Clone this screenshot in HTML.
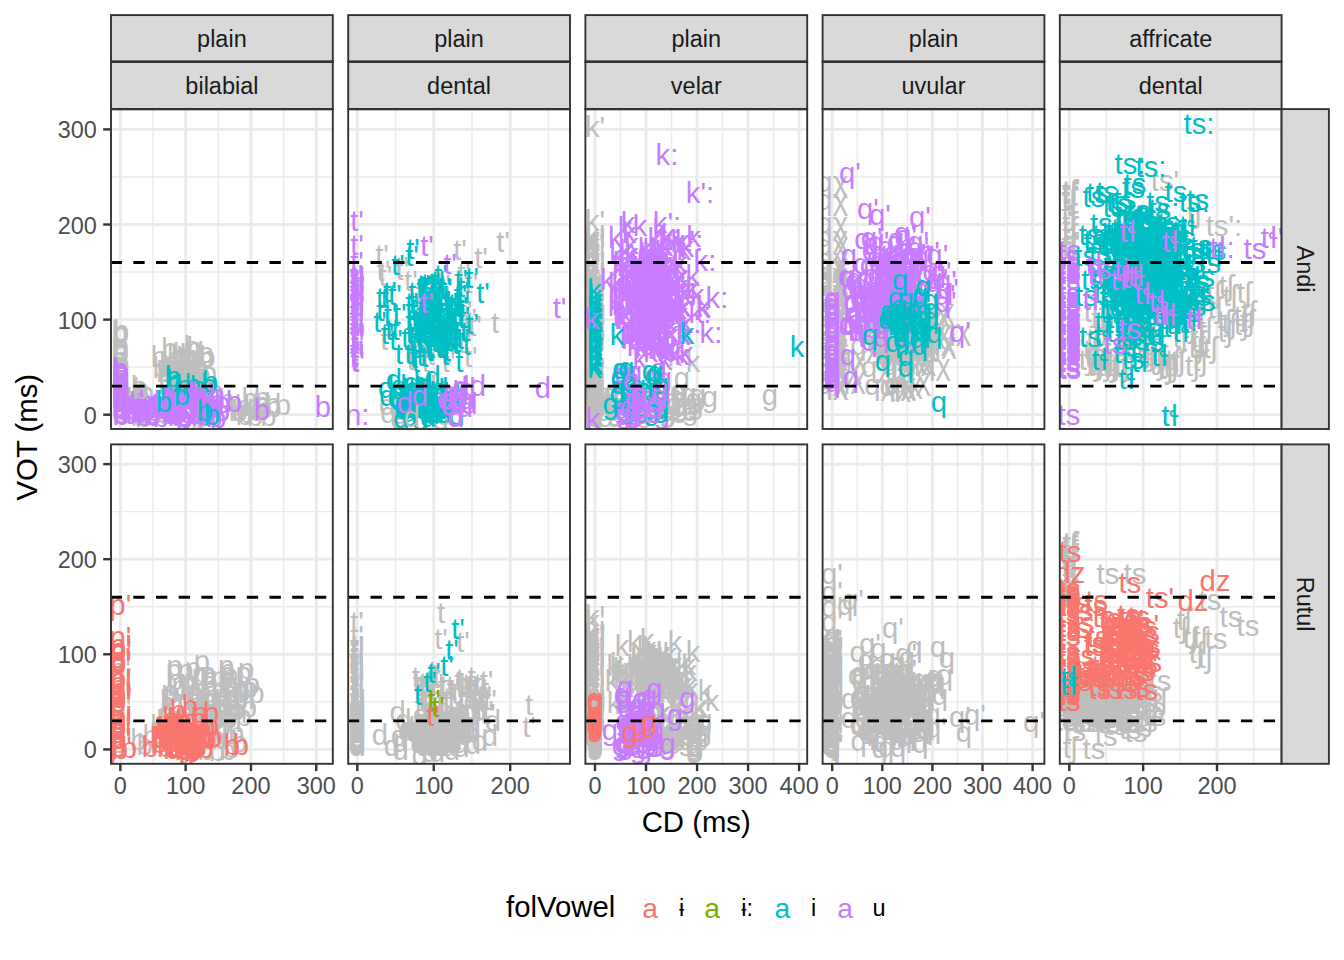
<!DOCTYPE html>
<html><head><meta charset="utf-8"><title>plot</title>
<style>html,body{margin:0;padding:0;background:#fff;}svg{display:block;}
text{font-family:"Liberation Sans","DejaVu Sans",sans-serif;}</style></head>
<body><svg width="1344" height="960" viewBox="0 0 1344 960">
<rect width="1344" height="960" fill="#fff"/>
<defs>
<clipPath id="cp00"><rect x="111.0" y="109.1" width="221.8" height="319.9"/></clipPath>
<clipPath id="cp01"><rect x="348.2" y="109.1" width="221.8" height="319.9"/></clipPath>
<clipPath id="cp02"><rect x="585.4" y="109.1" width="221.8" height="319.9"/></clipPath>
<clipPath id="cp03"><rect x="822.6" y="109.1" width="221.8" height="319.9"/></clipPath>
<clipPath id="cp04"><rect x="1059.8" y="109.1" width="221.8" height="319.9"/></clipPath>
<clipPath id="cp10"><rect x="111.0" y="444.4" width="221.8" height="319.4"/></clipPath>
<clipPath id="cp11"><rect x="348.2" y="444.4" width="221.8" height="319.4"/></clipPath>
<clipPath id="cp12"><rect x="585.4" y="444.4" width="221.8" height="319.4"/></clipPath>
<clipPath id="cp13"><rect x="822.6" y="444.4" width="221.8" height="319.4"/></clipPath>
<clipPath id="cp14"><rect x="1059.8" y="444.4" width="221.8" height="319.4"/></clipPath>
</defs>
<g clip-path="url(#cp00)">
<rect x="111.0" y="109.1" width="221.8" height="319.9" fill="#fff"/>
<line x1="111.0" x2="332.8" y1="367.15" y2="367.15" stroke="#EBEBEB" stroke-width="1.4"/>
<line x1="111.0" x2="332.8" y1="272.05" y2="272.05" stroke="#EBEBEB" stroke-width="1.4"/>
<line x1="111.0" x2="332.8" y1="176.95" y2="176.95" stroke="#EBEBEB" stroke-width="1.4"/>
<line y1="109.1" y2="429.0" x1="153.00" x2="153.00" stroke="#EBEBEB" stroke-width="1.4"/>
<line y1="109.1" y2="429.0" x1="218.30" x2="218.30" stroke="#EBEBEB" stroke-width="1.4"/>
<line y1="109.1" y2="429.0" x1="283.60" x2="283.60" stroke="#EBEBEB" stroke-width="1.4"/>
<line x1="111.0" x2="332.8" y1="414.70" y2="414.70" stroke="#EBEBEB" stroke-width="2.8"/>
<line x1="111.0" x2="332.8" y1="319.60" y2="319.60" stroke="#EBEBEB" stroke-width="2.8"/>
<line x1="111.0" x2="332.8" y1="224.50" y2="224.50" stroke="#EBEBEB" stroke-width="2.8"/>
<line x1="111.0" x2="332.8" y1="129.40" y2="129.40" stroke="#EBEBEB" stroke-width="2.8"/>
<line y1="109.1" y2="429.0" x1="120.35" x2="120.35" stroke="#EBEBEB" stroke-width="2.8"/>
<line y1="109.1" y2="429.0" x1="185.65" x2="185.65" stroke="#EBEBEB" stroke-width="2.8"/>
<line y1="109.1" y2="429.0" x1="250.95" x2="250.95" stroke="#EBEBEB" stroke-width="2.8"/>
<line y1="109.1" y2="429.0" x1="316.25" x2="316.25" stroke="#EBEBEB" stroke-width="2.8"/>
<g text-anchor="middle" font-size="29.3"><g fill="#BEBEBE"><text x="119.7" y="411.7">b</text><text x="120.8" y="361.9">b</text><text x="120.3" y="378.2">b</text><text x="120.6" y="406.7">b</text><text x="119.7" y="342.9">b</text><text x="120.9" y="376.8">b</text><text x="120.8" y="340.6">b</text><text x="120.3" y="401.1">b</text><text x="119.9" y="419.9">b</text><text x="121.0" y="343.0">b</text><text x="119.5" y="386.0">b</text><text x="121.1" y="372.5">b</text><text x="119.9" y="375.9">b</text><text x="119.5" y="359.1">b</text><text x="120.2" y="382.1">b</text><text x="119.9" y="359.9">b</text><text x="119.9" y="379.1">b</text><text x="120.0" y="342.3">b</text><text x="120.9" y="387.2">b</text><text x="120.6" y="356.1">b</text><text x="121.2" y="412.7">b</text><text x="119.7" y="368.4">b</text><text x="120.7" y="400.2">b</text><text x="121.1" y="375.9">b</text><text x="120.9" y="396.8">b</text><text x="120.0" y="389.8">b</text><text x="121.0" y="411.6">b</text><text x="120.4" y="389.9">b</text><text x="119.6" y="360.9">b</text><text x="120.9" y="375.3">b</text><text x="119.8" y="386.6">b</text><text x="120.7" y="397.1">b</text><text x="120.1" y="377.3">b</text><text x="120.4" y="405.9">b</text><text x="120.4" y="373.5">b</text><text x="120.3" y="343.0">b</text><text x="119.6" y="399.6">b</text><text x="121.2" y="390.3">b</text><text x="120.2" y="354.8">b</text><text x="120.4" y="423.0">b</text></g><g fill="#BEBEBE"><text x="187.9" y="365.2">b</text><text x="193.4" y="374.6">b</text><text x="167.4" y="375.2">b</text><text x="182.3" y="400.0">b</text><text x="186.9" y="382.1">b</text><text x="192.0" y="357.1">b</text><text x="207.3" y="367.4">b</text><text x="192.9" y="366.7">b</text><text x="167.4" y="376.9">b</text><text x="174.1" y="378.5">b</text><text x="164.3" y="382.0">b</text><text x="174.7" y="392.6">b</text><text x="160.6" y="377.8">b</text><text x="169.8" y="372.4">b</text><text x="197.8" y="384.2">b</text><text x="195.5" y="399.1">b</text><text x="205.7" y="363.3">b</text><text x="194.7" y="357.8">b</text><text x="183.9" y="409.3">b</text><text x="181.5" y="377.3">b</text><text x="188.1" y="382.7">b</text><text x="185.5" y="371.9">b</text><text x="204.5" y="394.9">b</text><text x="181.2" y="386.9">b</text><text x="196.9" y="396.9">b</text><text x="192.1" y="392.2">b</text><text x="180.3" y="367.5">b</text><text x="176.1" y="396.7">b</text><text x="202.6" y="384.5">b</text><text x="174.8" y="386.8">b</text><text x="214.9" y="401.4">b</text><text x="172.7" y="381.9">b</text><text x="158.9" y="366.6">b</text><text x="188.4" y="382.8">b</text><text x="202.4" y="400.2">b</text><text x="200.0" y="400.9">b</text><text x="175.2" y="366.7">b</text><text x="191.4" y="366.3">b</text><text x="189.4" y="402.4">b</text><text x="166.4" y="393.7">b</text><text x="174.0" y="400.3">b</text><text x="199.1" y="386.7">b</text><text x="172.7" y="408.4">b</text><text x="184.3" y="368.0">b</text><text x="185.0" y="384.3">b</text><text x="188.6" y="379.8">b</text><text x="175.0" y="378.8">b</text><text x="178.9" y="366.5">b</text><text x="173.0" y="391.4">b</text><text x="192.4" y="402.6">b</text><text x="174.2" y="386.2">b</text><text x="206.1" y="395.1">b</text><text x="179.0" y="398.3">b</text><text x="168.4" y="407.7">b</text><text x="187.8" y="380.9">b</text><text x="189.9" y="394.4">b</text><text x="178.4" y="390.7">b</text><text x="169.3" y="358.7">b</text><text x="200.0" y="377.2">b</text><text x="205.3" y="368.1">b</text></g><g fill="#BEBEBE"><text x="199.2" y="428.2">b</text><text x="162.5" y="423.0">b</text><text x="140.4" y="411.9">b</text><text x="261.9" y="412.7">b</text><text x="239.6" y="420.5">b</text><text x="251.6" y="415.8">b</text><text x="178.0" y="414.3">b</text><text x="255.5" y="420.6">b</text><text x="268.3" y="426.2">b</text><text x="147.9" y="419.5">b</text><text x="143.3" y="409.3">b</text><text x="138.8" y="425.8">b</text><text x="243.9" y="425.0">b</text><text x="178.1" y="420.8">b</text><text x="242.9" y="416.0">b</text><text x="211.9" y="412.9">b</text><text x="140.0" y="413.8">b</text><text x="258.9" y="419.8">b</text><text x="264.0" y="417.6">b</text><text x="168.7" y="424.2">b</text><text x="249.7" y="408.7">b</text><text x="226.6" y="410.3">b</text><text x="144.9" y="426.2">b</text><text x="133.9" y="413.3">b</text><text x="273.3" y="416.9">b</text><text x="145.0" y="411.8">b</text><text x="163.5" y="423.4">b</text><text x="143.1" y="426.7">b</text><text x="183.6" y="427.9">b</text><text x="261.7" y="414.4">b</text><text x="165.3" y="418.0">b</text><text x="142.7" y="421.5">b</text><text x="133.8" y="408.7">b</text><text x="272.4" y="414.4">b</text><text x="215.7" y="417.5">b</text></g><g fill="#BEBEBE"><text x="181.0" y="363.5">b</text><text x="139.0" y="396.5">b</text><text x="146.0" y="402.5">b</text><text x="209.0" y="382.5">b</text><text x="262.0" y="407.5">b</text><text x="283.0" y="415.0">b</text><text x="237.0" y="420.5">b</text><text x="255.0" y="425.5">b</text><text x="246.0" y="422.5">b</text><text x="134.0" y="410.5">b</text><text x="150.0" y="415.5">b</text></g><g fill="#C77CFF"><text x="120.0" y="380.5">b</text><text x="121.1" y="424.0">b</text><text x="121.1" y="382.8">b</text><text x="119.9" y="407.1">b</text><text x="121.2" y="403.5">b</text><text x="120.7" y="409.2">b</text><text x="119.9" y="403.5">b</text><text x="120.0" y="389.3">b</text><text x="119.6" y="391.0">b</text><text x="121.2" y="399.0">b</text><text x="120.6" y="408.4">b</text><text x="121.1" y="396.2">b</text><text x="120.0" y="393.2">b</text><text x="120.0" y="418.1">b</text><text x="121.0" y="392.0">b</text><text x="120.1" y="403.6">b</text><text x="120.5" y="406.1">b</text><text x="119.9" y="378.5">b</text><text x="119.9" y="380.9">b</text><text x="120.4" y="380.9">b</text><text x="119.6" y="408.0">b</text><text x="120.0" y="415.5">b</text><text x="120.3" y="418.9">b</text><text x="119.8" y="401.5">b</text><text x="120.9" y="381.2">b</text><text x="121.1" y="385.8">b</text><text x="120.8" y="424.7">b</text><text x="120.9" y="392.8">b</text><text x="119.7" y="402.2">b</text><text x="121.1" y="391.6">b</text></g><g fill="#00BFC4"><text x="209.2" y="395.3">b</text><text x="210.1" y="391.6">b</text><text x="177.4" y="421.2">b</text><text x="204.2" y="421.3">b</text><text x="206.2" y="415.8">b</text><text x="197.9" y="396.5">b</text><text x="183.8" y="395.8">b</text><text x="199.3" y="413.2">b</text><text x="173.9" y="392.7">b</text><text x="213.0" y="418.0">b</text><text x="190.2" y="408.9">b</text><text x="206.8" y="405.9">b</text><text x="181.8" y="402.0">b</text><text x="174.2" y="391.3">b</text></g><g fill="#00BFC4"><text x="173.0" y="386.5">b</text><text x="193.0" y="394.5">b</text><text x="168.0" y="408.5">b</text><text x="181.0" y="406.5">b</text><text x="206.0" y="412.5">b</text></g><g fill="#C77CFF"><text x="149.8" y="418.0">b</text><text x="146.5" y="411.6">b</text><text x="137.3" y="413.0">b</text><text x="127.4" y="415.1">b</text><text x="157.6" y="417.6">b</text><text x="139.2" y="421.5">b</text><text x="132.0" y="410.6">b</text><text x="144.7" y="419.5">b</text><text x="149.9" y="418.4">b</text><text x="151.5" y="423.6">b</text><text x="132.3" y="419.4">b</text><text x="142.6" y="414.5">b</text><text x="139.7" y="420.6">b</text><text x="161.0" y="427.0">b</text><text x="133.8" y="422.1">b</text><text x="124.1" y="411.8">b</text><text x="144.0" y="426.3">b</text><text x="128.9" y="424.3">b</text><text x="160.0" y="416.1">b</text><text x="151.8" y="425.8">b</text><text x="138.0" y="423.1">b</text><text x="153.7" y="421.2">b</text></g><g fill="#C77CFF"><text x="216.4" y="405.1">b</text><text x="215.2" y="415.9">b</text><text x="196.8" y="423.9">b</text><text x="190.3" y="415.9">b</text><text x="176.8" y="406.9">b</text><text x="176.1" y="426.3">b</text><text x="200.0" y="408.0">b</text><text x="200.6" y="417.4">b</text><text x="196.2" y="403.3">b</text><text x="173.3" y="408.0">b</text><text x="209.3" y="417.1">b</text><text x="196.9" y="410.4">b</text><text x="199.1" y="424.6">b</text><text x="199.8" y="417.5">b</text><text x="173.5" y="413.6">b</text><text x="202.3" y="423.0">b</text><text x="203.0" y="418.6">b</text><text x="186.2" y="419.1">b</text><text x="171.0" y="410.6">b</text><text x="197.0" y="413.8">b</text><text x="184.6" y="428.2">b</text><text x="199.3" y="404.4">b</text><text x="214.8" y="416.8">b</text><text x="193.1" y="408.1">b</text><text x="177.9" y="422.9">b</text><text x="218.2" y="427.6">b</text><text x="214.5" y="427.4">b</text><text x="205.4" y="425.6">b</text><text x="174.5" y="415.4">b</text><text x="171.2" y="418.3">b</text><text x="189.2" y="418.4">b</text><text x="169.6" y="421.6">b</text><text x="183.2" y="426.1">b</text><text x="196.3" y="406.6">b</text><text x="161.1" y="419.0">b</text><text x="180.3" y="422.2">b</text><text x="206.1" y="418.6">b</text><text x="201.4" y="410.1">b</text><text x="212.2" y="417.7">b</text><text x="200.4" y="411.4">b</text><text x="185.8" y="423.1">b</text><text x="172.1" y="411.7">b</text><text x="188.9" y="419.0">b</text><text x="173.8" y="423.9">b</text><text x="161.9" y="411.9">b</text><text x="216.6" y="410.5">b</text><text x="171.6" y="409.5">b</text><text x="176.0" y="412.5">b</text><text x="170.5" y="410.2">b</text><text x="222.2" y="413.1">b</text></g><g fill="#C77CFF"><text x="234.0" y="412.0">b</text><text x="262.0" y="420.0">b</text><text x="323.0" y="416.5">b</text><text x="222.0" y="420.5">b</text><text x="215.0" y="414.5">b</text></g><g fill="#BEBEBE"><text x="141.0" y="398.5">b</text></g><g fill="#00BFC4"><text x="164.0" y="411.5">b</text><text x="182.0" y="404.5">b</text><text x="205.0" y="420.5">b</text><text x="173.0" y="386.5">b</text><text x="212.0" y="424.5">b</text></g></g>
<line x1="110.6" x2="332.8" y1="262.54" y2="262.54" stroke="#000" stroke-width="2.9" stroke-dasharray="11.35 11.35"/>
<line x1="110.6" x2="332.8" y1="386.17" y2="386.17" stroke="#000" stroke-width="2.9" stroke-dasharray="11.35 11.35"/>
</g>
<rect x="111.0" y="109.1" width="221.8" height="319.9" fill="none" stroke="#333" stroke-width="1.9"/>
<g clip-path="url(#cp01)">
<rect x="348.2" y="109.1" width="221.8" height="319.9" fill="#fff"/>
<line x1="348.2" x2="570.0" y1="367.15" y2="367.15" stroke="#EBEBEB" stroke-width="1.4"/>
<line x1="348.2" x2="570.0" y1="272.05" y2="272.05" stroke="#EBEBEB" stroke-width="1.4"/>
<line x1="348.2" x2="570.0" y1="176.95" y2="176.95" stroke="#EBEBEB" stroke-width="1.4"/>
<line y1="109.1" y2="429.0" x1="395.52" x2="395.52" stroke="#EBEBEB" stroke-width="1.4"/>
<line y1="109.1" y2="429.0" x1="471.98" x2="471.98" stroke="#EBEBEB" stroke-width="1.4"/>
<line y1="109.1" y2="429.0" x1="548.42" x2="548.42" stroke="#EBEBEB" stroke-width="1.4"/>
<line x1="348.2" x2="570.0" y1="414.70" y2="414.70" stroke="#EBEBEB" stroke-width="2.8"/>
<line x1="348.2" x2="570.0" y1="319.60" y2="319.60" stroke="#EBEBEB" stroke-width="2.8"/>
<line x1="348.2" x2="570.0" y1="224.50" y2="224.50" stroke="#EBEBEB" stroke-width="2.8"/>
<line x1="348.2" x2="570.0" y1="129.40" y2="129.40" stroke="#EBEBEB" stroke-width="2.8"/>
<line y1="109.1" y2="429.0" x1="357.30" x2="357.30" stroke="#EBEBEB" stroke-width="2.8"/>
<line y1="109.1" y2="429.0" x1="433.75" x2="433.75" stroke="#EBEBEB" stroke-width="2.8"/>
<line y1="109.1" y2="429.0" x1="510.20" x2="510.20" stroke="#EBEBEB" stroke-width="2.8"/>
<g text-anchor="middle" font-size="29.3"><g fill="#BEBEBE"><text x="470.8" y="367.1">t'</text><text x="385.4" y="285.9">t'</text><text x="459.4" y="347.1">t'</text><text x="443.6" y="306.9">t'</text><text x="437.6" y="335.0">t'</text><text x="435.2" y="292.9">t'</text><text x="420.9" y="315.0">t'</text><text x="448.7" y="371.5">t'</text><text x="470.2" y="329.1">t'</text><text x="422.3" y="303.2">t'</text><text x="383.4" y="280.5">t'</text><text x="424.2" y="307.9">t'</text><text x="416.1" y="361.8">t'</text><text x="429.9" y="330.7">t'</text><text x="402.4" y="280.2">t'</text><text x="410.9" y="290.8">t'</text><text x="428.5" y="371.8">t'</text><text x="444.1" y="295.1">t'</text><text x="464.9" y="352.9">t'</text><text x="449.8" y="363.2">t'</text><text x="452.5" y="352.2">t'</text><text x="413.6" y="370.2">t'</text><text x="471.4" y="293.1">t'</text><text x="451.6" y="345.2">t'</text><text x="423.8" y="327.8">t'</text><text x="426.6" y="364.9">t'</text><text x="427.6" y="356.1">t'</text><text x="413.6" y="361.0">t'</text><text x="465.5" y="321.3">t'</text><text x="433.9" y="364.5">t'</text></g><g fill="#BEBEBE"><text x="382.0" y="265.0">t'</text><text x="460.0" y="260.0">t'</text><text x="503.0" y="252.0">t'</text><text x="481.0" y="268.0">t'</text><text x="464.0" y="283.0">t'</text><text x="402.0" y="277.0">t'</text><text x="387.0" y="350.0">t'</text><text x="475.0" y="336.0">t'</text></g><g fill="#BEBEBE"><text x="495.0" y="333.4">t</text><text x="430.0" y="359.4">t</text><text x="445.0" y="354.4">t</text></g><g fill="#C77CFF"><text x="357.7" y="325.8">t'</text><text x="356.9" y="311.2">t'</text><text x="357.7" y="296.9">t'</text><text x="358.0" y="306.1">t'</text><text x="358.0" y="309.8">t'</text><text x="358.1" y="345.5">t'</text><text x="357.4" y="328.6">t'</text><text x="357.6" y="334.9">t'</text><text x="357.0" y="300.7">t'</text><text x="357.4" y="366.0">t'</text><text x="357.6" y="288.7">t'</text><text x="357.9" y="347.3">t'</text><text x="358.0" y="299.2">t'</text><text x="357.8" y="287.3">t'</text><text x="357.6" y="306.5">t'</text><text x="356.9" y="360.8">t'</text><text x="356.7" y="329.0">t'</text><text x="358.0" y="304.0">t'</text><text x="356.9" y="361.2">t'</text><text x="357.2" y="346.5">t'</text><text x="356.6" y="314.6">t'</text><text x="356.8" y="342.5">t'</text><text x="356.6" y="367.9">t'</text><text x="356.5" y="347.6">t'</text><text x="356.5" y="305.0">t'</text><text x="357.9" y="296.1">t'</text><text x="356.8" y="344.2">t'</text><text x="357.2" y="285.8">t'</text><text x="358.2" y="295.6">t'</text><text x="356.6" y="312.9">t'</text><text x="357.5" y="348.8">t'</text><text x="356.7" y="312.3">t'</text><text x="356.6" y="322.3">t'</text><text x="357.8" y="348.6">t'</text><text x="358.0" y="350.0">t'</text><text x="358.0" y="345.4">t'</text><text x="357.3" y="302.3">t'</text><text x="357.6" y="310.4">t'</text><text x="356.7" y="322.3">t'</text><text x="358.0" y="293.4">t'</text><text x="357.5" y="317.3">t'</text><text x="357.4" y="294.9">t'</text><text x="358.1" y="305.3">t'</text><text x="357.5" y="319.7">t'</text><text x="356.5" y="332.2">t'</text><text x="356.7" y="287.1">t'</text><text x="356.6" y="296.5">t'</text><text x="356.7" y="339.1">t'</text><text x="357.4" y="370.5">t'</text><text x="358.1" y="371.5">t'</text><text x="356.9" y="322.0">t'</text><text x="356.9" y="335.2">t'</text><text x="357.6" y="354.0">t'</text><text x="357.7" y="305.1">t'</text><text x="357.2" y="329.3">t'</text><text x="356.5" y="285.2">t'</text><text x="357.2" y="292.0">t'</text><text x="357.7" y="303.6">t'</text><text x="356.7" y="298.3">t'</text><text x="356.9" y="301.5">t'</text><text x="357.4" y="323.8">t'</text><text x="357.0" y="339.7">t'</text><text x="356.9" y="363.6">t'</text><text x="358.1" y="347.6">t'</text><text x="357.2" y="328.0">t'</text><text x="357.5" y="286.6">t'</text><text x="357.2" y="329.2">t'</text><text x="356.8" y="290.4">t'</text><text x="357.9" y="314.9">t'</text><text x="357.4" y="364.9">t'</text><text x="357.5" y="308.0">t'</text><text x="358.2" y="315.5">t'</text><text x="356.5" y="343.6">t'</text><text x="356.7" y="309.5">t'</text><text x="357.9" y="342.5">t'</text></g><g fill="#C77CFF"><text x="357.0" y="231.0">t'</text><text x="357.0" y="255.0">t'</text><text x="357.0" y="272.0">t'</text></g><g fill="#00BFC4"><text x="454.3" y="330.3">t'</text><text x="425.3" y="341.5">t'</text><text x="443.8" y="356.3">t'</text><text x="449.2" y="336.0">t'</text><text x="416.1" y="364.8">t'</text><text x="459.8" y="345.0">t'</text><text x="445.5" y="354.8">t'</text><text x="426.9" y="343.4">t'</text><text x="439.3" y="305.9">t'</text><text x="444.1" y="335.7">t'</text><text x="462.9" y="348.7">t'</text><text x="437.9" y="323.4">t'</text><text x="425.9" y="295.9">t'</text><text x="436.3" y="302.5">t'</text><text x="429.3" y="346.9">t'</text><text x="442.3" y="311.4">t'</text><text x="423.3" y="323.8">t'</text><text x="463.3" y="316.8">t'</text><text x="463.2" y="310.6">t'</text><text x="436.1" y="343.3">t'</text><text x="428.2" y="329.2">t'</text><text x="420.0" y="342.5">t'</text><text x="455.2" y="313.7">t'</text><text x="441.6" y="319.0">t'</text><text x="447.8" y="346.1">t'</text><text x="444.4" y="331.8">t'</text><text x="472.2" y="287.8">t'</text><text x="434.6" y="318.7">t'</text><text x="436.1" y="343.3">t'</text><text x="428.9" y="298.7">t'</text><text x="423.2" y="338.0">t'</text><text x="452.3" y="345.7">t'</text><text x="461.4" y="316.5">t'</text><text x="452.9" y="343.0">t'</text><text x="436.7" y="311.4">t'</text><text x="451.3" y="313.0">t'</text><text x="434.9" y="306.5">t'</text><text x="463.5" y="326.8">t'</text><text x="432.0" y="322.5">t'</text><text x="435.8" y="329.9">t'</text><text x="415.1" y="302.4">t'</text><text x="446.1" y="351.8">t'</text><text x="424.8" y="330.4">t'</text><text x="434.6" y="304.1">t'</text><text x="451.2" y="323.3">t'</text><text x="438.4" y="295.7">t'</text><text x="441.0" y="285.1">t'</text><text x="442.1" y="358.2">t'</text><text x="422.0" y="346.7">t'</text><text x="458.7" y="323.5">t'</text><text x="454.6" y="329.8">t'</text><text x="423.9" y="295.2">t'</text><text x="472.3" y="333.6">t'</text><text x="436.5" y="298.2">t'</text><text x="463.1" y="302.3">t'</text><text x="459.8" y="351.8">t'</text><text x="440.0" y="313.4">t'</text><text x="438.3" y="298.8">t'</text><text x="448.1" y="365.0">t'</text><text x="451.5" y="351.0">t'</text><text x="429.2" y="334.7">t'</text><text x="424.6" y="318.0">t'</text><text x="440.0" y="328.7">t'</text><text x="412.4" y="331.8">t'</text><text x="426.2" y="297.0">t'</text><text x="418.1" y="331.1">t'</text><text x="433.4" y="342.9">t'</text><text x="435.7" y="327.9">t'</text><text x="459.6" y="345.7">t'</text><text x="449.8" y="360.5">t'</text><text x="442.1" y="306.1">t'</text><text x="427.8" y="293.5">t'</text><text x="443.9" y="319.0">t'</text><text x="446.2" y="346.4">t'</text><text x="427.6" y="332.0">t'</text><text x="456.8" y="329.8">t'</text><text x="452.1" y="323.6">t'</text><text x="425.6" y="322.9">t'</text><text x="412.5" y="343.6">t'</text><text x="431.7" y="357.7">t'</text><text x="421.7" y="330.7">t'</text><text x="443.8" y="323.5">t'</text><text x="444.4" y="311.2">t'</text><text x="423.9" y="296.8">t'</text><text x="431.0" y="309.9">t'</text><text x="442.3" y="319.8">t'</text><text x="429.7" y="311.7">t'</text><text x="412.2" y="319.8">t'</text><text x="444.8" y="298.4">t'</text><text x="435.4" y="342.9">t'</text><text x="429.2" y="332.2">t'</text><text x="458.7" y="354.3">t'</text><text x="429.3" y="342.4">t'</text><text x="436.7" y="336.0">t'</text><text x="430.9" y="331.5">t'</text><text x="428.1" y="334.5">t'</text><text x="463.9" y="297.4">t'</text><text x="420.3" y="339.2">t'</text><text x="450.2" y="319.6">t'</text><text x="447.4" y="337.5">t'</text><text x="446.8" y="358.7">t'</text><text x="429.8" y="342.7">t'</text><text x="441.9" y="312.6">t'</text><text x="446.1" y="298.9">t'</text><text x="417.9" y="352.0">t'</text><text x="423.3" y="365.8">t'</text><text x="453.8" y="316.3">t'</text><text x="437.9" y="291.3">t'</text><text x="461.3" y="290.3">t'</text><text x="433.9" y="357.6">t'</text></g><g fill="#00BFC4"><text x="421.8" y="330.9">t</text><text x="421.2" y="350.4">t</text><text x="446.2" y="340.4">t</text><text x="433.0" y="347.1">t</text><text x="420.0" y="356.5">t</text><text x="462.4" y="328.0">t</text><text x="431.4" y="327.3">t</text><text x="417.2" y="341.2">t</text><text x="439.0" y="330.6">t</text><text x="424.5" y="366.6">t</text><text x="439.2" y="355.7">t</text><text x="437.2" y="341.2">t</text><text x="437.6" y="352.8">t</text><text x="429.9" y="361.1">t</text><text x="430.0" y="359.0">t</text><text x="430.3" y="356.2">t</text><text x="417.5" y="335.1">t</text><text x="408.6" y="364.0">t</text><text x="439.3" y="347.7">t</text><text x="441.3" y="330.7">t</text><text x="431.7" y="336.0">t</text><text x="395.6" y="339.9">t</text><text x="413.8" y="367.6">t</text><text x="416.1" y="334.1">t</text><text x="448.0" y="344.1">t</text><text x="405.3" y="348.0">t</text><text x="416.0" y="372.2">t</text><text x="410.4" y="332.1">t</text><text x="464.4" y="342.2">t</text><text x="412.2" y="349.0">t</text><text x="424.5" y="343.6">t</text><text x="459.4" y="371.5">t</text><text x="412.9" y="312.2">t</text><text x="443.6" y="350.7">t</text><text x="430.7" y="342.3">t</text><text x="443.2" y="353.5">t</text><text x="434.7" y="352.3">t</text><text x="426.2" y="338.2">t</text><text x="455.6" y="340.2">t</text><text x="466.7" y="354.9">t</text></g><g fill="#00BFC4"><text x="399.7" y="323.9">t'</text><text x="428.3" y="303.3">t'</text><text x="423.2" y="298.6">t'</text><text x="396.0" y="350.1">t'</text><text x="452.0" y="326.3">t'</text><text x="439.4" y="347.5">t'</text><text x="390.6" y="324.5">t'</text><text x="389.9" y="302.0">t'</text><text x="387.7" y="307.7">t'</text><text x="382.8" y="307.9">t'</text><text x="412.1" y="332.3">t'</text><text x="455.3" y="349.2">t'</text><text x="442.6" y="325.4">t'</text><text x="460.5" y="304.7">t'</text><text x="387.5" y="344.0">t'</text><text x="434.4" y="307.6">t'</text><text x="412.0" y="312.8">t'</text><text x="416.8" y="320.6">t'</text><text x="413.8" y="342.8">t'</text><text x="451.0" y="328.7">t'</text></g><g fill="#00BFC4"><text x="413.0" y="259.0">t'</text><text x="412.0" y="266.0">t'</text><text x="398.0" y="275.0">t'</text><text x="483.0" y="303.0">t'</text><text x="383.0" y="321.0">t'</text><text x="395.0" y="305.0">t'</text><text x="380.0" y="332.0">t'</text><text x="392.0" y="340.0">t'</text></g><g fill="#00BFC4"><text x="399.0" y="364.4">t</text></g><g fill="#C77CFF"><text x="427.0" y="256.0">t'</text><text x="450.0" y="274.0">t'</text><text x="559.5" y="318.0">t'</text><text x="427.0" y="313.0">t'</text></g><g fill="#BEBEBE"><text x="419.5" y="405.4">d</text><text x="440.9" y="430.0">d</text><text x="401.7" y="420.1">d</text><text x="436.0" y="418.5">d</text><text x="387.2" y="414.8">d</text><text x="399.7" y="402.3">d</text><text x="427.3" y="418.1">d</text><text x="430.7" y="421.4">d</text><text x="436.3" y="412.1">d</text><text x="388.5" y="422.5">d</text><text x="445.1" y="424.7">d</text><text x="428.7" y="396.8">d</text><text x="399.3" y="399.3">d</text><text x="431.4" y="414.5">d</text><text x="398.6" y="428.9">d</text><text x="456.4" y="426.9">d</text><text x="418.9" y="405.7">d</text><text x="400.2" y="424.3">d</text><text x="436.2" y="405.2">d</text><text x="450.9" y="415.4">d</text></g><g fill="#00BFC4"><text x="404.1" y="416.4">d</text><text x="416.3" y="398.6">d</text><text x="415.0" y="405.7">d</text><text x="415.8" y="402.1">d</text><text x="430.6" y="406.4">d</text><text x="408.8" y="422.3">d</text><text x="402.9" y="418.9">d</text><text x="430.7" y="407.1">d</text><text x="423.8" y="393.7">d</text><text x="424.4" y="398.8">d</text><text x="404.1" y="413.3">d</text><text x="406.4" y="411.9">d</text><text x="427.4" y="422.1">d</text><text x="427.2" y="422.0">d</text><text x="406.1" y="406.3">d</text><text x="431.8" y="423.6">d</text><text x="428.1" y="404.5">d</text><text x="400.3" y="399.8">d</text><text x="440.4" y="399.4">d</text><text x="415.6" y="417.5">d</text><text x="427.9" y="402.5">d</text><text x="456.3" y="412.2">d</text><text x="425.0" y="419.5">d</text><text x="414.2" y="418.1">d</text><text x="417.3" y="400.5">d</text><text x="402.5" y="414.7">d</text><text x="421.7" y="408.6">d</text><text x="411.6" y="407.7">d</text><text x="434.4" y="422.7">d</text><text x="415.3" y="413.3">d</text><text x="386.1" y="397.6">d</text><text x="407.1" y="400.3">d</text><text x="432.6" y="387.2">d</text><text x="428.8" y="418.0">d</text><text x="460.1" y="405.0">d</text><text x="428.2" y="426.9">d</text><text x="437.0" y="400.0">d</text><text x="413.5" y="397.7">d</text><text x="421.2" y="418.1">d</text><text x="444.7" y="416.6">d</text><text x="436.2" y="422.2">d</text><text x="405.1" y="417.9">d</text><text x="437.6" y="408.4">d</text><text x="402.6" y="412.2">d</text><text x="422.8" y="418.1">d</text><text x="387.5" y="406.3">d</text><text x="456.6" y="424.8">d</text><text x="417.3" y="407.2">d</text><text x="415.1" y="399.7">d</text><text x="411.7" y="410.0">d</text><text x="398.2" y="409.6">d</text><text x="424.8" y="396.3">d</text><text x="411.8" y="393.3">d</text><text x="420.7" y="412.9">d</text><text x="410.6" y="411.3">d</text><text x="430.0" y="418.0">d</text><text x="395.8" y="406.9">d</text><text x="393.9" y="389.6">d</text><text x="438.4" y="418.9">d</text><text x="442.9" y="419.0">d</text><text x="410.9" y="412.8">d</text><text x="410.2" y="425.5">d</text><text x="409.9" y="418.4">d</text><text x="441.7" y="403.5">d</text><text x="444.7" y="422.5">d</text><text x="398.6" y="395.5">d</text><text x="437.1" y="402.5">d</text><text x="424.0" y="410.0">d</text><text x="401.5" y="428.2">d</text><text x="446.9" y="411.3">d</text><text x="448.5" y="410.4">d</text><text x="424.7" y="407.1">d</text><text x="396.1" y="406.7">d</text><text x="402.7" y="415.0">d</text><text x="422.7" y="404.1">d</text><text x="443.2" y="414.6">d</text><text x="453.0" y="406.2">d</text><text x="413.0" y="402.3">d</text><text x="424.3" y="408.7">d</text><text x="420.7" y="429.8">d</text></g><g fill="#C77CFF"><text x="467.4" y="408.8">d</text><text x="467.7" y="399.1">d</text><text x="459.9" y="397.7">d</text><text x="450.8" y="401.7">d</text><text x="445.2" y="408.8">d</text><text x="457.5" y="404.7">d</text><text x="461.3" y="397.2">d</text><text x="457.9" y="412.9">d</text><text x="455.1" y="425.7">d</text><text x="448.2" y="409.6">d</text><text x="456.5" y="407.8">d</text><text x="469.3" y="414.3">d</text><text x="457.9" y="410.0">d</text><text x="455.9" y="426.9">d</text><text x="465.0" y="416.8">d</text><text x="449.1" y="415.1">d</text></g><g fill="#C77CFF"><text x="478.0" y="395.5">d</text><text x="543.0" y="397.5">d</text><text x="420.0" y="405.5">d</text><text x="405.0" y="412.5">d</text></g><g fill="#BEBEBE"><text x="412.0" y="426.5">d</text></g><g fill="#C77CFF"><text x="357.3" y="424.9">n:</text></g></g>
<line x1="347.8" x2="570.0" y1="262.54" y2="262.54" stroke="#000" stroke-width="2.9" stroke-dasharray="11.35 11.35"/>
<line x1="347.8" x2="570.0" y1="386.17" y2="386.17" stroke="#000" stroke-width="2.9" stroke-dasharray="11.35 11.35"/>
</g>
<rect x="348.2" y="109.1" width="221.8" height="319.9" fill="none" stroke="#333" stroke-width="1.9"/>
<g clip-path="url(#cp02)">
<rect x="585.4" y="109.1" width="221.8" height="319.9" fill="#fff"/>
<line x1="585.4" x2="807.2" y1="367.15" y2="367.15" stroke="#EBEBEB" stroke-width="1.4"/>
<line x1="585.4" x2="807.2" y1="272.05" y2="272.05" stroke="#EBEBEB" stroke-width="1.4"/>
<line x1="585.4" x2="807.2" y1="176.95" y2="176.95" stroke="#EBEBEB" stroke-width="1.4"/>
<line y1="109.1" y2="429.0" x1="620.51" x2="620.51" stroke="#EBEBEB" stroke-width="1.4"/>
<line y1="109.1" y2="429.0" x1="671.54" x2="671.54" stroke="#EBEBEB" stroke-width="1.4"/>
<line y1="109.1" y2="429.0" x1="722.58" x2="722.58" stroke="#EBEBEB" stroke-width="1.4"/>
<line y1="109.1" y2="429.0" x1="773.61" x2="773.61" stroke="#EBEBEB" stroke-width="1.4"/>
<line x1="585.4" x2="807.2" y1="414.70" y2="414.70" stroke="#EBEBEB" stroke-width="2.8"/>
<line x1="585.4" x2="807.2" y1="319.60" y2="319.60" stroke="#EBEBEB" stroke-width="2.8"/>
<line x1="585.4" x2="807.2" y1="224.50" y2="224.50" stroke="#EBEBEB" stroke-width="2.8"/>
<line x1="585.4" x2="807.2" y1="129.40" y2="129.40" stroke="#EBEBEB" stroke-width="2.8"/>
<line y1="109.1" y2="429.0" x1="595.00" x2="595.00" stroke="#EBEBEB" stroke-width="2.8"/>
<line y1="109.1" y2="429.0" x1="646.03" x2="646.03" stroke="#EBEBEB" stroke-width="2.8"/>
<line y1="109.1" y2="429.0" x1="697.06" x2="697.06" stroke="#EBEBEB" stroke-width="2.8"/>
<line y1="109.1" y2="429.0" x1="748.09" x2="748.09" stroke="#EBEBEB" stroke-width="2.8"/>
<line y1="109.1" y2="429.0" x1="799.12" x2="799.12" stroke="#EBEBEB" stroke-width="2.8"/>
<g text-anchor="middle" font-size="29.3"><g fill="#BEBEBE"><text x="594.8" y="344.9">k'</text><text x="594.9" y="356.2">k'</text><text x="595.1" y="254.9">k'</text><text x="594.6" y="400.1">k'</text><text x="594.8" y="286.7">k'</text><text x="595.4" y="331.0">k'</text><text x="595.3" y="332.2">k'</text><text x="595.1" y="270.9">k'</text><text x="595.1" y="405.8">k'</text><text x="595.0" y="382.0">k'</text><text x="595.1" y="254.7">k'</text><text x="595.2" y="353.7">k'</text><text x="594.8" y="248.4">k'</text><text x="595.3" y="331.5">k'</text><text x="595.2" y="407.8">k'</text><text x="595.2" y="415.8">k'</text><text x="594.9" y="393.2">k'</text><text x="595.0" y="418.5">k'</text><text x="595.3" y="260.9">k'</text><text x="594.7" y="283.4">k'</text><text x="595.4" y="324.6">k'</text><text x="595.1" y="299.2">k'</text><text x="595.0" y="315.2">k'</text><text x="594.9" y="352.6">k'</text><text x="595.1" y="412.6">k'</text><text x="595.1" y="417.3">k'</text><text x="595.3" y="428.9">k'</text><text x="595.1" y="273.3">k'</text><text x="595.3" y="424.0">k'</text><text x="595.3" y="349.6">k'</text><text x="595.2" y="282.3">k'</text><text x="595.3" y="350.4">k'</text><text x="594.8" y="254.5">k'</text><text x="595.3" y="428.7">k'</text><text x="594.7" y="393.1">k'</text><text x="594.9" y="271.0">k'</text><text x="594.8" y="387.1">k'</text><text x="595.3" y="250.9">k'</text><text x="595.1" y="251.1">k'</text><text x="595.2" y="304.8">k'</text><text x="595.3" y="427.0">k'</text><text x="595.0" y="430.3">k'</text><text x="594.8" y="257.1">k'</text><text x="595.1" y="248.5">k'</text><text x="594.8" y="319.3">k'</text><text x="595.1" y="272.0">k'</text><text x="594.6" y="405.8">k'</text><text x="594.9" y="422.8">k'</text><text x="595.3" y="313.6">k'</text><text x="595.0" y="340.4">k'</text><text x="595.1" y="354.6">k'</text><text x="595.0" y="359.2">k'</text><text x="595.4" y="337.9">k'</text><text x="594.9" y="378.0">k'</text><text x="594.8" y="299.2">k'</text><text x="595.4" y="340.6">k'</text><text x="595.0" y="244.8">k'</text><text x="594.9" y="351.6">k'</text><text x="594.6" y="358.4">k'</text><text x="595.1" y="253.9">k'</text><text x="595.1" y="330.3">k'</text><text x="595.1" y="308.9">k'</text><text x="595.2" y="381.4">k'</text><text x="594.6" y="254.0">k'</text><text x="595.1" y="423.7">k'</text><text x="594.8" y="328.4">k'</text><text x="595.1" y="302.8">k'</text><text x="594.9" y="301.4">k'</text><text x="594.9" y="354.6">k'</text><text x="594.8" y="313.5">k'</text><text x="595.2" y="247.7">k'</text><text x="595.1" y="380.8">k'</text><text x="594.8" y="284.5">k'</text><text x="595.2" y="287.5">k'</text><text x="594.7" y="324.4">k'</text><text x="595.2" y="261.8">k'</text><text x="594.9" y="305.4">k'</text><text x="595.3" y="325.0">k'</text><text x="595.3" y="274.4">k'</text><text x="594.9" y="364.9">k'</text><text x="595.3" y="327.4">k'</text><text x="594.8" y="265.3">k'</text><text x="595.0" y="278.5">k'</text><text x="595.2" y="400.2">k'</text><text x="594.7" y="295.0">k'</text></g><g fill="#BEBEBE"><text x="595.2" y="378.4">g</text><text x="595.2" y="337.5">g</text><text x="594.7" y="330.1">g</text><text x="595.2" y="327.2">g</text><text x="594.9" y="347.4">g</text><text x="594.9" y="346.3">g</text><text x="595.3" y="311.3">g</text><text x="594.6" y="420.0">g</text><text x="595.3" y="426.0">g</text><text x="594.9" y="420.9">g</text><text x="595.3" y="320.5">g</text><text x="595.2" y="405.3">g</text><text x="595.1" y="361.4">g</text><text x="594.8" y="336.9">g</text><text x="594.8" y="299.2">g</text><text x="595.1" y="329.4">g</text><text x="595.2" y="296.0">g</text><text x="595.3" y="385.6">g</text><text x="595.3" y="413.5">g</text><text x="595.3" y="369.4">g</text><text x="594.6" y="392.7">g</text><text x="594.7" y="331.2">g</text><text x="595.1" y="362.3">g</text><text x="594.9" y="419.4">g</text><text x="595.1" y="336.9">g</text><text x="594.8" y="408.7">g</text><text x="595.0" y="397.8">g</text><text x="594.9" y="317.1">g</text><text x="595.0" y="402.5">g</text><text x="594.7" y="399.1">g</text><text x="595.3" y="401.1">g</text><text x="595.3" y="290.9">g</text><text x="595.1" y="408.9">g</text><text x="594.6" y="327.3">g</text><text x="594.8" y="362.6">g</text><text x="594.9" y="355.1">g</text><text x="595.2" y="290.1">g</text><text x="594.6" y="307.3">g</text><text x="594.7" y="299.3">g</text><text x="595.4" y="407.7">g</text></g><g fill="#BEBEBE"><text x="595.0" y="136.6">k'</text><text x="595.0" y="230.6">k'</text></g><g fill="#BEBEBE"><text x="611.4" y="412.4">g</text><text x="633.6" y="407.7">g</text><text x="637.1" y="416.0">g</text><text x="659.9" y="408.8">g</text><text x="621.5" y="408.0">g</text><text x="615.0" y="413.7">g</text><text x="672.5" y="409.3">g</text><text x="610.8" y="404.3">g</text><text x="639.2" y="414.9">g</text><text x="678.9" y="409.3">g</text><text x="680.7" y="415.4">g</text><text x="644.9" y="409.1">g</text><text x="651.1" y="417.4">g</text><text x="643.8" y="417.2">g</text><text x="647.7" y="405.9">g</text><text x="655.0" y="417.2">g</text><text x="609.9" y="410.4">g</text><text x="644.3" y="421.8">g</text><text x="693.8" y="409.2">g</text><text x="690.1" y="419.6">g</text><text x="628.4" y="411.4">g</text><text x="614.9" y="420.2">g</text><text x="667.2" y="422.0">g</text><text x="679.9" y="416.5">g</text><text x="674.2" y="413.9">g</text><text x="613.0" y="414.5">g</text><text x="603.5" y="403.4">g</text><text x="678.1" y="400.9">g</text><text x="611.9" y="402.3">g</text><text x="688.4" y="404.3">g</text><text x="605.3" y="420.9">g</text><text x="614.8" y="420.9">g</text><text x="668.3" y="420.7">g</text><text x="695.4" y="414.3">g</text><text x="680.5" y="400.7">g</text></g><g fill="#BEBEBE"><text x="682.0" y="387.8">g</text><text x="698.0" y="404.8">g</text><text x="710.0" y="406.8">g</text><text x="770.0" y="404.8">g</text><text x="690.0" y="414.8">g</text></g><g fill="#BEBEBE"><text x="693.0" y="371.6">k</text><text x="675.0" y="365.6">k</text></g><g fill="#00BFC4"><text x="595.3" y="339.0">k</text><text x="595.2" y="306.3">k</text><text x="595.2" y="373.3">k</text><text x="594.6" y="323.9">k</text><text x="595.1" y="364.7">k</text><text x="594.7" y="312.2">k</text><text x="594.7" y="347.5">k</text><text x="595.3" y="329.5">k</text><text x="594.9" y="329.7">k</text><text x="594.9" y="331.5">k</text><text x="594.6" y="338.1">k</text><text x="595.5" y="331.1">k</text><text x="595.2" y="310.6">k</text><text x="595.2" y="358.9">k</text><text x="595.2" y="339.5">k</text><text x="595.0" y="349.7">k</text><text x="595.4" y="309.7">k</text><text x="594.6" y="358.2">k</text><text x="595.4" y="339.5">k</text><text x="594.9" y="355.8">k</text><text x="594.7" y="319.3">k</text><text x="594.7" y="345.1">k</text><text x="594.8" y="316.4">k</text><text x="595.2" y="374.8">k</text><text x="594.8" y="354.7">k</text><text x="594.9" y="366.8">k</text><text x="595.1" y="319.3">k</text><text x="594.7" y="299.5">k</text><text x="595.0" y="328.6">k</text><text x="594.7" y="326.8">k</text><text x="594.8" y="360.3">k</text><text x="594.6" y="377.9">k</text><text x="595.0" y="346.1">k</text><text x="595.0" y="365.2">k</text><text x="595.3" y="342.7">k</text></g><g fill="#C77CFF"><text x="620.3" y="310.9">k</text><text x="664.6" y="283.4">k</text><text x="637.9" y="309.7">k</text><text x="655.0" y="349.9">k</text><text x="629.2" y="242.6">k</text><text x="661.0" y="289.1">k</text><text x="657.7" y="325.7">k</text><text x="664.0" y="346.0">k</text><text x="679.1" y="259.0">k</text><text x="650.7" y="361.6">k</text><text x="643.9" y="332.7">k</text><text x="650.9" y="293.8">k</text><text x="683.7" y="334.8">k</text><text x="647.1" y="331.0">k</text><text x="625.7" y="285.3">k</text><text x="670.0" y="306.7">k</text><text x="630.8" y="318.2">k</text><text x="658.6" y="341.6">k</text><text x="671.1" y="297.9">k</text><text x="642.3" y="301.7">k</text><text x="647.4" y="346.5">k</text><text x="683.8" y="343.6">k</text><text x="659.6" y="298.8">k</text><text x="670.1" y="295.8">k</text><text x="656.7" y="259.0">k</text><text x="643.5" y="345.9">k</text><text x="631.5" y="263.8">k</text><text x="648.7" y="352.3">k</text><text x="681.0" y="295.5">k</text><text x="642.4" y="302.5">k</text><text x="633.4" y="306.6">k</text><text x="646.0" y="264.3">k</text><text x="640.4" y="298.4">k</text><text x="634.8" y="274.3">k</text><text x="670.1" y="358.7">k</text><text x="646.3" y="293.7">k</text><text x="662.0" y="299.2">k</text><text x="636.3" y="344.6">k</text><text x="631.2" y="285.1">k</text><text x="638.7" y="280.8">k</text><text x="647.2" y="321.7">k</text><text x="680.8" y="324.2">k</text><text x="652.7" y="270.6">k</text><text x="650.8" y="279.3">k</text><text x="650.0" y="333.0">k</text><text x="656.1" y="299.7">k</text><text x="636.9" y="305.0">k</text><text x="654.2" y="279.6">k</text><text x="641.9" y="330.3">k</text><text x="618.8" y="293.2">k</text><text x="628.7" y="348.9">k</text><text x="664.1" y="320.0">k</text><text x="659.9" y="313.6">k</text><text x="657.8" y="261.2">k</text><text x="657.2" y="322.3">k</text><text x="623.4" y="328.7">k</text><text x="665.3" y="263.0">k</text><text x="642.6" y="297.0">k</text><text x="641.5" y="316.6">k</text><text x="626.5" y="299.4">k</text><text x="656.5" y="325.9">k</text><text x="653.0" y="298.8">k</text><text x="665.8" y="249.9">k</text><text x="670.7" y="297.0">k</text><text x="627.0" y="293.6">k</text><text x="615.3" y="248.4">k</text><text x="645.5" y="283.8">k</text><text x="666.7" y="280.8">k</text><text x="626.1" y="278.8">k</text><text x="686.3" y="306.3">k</text><text x="639.8" y="277.9">k</text><text x="630.0" y="301.0">k</text><text x="660.5" y="337.9">k</text><text x="674.9" y="313.2">k</text><text x="638.8" y="281.5">k</text><text x="660.4" y="296.1">k</text><text x="659.4" y="267.9">k</text><text x="669.9" y="313.9">k</text><text x="652.8" y="316.8">k</text><text x="607.3" y="290.0">k</text><text x="634.1" y="356.4">k</text><text x="648.3" y="291.5">k</text><text x="669.1" y="276.1">k</text><text x="680.4" y="285.9">k</text><text x="650.8" y="280.0">k</text><text x="668.2" y="244.8">k</text><text x="665.8" y="282.7">k</text><text x="653.0" y="273.4">k</text><text x="656.6" y="310.9">k</text><text x="663.8" y="314.4">k</text><text x="664.5" y="333.4">k</text><text x="644.2" y="272.6">k</text><text x="626.4" y="324.7">k</text><text x="644.5" y="335.1">k</text><text x="652.9" y="277.3">k</text><text x="670.1" y="360.0">k</text><text x="648.4" y="279.3">k</text><text x="635.1" y="330.5">k</text><text x="640.3" y="294.3">k</text><text x="665.7" y="305.9">k</text><text x="654.3" y="290.4">k</text><text x="639.2" y="310.2">k</text><text x="655.1" y="322.2">k</text><text x="642.0" y="315.3">k</text><text x="661.5" y="307.9">k</text><text x="663.4" y="333.9">k</text><text x="656.0" y="307.8">k</text><text x="632.6" y="314.8">k</text><text x="650.1" y="296.9">k</text><text x="635.5" y="321.7">k</text><text x="703.2" y="317.7">k</text><text x="653.7" y="317.8">k</text><text x="640.2" y="308.3">k</text><text x="638.8" y="287.7">k</text><text x="656.6" y="312.0">k</text><text x="649.8" y="283.4">k</text><text x="657.3" y="275.2">k</text><text x="667.4" y="295.9">k</text><text x="652.0" y="327.6">k</text><text x="663.1" y="269.4">k</text><text x="647.0" y="315.9">k</text><text x="650.6" y="304.3">k</text><text x="660.6" y="307.9">k</text><text x="654.6" y="312.3">k</text><text x="679.5" y="319.2">k</text><text x="662.8" y="294.6">k</text><text x="674.5" y="300.4">k</text><text x="666.8" y="246.6">k</text><text x="656.9" y="302.9">k</text><text x="642.8" y="341.6">k</text><text x="660.1" y="301.7">k</text><text x="641.5" y="358.1">k</text><text x="666.9" y="324.0">k</text><text x="636.8" y="342.1">k</text><text x="663.2" y="298.1">k</text><text x="649.9" y="260.1">k</text><text x="665.0" y="275.1">k</text><text x="668.8" y="293.3">k</text><text x="639.6" y="315.9">k</text><text x="656.2" y="274.1">k</text><text x="650.5" y="322.6">k</text><text x="647.0" y="268.1">k</text><text x="647.2" y="278.8">k</text><text x="640.5" y="306.9">k</text><text x="650.9" y="299.8">k</text><text x="619.0" y="315.4">k</text><text x="648.0" y="294.3">k</text><text x="655.1" y="359.4">k</text><text x="626.3" y="260.8">k</text><text x="667.2" y="283.6">k</text><text x="677.9" y="278.2">k</text><text x="642.3" y="328.9">k</text><text x="670.2" y="318.0">k</text><text x="661.1" y="302.0">k</text><text x="643.2" y="299.9">k</text><text x="677.3" y="325.3">k</text><text x="652.4" y="314.5">k</text><text x="668.5" y="338.6">k</text><text x="649.4" y="303.4">k</text><text x="656.8" y="341.0">k</text><text x="621.5" y="329.2">k</text><text x="624.1" y="275.5">k</text><text x="639.4" y="301.6">k</text><text x="655.6" y="315.8">k</text><text x="656.5" y="293.4">k</text><text x="703.5" y="316.6">k</text><text x="665.3" y="361.9">k</text><text x="671.2" y="321.7">k</text><text x="658.4" y="357.5">k</text><text x="630.6" y="279.0">k</text><text x="654.9" y="249.0">k</text><text x="636.6" y="337.0">k</text><text x="642.9" y="310.2">k</text><text x="665.7" y="273.3">k</text><text x="657.4" y="288.2">k</text><text x="630.3" y="298.0">k</text><text x="650.9" y="294.5">k</text><text x="638.9" y="332.1">k</text><text x="674.9" y="321.0">k</text><text x="650.1" y="276.4">k</text><text x="635.7" y="274.9">k</text><text x="656.1" y="331.0">k</text><text x="670.1" y="304.9">k</text><text x="644.4" y="310.6">k</text><text x="654.4" y="322.1">k</text><text x="681.2" y="286.7">k</text><text x="693.5" y="247.4">k</text><text x="616.7" y="263.6">k</text><text x="631.7" y="299.1">k</text><text x="692.9" y="286.2">k</text><text x="673.9" y="295.6">k</text><text x="655.0" y="277.3">k</text><text x="697.0" y="304.5">k</text><text x="639.8" y="368.7">k</text><text x="655.6" y="317.1">k</text><text x="649.1" y="282.6">k</text><text x="623.7" y="300.7">k</text><text x="684.0" y="317.3">k</text><text x="648.5" y="335.0">k</text><text x="633.5" y="343.8">k</text><text x="651.7" y="282.6">k</text><text x="665.4" y="319.9">k</text><text x="645.2" y="311.6">k</text><text x="671.4" y="344.6">k</text><text x="692.5" y="298.3">k</text><text x="643.7" y="317.5">k</text><text x="643.5" y="334.5">k</text><text x="627.3" y="299.9">k</text><text x="627.1" y="347.9">k</text><text x="647.1" y="336.1">k</text><text x="679.5" y="272.5">k</text><text x="647.6" y="325.6">k</text><text x="653.0" y="301.9">k</text><text x="668.7" y="330.9">k</text><text x="640.3" y="301.9">k</text><text x="664.8" y="311.5">k</text><text x="654.8" y="274.5">k</text><text x="686.8" y="299.2">k</text><text x="657.3" y="304.6">k</text><text x="653.3" y="309.8">k</text></g><g fill="#C77CFF"><text x="645.7" y="281.3">k</text><text x="616.0" y="309.3">k</text><text x="619.3" y="277.7">k</text><text x="631.3" y="343.9">k</text><text x="644.6" y="270.8">k</text><text x="615.4" y="293.6">k</text><text x="660.9" y="326.8">k</text><text x="683.2" y="344.8">k</text><text x="631.3" y="253.9">k</text><text x="671.1" y="342.2">k</text><text x="651.7" y="347.8">k</text><text x="655.0" y="273.4">k</text><text x="625.2" y="237.9">k</text><text x="662.2" y="356.7">k</text><text x="682.7" y="298.7">k</text><text x="663.9" y="361.0">k</text><text x="675.5" y="317.0">k</text><text x="644.3" y="305.6">k</text><text x="625.3" y="260.3">k</text><text x="665.3" y="369.6">k</text><text x="654.7" y="290.7">k</text><text x="639.4" y="297.0">k</text><text x="674.6" y="296.7">k</text><text x="686.8" y="256.6">k</text><text x="636.6" y="306.1">k</text><text x="644.1" y="350.5">k</text><text x="676.6" y="361.3">k</text><text x="659.8" y="239.7">k</text><text x="656.8" y="309.8">k</text><text x="650.0" y="273.4">k</text><text x="667.3" y="358.7">k</text><text x="620.0" y="325.9">k</text><text x="641.0" y="305.1">k</text><text x="681.9" y="365.3">k</text><text x="662.2" y="262.0">k</text><text x="683.8" y="260.1">k</text><text x="641.9" y="347.4">k</text><text x="636.7" y="272.2">k</text><text x="686.1" y="363.0">k</text><text x="636.8" y="288.6">k</text></g><g fill="#C77CFF"><text x="656.9" y="264.4">k':</text><text x="655.0" y="353.5">k':</text><text x="644.8" y="274.7">k':</text><text x="652.0" y="259.0">k':</text><text x="671.6" y="328.6">k':</text><text x="690.3" y="316.9">k':</text><text x="689.1" y="251.2">k':</text><text x="656.9" y="351.5">k':</text><text x="644.2" y="278.7">k':</text><text x="669.0" y="278.7">k':</text><text x="672.8" y="255.6">k':</text><text x="654.2" y="351.2">k':</text></g><g fill="#C77CFF"><text x="667.0" y="164.6">k:</text><text x="682.0" y="251.6">k:</text><text x="705.0" y="270.6">k:</text><text x="717.0" y="307.6">k:</text><text x="711.0" y="342.6">k:</text><text x="700.0" y="322.6">k:</text><text x="690.0" y="332.6">k:</text></g><g fill="#C77CFF"><text x="700.0" y="202.6">k':</text><text x="667.0" y="232.6">k':</text></g><g fill="#C77CFF"><text x="592.0" y="328.6">k</text><text x="593.0" y="428.6">k</text><text x="628.0" y="232.6">k</text><text x="640.0" y="235.6">k</text><text x="620.0" y="272.6">k</text><text x="615.0" y="315.6">k</text></g><g fill="#00BFC4"><text x="687.0" y="343.6">k</text><text x="797.0" y="356.6">k</text><text x="617.0" y="344.6">k</text></g><g fill="#C77CFF"><text x="622.2" y="418.5">g</text><text x="623.9" y="422.5">g</text><text x="648.7" y="406.6">g</text><text x="622.1" y="379.3">g</text><text x="653.0" y="384.9">g</text><text x="624.5" y="414.7">g</text><text x="658.7" y="379.1">g</text><text x="663.0" y="401.4">g</text><text x="634.1" y="381.7">g</text><text x="634.5" y="422.2">g</text><text x="629.0" y="382.9">g</text><text x="622.3" y="382.7">g</text><text x="632.6" y="418.9">g</text><text x="618.8" y="385.7">g</text><text x="662.0" y="422.7">g</text><text x="664.0" y="388.1">g</text></g><g fill="#00BFC4"><text x="628.4" y="417.7">g</text><text x="635.2" y="407.1">g</text><text x="626.3" y="377.7">g</text><text x="628.0" y="409.0">g</text><text x="650.7" y="401.3">g</text><text x="634.1" y="400.0">g</text><text x="633.0" y="399.8">g</text><text x="653.3" y="385.4">g</text><text x="640.9" y="416.9">g</text><text x="654.1" y="384.5">g</text><text x="660.1" y="412.9">g</text><text x="618.7" y="388.3">g</text><text x="620.5" y="379.1">g</text><text x="660.9" y="394.4">g</text><text x="655.4" y="381.7">g</text><text x="610.7" y="414.2">g</text><text x="651.3" y="419.5">g</text><text x="645.6" y="399.4">g</text><text x="649.8" y="380.8">g</text><text x="638.1" y="395.8">g</text><text x="617.6" y="402.6">g</text><text x="626.8" y="398.6">g</text><text x="629.4" y="390.5">g</text><text x="628.6" y="402.7">g</text><text x="661.0" y="417.1">g</text></g><g fill="#C77CFF"><text x="654.5" y="416.6">g</text><text x="631.5" y="421.9">g</text><text x="630.8" y="389.5">g</text><text x="640.0" y="412.6">g</text><text x="633.6" y="409.3">g</text><text x="631.3" y="421.6">g</text><text x="638.1" y="403.0">g</text><text x="641.3" y="418.1">g</text><text x="659.5" y="404.9">g</text><text x="637.7" y="408.3">g</text></g><g fill="#C77CFF"><text x="640.0" y="404.8">g</text><text x="655.0" y="412.8">g</text><text x="628.0" y="416.8">g</text><text x="660.0" y="399.8">g</text></g></g>
<line x1="585.0" x2="807.2" y1="262.54" y2="262.54" stroke="#000" stroke-width="2.9" stroke-dasharray="11.35 11.35"/>
<line x1="585.0" x2="807.2" y1="386.17" y2="386.17" stroke="#000" stroke-width="2.9" stroke-dasharray="11.35 11.35"/>
</g>
<rect x="585.4" y="109.1" width="221.8" height="319.9" fill="none" stroke="#333" stroke-width="1.9"/>
<g clip-path="url(#cp03)">
<rect x="822.6" y="109.1" width="221.8" height="319.9" fill="#fff"/>
<line x1="822.6" x2="1044.4" y1="367.15" y2="367.15" stroke="#EBEBEB" stroke-width="1.4"/>
<line x1="822.6" x2="1044.4" y1="272.05" y2="272.05" stroke="#EBEBEB" stroke-width="1.4"/>
<line x1="822.6" x2="1044.4" y1="176.95" y2="176.95" stroke="#EBEBEB" stroke-width="1.4"/>
<line y1="109.1" y2="429.0" x1="857.25" x2="857.25" stroke="#EBEBEB" stroke-width="1.4"/>
<line y1="109.1" y2="429.0" x1="907.35" x2="907.35" stroke="#EBEBEB" stroke-width="1.4"/>
<line y1="109.1" y2="429.0" x1="957.45" x2="957.45" stroke="#EBEBEB" stroke-width="1.4"/>
<line y1="109.1" y2="429.0" x1="1007.55" x2="1007.55" stroke="#EBEBEB" stroke-width="1.4"/>
<line x1="822.6" x2="1044.4" y1="414.70" y2="414.70" stroke="#EBEBEB" stroke-width="2.8"/>
<line x1="822.6" x2="1044.4" y1="319.60" y2="319.60" stroke="#EBEBEB" stroke-width="2.8"/>
<line x1="822.6" x2="1044.4" y1="224.50" y2="224.50" stroke="#EBEBEB" stroke-width="2.8"/>
<line x1="822.6" x2="1044.4" y1="129.40" y2="129.40" stroke="#EBEBEB" stroke-width="2.8"/>
<line y1="109.1" y2="429.0" x1="832.20" x2="832.20" stroke="#EBEBEB" stroke-width="2.8"/>
<line y1="109.1" y2="429.0" x1="882.30" x2="882.30" stroke="#EBEBEB" stroke-width="2.8"/>
<line y1="109.1" y2="429.0" x1="932.40" x2="932.40" stroke="#EBEBEB" stroke-width="2.8"/>
<line y1="109.1" y2="429.0" x1="982.50" x2="982.50" stroke="#EBEBEB" stroke-width="2.8"/>
<line y1="109.1" y2="429.0" x1="1032.60" x2="1032.60" stroke="#EBEBEB" stroke-width="2.8"/>
<g text-anchor="middle" font-size="29.3"><g fill="#BEBEBE"><text x="832.2" y="191.9">qχ</text><text x="832.2" y="209.9">qχ</text><text x="832.2" y="232.9">qχ</text><text x="832.2" y="246.9">qχ</text><text x="832.2" y="254.9">qχ</text></g><g fill="#BEBEBE"><text x="831.9" y="277.0">qχ</text><text x="832.1" y="284.1">qχ</text><text x="831.8" y="317.9">qχ</text><text x="832.6" y="372.5">qχ</text><text x="832.5" y="293.3">qχ</text><text x="832.2" y="300.8">qχ</text><text x="831.9" y="277.4">qχ</text><text x="831.9" y="389.9">qχ</text><text x="832.5" y="373.4">qχ</text><text x="832.5" y="289.4">qχ</text><text x="832.0" y="348.8">qχ</text><text x="832.4" y="379.9">qχ</text><text x="832.6" y="274.7">qχ</text><text x="832.3" y="354.9">qχ</text><text x="832.2" y="287.2">qχ</text><text x="832.2" y="275.1">qχ</text><text x="832.6" y="381.4">qχ</text><text x="832.2" y="304.0">qχ</text><text x="832.6" y="341.3">qχ</text><text x="832.6" y="379.0">qχ</text><text x="832.2" y="319.6">qχ</text><text x="832.3" y="321.9">qχ</text><text x="831.9" y="304.7">qχ</text><text x="832.5" y="268.8">qχ</text><text x="831.7" y="348.7">qχ</text><text x="832.0" y="336.1">qχ</text><text x="832.2" y="309.8">qχ</text><text x="832.7" y="289.7">qχ</text><text x="832.1" y="290.6">qχ</text><text x="832.3" y="300.7">qχ</text><text x="832.1" y="365.2">qχ</text><text x="832.0" y="339.4">qχ</text><text x="832.6" y="276.7">qχ</text><text x="831.8" y="294.2">qχ</text><text x="832.5" y="347.2">qχ</text><text x="831.9" y="308.2">qχ</text><text x="831.9" y="325.7">qχ</text><text x="831.7" y="358.4">qχ</text><text x="832.6" y="393.7">qχ</text><text x="832.4" y="394.4">qχ</text></g><g fill="#BEBEBE"><text x="914.7" y="351.9">qχ</text><text x="935.5" y="341.8">qχ</text><text x="846.4" y="378.0">qχ</text><text x="862.8" y="322.0">qχ</text><text x="890.8" y="363.7">qχ</text><text x="882.8" y="354.0">qχ</text><text x="849.9" y="387.9">qχ</text><text x="893.4" y="352.5">qχ</text><text x="909.1" y="353.6">qχ</text><text x="899.8" y="329.4">qχ</text><text x="892.3" y="359.5">qχ</text><text x="920.0" y="347.2">qχ</text><text x="897.2" y="357.3">qχ</text><text x="908.7" y="354.4">qχ</text><text x="888.9" y="338.6">qχ</text><text x="922.0" y="356.4">qχ</text><text x="916.2" y="368.6">qχ</text><text x="898.7" y="327.5">qχ</text><text x="922.3" y="347.9">qχ</text><text x="896.3" y="372.4">qχ</text><text x="919.4" y="355.1">qχ</text><text x="895.4" y="396.0">qχ</text><text x="908.7" y="327.3">qχ</text><text x="913.0" y="353.2">qχ</text><text x="895.8" y="364.9">qχ</text><text x="900.6" y="394.0">qχ</text><text x="899.9" y="355.4">qχ</text><text x="922.9" y="337.4">qχ</text><text x="919.3" y="348.5">qχ</text><text x="923.4" y="331.2">qχ</text><text x="905.1" y="314.7">qχ</text><text x="884.4" y="350.2">qχ</text><text x="906.9" y="393.3">qχ</text><text x="939.1" y="320.4">qχ</text><text x="876.8" y="377.4">qχ</text><text x="905.5" y="319.8">qχ</text><text x="906.7" y="325.1">qχ</text><text x="874.4" y="322.2">qχ</text><text x="904.1" y="347.5">qχ</text><text x="955.3" y="339.7">qχ</text><text x="891.4" y="344.1">qχ</text><text x="905.1" y="343.0">qχ</text><text x="929.9" y="343.4">qχ</text><text x="908.5" y="354.8">qχ</text><text x="874.4" y="328.4">qχ</text><text x="895.4" y="351.6">qχ</text><text x="898.4" y="348.2">qχ</text><text x="903.5" y="342.2">qχ</text><text x="910.4" y="314.1">qχ</text><text x="916.8" y="330.5">qχ</text><text x="906.7" y="339.7">qχ</text><text x="884.8" y="332.5">qχ</text><text x="927.2" y="326.0">qχ</text><text x="866.1" y="354.6">qχ</text><text x="901.2" y="350.8">qχ</text><text x="872.0" y="335.6">qχ</text><text x="916.7" y="327.2">qχ</text><text x="909.7" y="365.8">qχ</text><text x="898.2" y="323.3">qχ</text><text x="940.7" y="352.6">qχ</text><text x="899.7" y="341.7">qχ</text><text x="872.4" y="344.1">qχ</text><text x="899.8" y="331.4">qχ</text><text x="897.8" y="375.1">qχ</text><text x="905.5" y="347.8">qχ</text><text x="920.2" y="370.0">qχ</text><text x="916.6" y="332.5">qχ</text><text x="851.6" y="367.4">qχ</text><text x="896.5" y="341.8">qχ</text><text x="906.6" y="340.0">qχ</text></g><g fill="#BEBEBE"><text x="935.0" y="322.9">qχ</text><text x="940.0" y="349.9">qχ</text><text x="935.0" y="374.9">qχ</text><text x="915.0" y="389.9">qχ</text><text x="880.0" y="394.9">qχ</text><text x="900.0" y="394.9">qχ</text></g><g fill="#C77CFF"><text x="832.0" y="380.6">q</text><text x="832.1" y="377.3">q</text><text x="831.9" y="383.9">q</text><text x="831.9" y="320.8">q</text><text x="832.2" y="337.3">q</text><text x="832.2" y="386.5">q</text><text x="832.4" y="308.3">q</text><text x="832.0" y="355.3">q</text><text x="832.2" y="370.1">q</text><text x="832.2" y="314.4">q</text><text x="831.9" y="381.6">q</text><text x="832.1" y="374.5">q</text><text x="832.7" y="362.4">q</text><text x="832.4" y="360.9">q</text><text x="832.0" y="387.3">q</text><text x="832.2" y="387.1">q</text><text x="832.0" y="383.3">q</text><text x="832.5" y="361.2">q</text><text x="832.1" y="320.1">q</text><text x="832.5" y="339.4">q</text><text x="832.4" y="319.4">q</text><text x="831.8" y="320.4">q</text><text x="832.5" y="323.3">q</text><text x="832.6" y="340.2">q</text><text x="832.3" y="338.3">q</text><text x="832.3" y="316.0">q</text><text x="832.1" y="389.3">q</text><text x="831.9" y="364.8">q</text><text x="832.0" y="334.0">q</text><text x="831.7" y="309.6">q</text><text x="832.6" y="380.0">q</text><text x="832.5" y="378.1">q</text><text x="832.7" y="321.6">q</text><text x="832.3" y="350.9">q</text><text x="832.3" y="389.4">q</text><text x="832.5" y="392.1">q</text><text x="831.8" y="364.5">q</text><text x="832.4" y="372.7">q</text><text x="832.3" y="380.2">q</text><text x="832.0" y="388.6">q</text><text x="832.1" y="360.0">q</text><text x="832.6" y="369.1">q</text><text x="832.0" y="327.9">q</text><text x="832.0" y="362.4">q</text><text x="832.7" y="386.1">q</text><text x="832.1" y="342.7">q</text><text x="832.5" y="332.5">q</text><text x="832.1" y="309.0">q</text><text x="831.9" y="354.8">q</text><text x="832.4" y="361.3">q</text></g><g fill="#C77CFF"><text x="851.0" y="386.8">q</text><text x="848.0" y="364.8">q</text></g><g fill="#C77CFF"><text x="850.0" y="183.0">q'</text><text x="920.0" y="227.0">q'</text><text x="960.0" y="342.0">q'</text><text x="948.0" y="299.0">q'</text><text x="868.0" y="219.0">q'</text><text x="880.0" y="225.0">q'</text><text x="905.0" y="243.0">q'</text></g><g fill="#C77CFF"><text x="867.3" y="318.3">q'</text><text x="890.1" y="277.7">q'</text><text x="944.7" y="305.1">q'</text><text x="940.6" y="281.9">q'</text><text x="884.9" y="275.6">q'</text><text x="910.3" y="292.6">q'</text><text x="905.6" y="325.7">q'</text><text x="923.7" y="265.5">q'</text><text x="906.3" y="295.7">q'</text><text x="883.9" y="326.7">q'</text><text x="915.4" y="312.3">q'</text><text x="887.9" y="264.5">q'</text><text x="912.3" y="281.5">q'</text><text x="887.0" y="283.4">q'</text><text x="902.0" y="287.7">q'</text><text x="894.1" y="293.4">q'</text><text x="888.3" y="321.7">q'</text><text x="888.8" y="257.2">q'</text><text x="871.7" y="248.2">q'</text><text x="919.9" y="265.2">q'</text><text x="870.8" y="274.9">q'</text><text x="894.0" y="262.5">q'</text><text x="887.0" y="284.9">q'</text><text x="910.2" y="267.9">q'</text><text x="908.5" y="289.6">q'</text><text x="908.3" y="275.2">q'</text><text x="875.7" y="302.2">q'</text><text x="908.9" y="272.8">q'</text><text x="882.9" y="297.4">q'</text><text x="936.3" y="291.5">q'</text><text x="945.9" y="290.5">q'</text><text x="904.4" y="293.6">q'</text><text x="918.5" y="257.7">q'</text><text x="900.7" y="307.8">q'</text><text x="868.1" y="289.2">q'</text><text x="912.1" y="315.9">q'</text><text x="927.7" y="284.4">q'</text><text x="937.3" y="264.9">q'</text><text x="871.2" y="309.0">q'</text><text x="910.7" y="264.3">q'</text><text x="918.6" y="300.6">q'</text><text x="911.8" y="277.0">q'</text><text x="873.5" y="254.4">q'</text><text x="893.8" y="282.1">q'</text><text x="888.1" y="274.8">q'</text><text x="915.6" y="264.4">q'</text><text x="883.7" y="320.8">q'</text><text x="885.8" y="273.5">q'</text><text x="918.2" y="252.3">q'</text><text x="928.8" y="261.8">q'</text><text x="882.0" y="261.7">q'</text><text x="879.6" y="271.6">q'</text><text x="915.7" y="283.7">q'</text><text x="924.2" y="299.0">q'</text><text x="874.1" y="285.3">q'</text><text x="886.2" y="277.2">q'</text><text x="900.2" y="291.6">q'</text><text x="906.2" y="246.4">q'</text><text x="894.9" y="276.6">q'</text><text x="933.2" y="280.5">q'</text><text x="897.2" y="285.0">q'</text><text x="912.8" y="264.1">q'</text><text x="895.4" y="282.6">q'</text><text x="897.5" y="280.3">q'</text><text x="887.5" y="286.4">q'</text><text x="872.6" y="314.2">q'</text><text x="897.6" y="251.9">q'</text><text x="892.4" y="302.1">q'</text><text x="894.0" y="282.1">q'</text><text x="854.1" y="310.6">q'</text><text x="899.0" y="249.2">q'</text><text x="889.2" y="311.3">q'</text><text x="905.2" y="257.8">q'</text><text x="887.1" y="289.3">q'</text><text x="937.4" y="289.3">q'</text><text x="911.9" y="279.0">q'</text><text x="898.7" y="266.6">q'</text><text x="872.6" y="260.2">q'</text><text x="886.6" y="307.6">q'</text><text x="897.1" y="306.6">q'</text><text x="912.6" y="287.7">q'</text><text x="888.3" y="323.9">q'</text><text x="919.6" y="307.5">q'</text><text x="945.6" y="312.4">q'</text><text x="902.2" y="291.9">q'</text><text x="908.6" y="325.7">q'</text><text x="878.5" y="252.0">q'</text><text x="888.7" y="285.1">q'</text><text x="886.7" y="301.8">q'</text><text x="909.4" y="284.4">q'</text></g><g fill="#C77CFF"><text x="869.4" y="351.0">q</text><text x="908.2" y="346.9">q</text><text x="860.5" y="334.6">q</text><text x="902.4" y="326.1">q</text><text x="881.7" y="339.3">q</text><text x="901.6" y="311.8">q</text><text x="873.7" y="319.6">q</text><text x="885.3" y="309.5">q</text><text x="853.1" y="290.6">q</text><text x="880.3" y="303.9">q</text><text x="897.0" y="293.9">q</text><text x="874.8" y="303.7">q</text><text x="893.7" y="283.5">q</text><text x="849.0" y="264.6">q</text><text x="878.6" y="314.6">q</text><text x="882.8" y="325.7">q</text><text x="846.6" y="335.0">q</text><text x="885.8" y="270.5">q</text><text x="879.2" y="308.1">q</text><text x="870.8" y="322.2">q</text><text x="856.2" y="297.8">q</text><text x="855.0" y="289.3">q</text><text x="847.4" y="333.3">q</text><text x="880.2" y="299.5">q</text><text x="869.1" y="310.3">q</text><text x="881.5" y="346.7">q</text><text x="862.5" y="248.6">q</text><text x="862.2" y="305.0">q</text><text x="857.0" y="340.7">q</text><text x="859.4" y="313.1">q</text><text x="852.1" y="323.7">q</text><text x="854.6" y="325.4">q</text><text x="871.2" y="309.3">q</text><text x="874.8" y="266.8">q</text><text x="859.4" y="310.7">q</text><text x="860.8" y="334.3">q</text><text x="886.1" y="287.9">q</text><text x="892.1" y="300.0">q</text><text x="879.6" y="334.9">q</text><text x="846.1" y="285.8">q</text><text x="867.3" y="299.7">q</text><text x="871.8" y="310.3">q</text><text x="874.7" y="322.8">q</text><text x="852.0" y="313.1">q</text><text x="859.9" y="293.9">q</text><text x="851.0" y="334.6">q</text><text x="882.2" y="297.6">q</text><text x="855.3" y="330.5">q</text><text x="849.6" y="298.6">q</text><text x="876.6" y="292.8">q</text><text x="858.1" y="307.0">q</text><text x="888.0" y="283.2">q</text><text x="879.1" y="303.8">q</text><text x="861.5" y="273.5">q</text><text x="903.1" y="319.0">q</text><text x="873.8" y="297.9">q</text><text x="900.7" y="289.8">q</text><text x="848.2" y="286.5">q</text><text x="867.4" y="313.1">q</text><text x="873.7" y="331.1">q</text></g><g fill="#00BFC4"><text x="901.0" y="349.4">q</text><text x="931.3" y="319.0">q</text><text x="901.8" y="342.0">q</text><text x="921.0" y="327.1">q</text><text x="920.2" y="303.8">q</text><text x="917.5" y="333.8">q</text><text x="917.0" y="334.4">q</text><text x="914.1" y="320.5">q</text><text x="923.3" y="296.0">q</text><text x="908.6" y="317.7">q</text><text x="930.6" y="310.2">q</text><text x="906.9" y="326.8">q</text><text x="915.8" y="327.1">q</text><text x="891.4" y="325.1">q</text><text x="920.5" y="338.6">q</text><text x="895.9" y="308.4">q</text><text x="888.6" y="325.6">q</text><text x="903.2" y="321.8">q</text><text x="898.5" y="330.0">q</text><text x="922.5" y="342.3">q</text><text x="899.7" y="339.0">q</text><text x="902.1" y="346.5">q</text><text x="918.7" y="341.4">q</text><text x="934.3" y="342.8">q</text><text x="917.2" y="348.2">q</text><text x="891.9" y="322.4">q</text><text x="900.9" y="340.2">q</text><text x="905.9" y="308.6">q</text><text x="895.4" y="324.3">q</text><text x="899.4" y="320.4">q</text><text x="886.2" y="329.2">q</text><text x="888.5" y="321.4">q</text><text x="897.3" y="322.6">q</text><text x="924.0" y="320.9">q</text><text x="900.1" y="289.9">q</text><text x="893.8" y="330.9">q</text><text x="901.2" y="339.2">q</text><text x="901.5" y="339.3">q</text><text x="908.8" y="343.5">q</text><text x="901.7" y="340.7">q</text><text x="899.2" y="315.7">q</text><text x="920.2" y="306.6">q</text><text x="893.3" y="351.9">q</text><text x="907.6" y="332.9">q</text><text x="908.4" y="326.7">q</text><text x="931.1" y="327.9">q</text><text x="924.0" y="327.2">q</text><text x="896.3" y="323.2">q</text><text x="906.0" y="366.0">q</text><text x="897.4" y="333.8">q</text></g><g fill="#00BFC4"><text x="883.0" y="370.8">q</text><text x="906.0" y="376.8">q</text><text x="939.0" y="411.8">q</text><text x="870.0" y="344.8">q</text><text x="920.0" y="354.8">q</text></g></g>
<line x1="822.2" x2="1044.4" y1="262.54" y2="262.54" stroke="#000" stroke-width="2.9" stroke-dasharray="11.35 11.35"/>
<line x1="822.2" x2="1044.4" y1="386.17" y2="386.17" stroke="#000" stroke-width="2.9" stroke-dasharray="11.35 11.35"/>
</g>
<rect x="822.6" y="109.1" width="221.8" height="319.9" fill="none" stroke="#333" stroke-width="1.9"/>
<g clip-path="url(#cp04)">
<rect x="1059.8" y="109.1" width="221.8" height="319.9" fill="#fff"/>
<line x1="1059.8" x2="1281.6" y1="367.15" y2="367.15" stroke="#EBEBEB" stroke-width="1.4"/>
<line x1="1059.8" x2="1281.6" y1="272.05" y2="272.05" stroke="#EBEBEB" stroke-width="1.4"/>
<line x1="1059.8" x2="1281.6" y1="176.95" y2="176.95" stroke="#EBEBEB" stroke-width="1.4"/>
<line y1="109.1" y2="429.0" x1="1106.22" x2="1106.22" stroke="#EBEBEB" stroke-width="1.4"/>
<line y1="109.1" y2="429.0" x1="1180.08" x2="1180.08" stroke="#EBEBEB" stroke-width="1.4"/>
<line y1="109.1" y2="429.0" x1="1253.92" x2="1253.92" stroke="#EBEBEB" stroke-width="1.4"/>
<line x1="1059.8" x2="1281.6" y1="414.70" y2="414.70" stroke="#EBEBEB" stroke-width="2.8"/>
<line x1="1059.8" x2="1281.6" y1="319.60" y2="319.60" stroke="#EBEBEB" stroke-width="2.8"/>
<line x1="1059.8" x2="1281.6" y1="224.50" y2="224.50" stroke="#EBEBEB" stroke-width="2.8"/>
<line x1="1059.8" x2="1281.6" y1="129.40" y2="129.40" stroke="#EBEBEB" stroke-width="2.8"/>
<line y1="109.1" y2="429.0" x1="1069.30" x2="1069.30" stroke="#EBEBEB" stroke-width="2.8"/>
<line y1="109.1" y2="429.0" x1="1143.15" x2="1143.15" stroke="#EBEBEB" stroke-width="2.8"/>
<line y1="109.1" y2="429.0" x1="1217.00" x2="1217.00" stroke="#EBEBEB" stroke-width="2.8"/>
<g text-anchor="middle" font-size="29.3"><g fill="#BEBEBE"><text x="1069.4" y="244.5">tʃ</text><text x="1069.6" y="258.5">tʃ</text><text x="1069.5" y="257.1">tʃ</text><text x="1068.8" y="225.2">tʃ</text><text x="1069.7" y="238.0">tʃ</text><text x="1069.7" y="200.5">tʃ</text><text x="1069.3" y="209.8">tʃ</text><text x="1069.3" y="232.8">tʃ</text><text x="1068.8" y="207.7">tʃ</text><text x="1069.1" y="256.7">tʃ</text><text x="1069.6" y="203.7">tʃ</text><text x="1069.6" y="202.3">tʃ</text><text x="1069.4" y="201.4">tʃ</text><text x="1068.8" y="253.6">tʃ</text><text x="1069.0" y="207.7">tʃ</text><text x="1069.8" y="253.6">tʃ</text></g><g fill="#BEBEBE"><text x="1121.8" y="377.3">tʃ</text><text x="1149.3" y="360.2">tʃ</text><text x="1112.5" y="376.0">tʃ</text><text x="1166.0" y="377.6">tʃ</text><text x="1188.3" y="337.5">tʃ</text><text x="1129.7" y="329.5">tʃ</text><text x="1106.0" y="323.5">tʃ</text><text x="1123.1" y="355.8">tʃ</text><text x="1090.4" y="360.3">tʃ</text><text x="1127.2" y="338.2">tʃ</text><text x="1180.0" y="348.4">tʃ</text><text x="1124.7" y="348.4">tʃ</text><text x="1167.5" y="323.0">tʃ</text><text x="1197.3" y="320.9">tʃ</text><text x="1172.5" y="370.3">tʃ</text><text x="1092.0" y="366.8">tʃ</text><text x="1130.3" y="354.3">tʃ</text><text x="1091.0" y="322.4">tʃ</text><text x="1109.9" y="376.9">tʃ</text><text x="1111.6" y="364.9">tʃ</text><text x="1192.3" y="376.1">tʃ</text><text x="1127.9" y="340.9">tʃ</text><text x="1147.7" y="366.1">tʃ</text><text x="1101.9" y="364.5">tʃ</text><text x="1177.7" y="371.2">tʃ</text><text x="1094.0" y="376.3">tʃ</text><text x="1100.0" y="340.0">tʃ</text><text x="1157.2" y="374.7">tʃ</text><text x="1127.4" y="375.0">tʃ</text><text x="1150.0" y="338.3">tʃ</text><text x="1124.8" y="330.2">tʃ</text><text x="1098.6" y="328.5">tʃ</text><text x="1165.8" y="379.4">tʃ</text><text x="1107.8" y="322.5">tʃ</text><text x="1198.5" y="351.6">tʃ</text><text x="1134.6" y="333.8">tʃ</text><text x="1155.3" y="369.2">tʃ</text><text x="1140.1" y="344.9">tʃ</text><text x="1096.1" y="374.5">tʃ</text><text x="1093.6" y="349.2">tʃ</text><text x="1182.2" y="327.4">tʃ</text><text x="1170.5" y="376.6">tʃ</text><text x="1159.3" y="366.9">tʃ</text><text x="1101.7" y="345.6">tʃ</text><text x="1106.4" y="370.3">tʃ</text><text x="1122.4" y="346.8">tʃ</text><text x="1199.9" y="370.7">tʃ</text><text x="1197.4" y="346.8">tʃ</text><text x="1143.7" y="363.3">tʃ</text><text x="1142.7" y="337.0">tʃ</text></g><g fill="#BEBEBE"><text x="1226.2" y="295.6">tʃ</text><text x="1225.1" y="341.9">tʃ</text><text x="1248.4" y="322.1">tʃ</text><text x="1230.0" y="306.2">tʃ</text><text x="1213.6" y="302.6">tʃ</text><text x="1241.3" y="335.3">tʃ</text><text x="1224.5" y="330.8">tʃ</text><text x="1241.0" y="325.8">tʃ</text></g><g fill="#BEBEBE"><text x="1194.0" y="222.6">tʃ</text><text x="1244.0" y="302.6">tʃ</text><text x="1229.0" y="333.6">tʃ</text><text x="1247.0" y="330.6">tʃ</text><text x="1215.0" y="317.6">tʃ</text><text x="1205.0" y="337.6">tʃ</text><text x="1196.0" y="357.6">tʃ</text><text x="1210.0" y="357.6">tʃ</text><text x="1104.0" y="375.6">tʃ</text><text x="1086.0" y="369.6">tʃ</text></g><g fill="#BEBEBE"><text x="1165.0" y="190.9">ts'</text></g><g fill="#BEBEBE"><text x="1224.0" y="235.9">ts':</text></g><g fill="#C77CFF"><text x="1069.5" y="354.0">ts</text><text x="1069.2" y="347.3">ts</text><text x="1069.1" y="320.6">ts</text><text x="1069.6" y="345.6">ts</text><text x="1069.1" y="376.7">ts</text><text x="1069.4" y="332.2">ts</text><text x="1068.8" y="328.1">ts</text><text x="1069.1" y="343.3">ts</text><text x="1069.3" y="361.0">ts</text><text x="1069.4" y="358.6">ts</text><text x="1069.1" y="339.9">ts</text><text x="1069.5" y="362.4">ts</text><text x="1069.2" y="364.2">ts</text><text x="1069.7" y="345.3">ts</text><text x="1069.8" y="378.0">ts</text><text x="1069.3" y="325.9">ts</text><text x="1069.0" y="363.4">ts</text><text x="1069.7" y="319.6">ts</text><text x="1069.5" y="349.1">ts</text><text x="1069.5" y="282.3">ts</text><text x="1069.6" y="332.2">ts</text><text x="1069.5" y="312.7">ts</text><text x="1069.4" y="355.8">ts</text><text x="1069.4" y="349.2">ts</text><text x="1068.8" y="280.9">ts</text><text x="1069.2" y="340.6">ts</text><text x="1069.0" y="345.0">ts</text><text x="1069.4" y="266.4">ts</text><text x="1069.3" y="288.9">ts</text><text x="1068.9" y="277.6">ts</text><text x="1069.1" y="283.5">ts</text><text x="1069.0" y="265.7">ts</text><text x="1069.3" y="307.7">ts</text><text x="1069.4" y="333.3">ts</text><text x="1069.0" y="371.5">ts</text><text x="1068.8" y="310.8">ts</text><text x="1069.1" y="311.4">ts</text><text x="1068.9" y="362.8">ts</text><text x="1069.2" y="265.7">ts</text><text x="1069.4" y="272.9">ts</text><text x="1069.3" y="302.7">ts</text><text x="1069.4" y="378.2">ts</text><text x="1069.6" y="312.5">ts</text><text x="1069.6" y="339.7">ts</text><text x="1069.2" y="278.7">ts</text><text x="1069.4" y="330.1">ts</text><text x="1069.8" y="379.4">ts</text><text x="1069.4" y="304.2">ts</text><text x="1069.7" y="261.4">ts</text><text x="1068.9" y="330.4">ts</text><text x="1069.4" y="278.5">ts</text><text x="1069.4" y="370.1">ts</text><text x="1069.2" y="314.0">ts</text><text x="1069.0" y="296.9">ts</text><text x="1069.8" y="307.7">ts</text></g><g fill="#00BFC4"><text x="1123.3" y="264.6">ts</text><text x="1184.5" y="276.0">ts</text><text x="1119.3" y="298.2">ts</text><text x="1184.4" y="277.0">ts</text><text x="1136.2" y="323.5">ts</text><text x="1179.2" y="318.1">ts</text><text x="1118.4" y="292.3">ts</text><text x="1157.6" y="211.6">ts</text><text x="1186.8" y="285.2">ts</text><text x="1133.2" y="369.2">ts</text><text x="1150.1" y="253.4">ts</text><text x="1142.8" y="303.2">ts</text><text x="1173.3" y="279.1">ts</text><text x="1115.0" y="254.3">ts</text><text x="1116.6" y="240.5">ts</text><text x="1144.3" y="262.3">ts</text><text x="1146.9" y="249.3">ts</text><text x="1114.9" y="274.1">ts</text><text x="1132.9" y="326.0">ts</text><text x="1113.6" y="289.3">ts</text><text x="1143.6" y="230.6">ts</text><text x="1170.3" y="287.9">ts</text><text x="1177.5" y="250.4">ts</text><text x="1203.8" y="287.4">ts</text><text x="1105.0" y="303.2">ts</text><text x="1132.5" y="229.4">ts</text><text x="1119.5" y="306.3">ts</text><text x="1158.4" y="261.2">ts</text><text x="1126.6" y="349.8">ts</text><text x="1204.2" y="310.5">ts</text><text x="1132.7" y="243.3">ts</text><text x="1131.6" y="345.8">ts</text><text x="1161.0" y="270.1">ts</text><text x="1102.5" y="287.8">ts</text><text x="1114.5" y="281.8">ts</text><text x="1170.7" y="322.8">ts</text><text x="1149.8" y="268.1">ts</text><text x="1152.9" y="351.1">ts</text><text x="1158.0" y="227.2">ts</text><text x="1198.7" y="291.1">ts</text><text x="1141.8" y="269.9">ts</text><text x="1158.1" y="258.9">ts</text><text x="1093.9" y="207.0">ts</text><text x="1140.7" y="261.5">ts</text><text x="1124.9" y="363.3">ts</text><text x="1172.5" y="323.5">ts</text><text x="1127.7" y="292.9">ts</text><text x="1137.7" y="273.4">ts</text><text x="1170.8" y="304.7">ts</text><text x="1155.5" y="287.0">ts</text><text x="1095.1" y="252.8">ts</text><text x="1158.2" y="267.2">ts</text><text x="1118.1" y="295.1">ts</text><text x="1113.1" y="255.4">ts</text><text x="1175.5" y="267.5">ts</text><text x="1194.4" y="301.5">ts</text><text x="1173.0" y="325.0">ts</text><text x="1100.4" y="263.4">ts</text><text x="1141.4" y="329.3">ts</text><text x="1143.5" y="344.6">ts</text><text x="1126.9" y="279.2">ts</text><text x="1148.2" y="317.8">ts</text><text x="1143.2" y="257.5">ts</text><text x="1133.7" y="227.4">ts</text><text x="1188.4" y="310.1">ts</text><text x="1159.8" y="292.0">ts</text><text x="1124.1" y="265.7">ts</text><text x="1172.8" y="251.0">ts</text><text x="1118.0" y="342.1">ts</text><text x="1198.7" y="292.6">ts</text><text x="1163.3" y="288.5">ts</text><text x="1194.1" y="264.3">ts</text><text x="1147.8" y="299.9">ts</text><text x="1194.5" y="271.7">ts</text><text x="1153.0" y="262.5">ts</text><text x="1122.5" y="256.2">ts</text><text x="1147.9" y="315.4">ts</text><text x="1121.2" y="258.3">ts</text><text x="1131.1" y="294.9">ts</text><text x="1169.0" y="233.4">ts</text><text x="1157.2" y="243.2">ts</text><text x="1169.5" y="244.5">ts</text><text x="1107.9" y="254.1">ts</text><text x="1142.9" y="243.3">ts</text><text x="1152.2" y="287.0">ts</text><text x="1147.8" y="291.6">ts</text><text x="1174.9" y="253.4">ts</text><text x="1145.1" y="280.2">ts</text><text x="1118.7" y="253.9">ts</text><text x="1129.8" y="285.1">ts</text><text x="1156.3" y="299.8">ts</text><text x="1121.3" y="307.9">ts</text><text x="1159.3" y="266.4">ts</text><text x="1144.3" y="312.0">ts</text><text x="1159.8" y="307.9">ts</text><text x="1148.6" y="324.7">ts</text><text x="1090.5" y="347.0">ts</text><text x="1125.6" y="228.7">ts</text><text x="1182.3" y="319.4">ts</text><text x="1132.0" y="336.4">ts</text><text x="1142.4" y="258.8">ts</text><text x="1147.3" y="289.5">ts</text><text x="1146.7" y="296.5">ts</text><text x="1125.7" y="306.1">ts</text><text x="1117.8" y="287.5">ts</text><text x="1139.0" y="221.2">ts</text><text x="1158.1" y="305.4">ts</text><text x="1107.1" y="201.6">ts</text><text x="1123.0" y="249.3">ts</text><text x="1148.8" y="280.7">ts</text><text x="1199.8" y="306.0">ts</text><text x="1136.3" y="287.5">ts</text><text x="1113.7" y="277.1">ts</text><text x="1155.9" y="289.4">ts</text><text x="1176.8" y="255.1">ts</text><text x="1155.4" y="276.4">ts</text><text x="1145.4" y="293.5">ts</text><text x="1135.4" y="289.4">ts</text><text x="1143.8" y="320.2">ts</text><text x="1141.2" y="292.9">ts</text><text x="1162.4" y="322.2">ts</text><text x="1110.8" y="308.3">ts</text><text x="1170.5" y="298.0">ts</text><text x="1178.1" y="311.1">ts</text><text x="1185.4" y="257.0">ts</text><text x="1159.7" y="260.6">ts</text><text x="1187.1" y="286.5">ts</text><text x="1100.9" y="285.5">ts</text><text x="1111.0" y="318.6">ts</text><text x="1133.5" y="198.3">ts</text><text x="1131.9" y="320.1">ts</text><text x="1156.2" y="257.3">ts</text><text x="1167.0" y="303.2">ts</text><text x="1194.9" y="315.5">ts</text><text x="1157.4" y="251.5">ts</text><text x="1154.6" y="292.8">ts</text><text x="1145.5" y="297.3">ts</text><text x="1104.8" y="302.9">ts</text><text x="1145.4" y="294.9">ts</text><text x="1141.7" y="270.0">ts</text><text x="1153.6" y="311.0">ts</text><text x="1134.1" y="293.7">ts</text><text x="1119.1" y="297.1">ts</text><text x="1145.6" y="232.9">ts</text><text x="1184.4" y="247.7">ts</text><text x="1147.7" y="231.7">ts</text><text x="1086.4" y="306.2">ts</text><text x="1097.6" y="203.0">ts</text><text x="1137.7" y="222.8">ts</text><text x="1138.1" y="350.4">ts</text><text x="1131.7" y="294.8">ts</text><text x="1164.0" y="290.6">ts</text><text x="1141.0" y="338.2">ts</text><text x="1142.3" y="294.8">ts</text><text x="1148.8" y="233.0">ts</text><text x="1155.8" y="283.4">ts</text><text x="1166.9" y="307.4">ts</text><text x="1197.8" y="209.8">ts</text><text x="1126.2" y="263.5">ts</text><text x="1115.9" y="296.9">ts</text><text x="1142.4" y="286.6">ts</text><text x="1090.1" y="245.3">ts</text><text x="1142.8" y="264.5">ts</text><text x="1124.5" y="276.9">ts</text><text x="1135.7" y="241.3">ts</text><text x="1201.1" y="255.9">ts</text><text x="1166.9" y="303.8">ts</text><text x="1177.5" y="259.8">ts</text><text x="1111.4" y="297.8">ts</text><text x="1131.9" y="271.2">ts</text><text x="1158.9" y="244.9">ts</text><text x="1188.7" y="291.5">ts</text><text x="1126.5" y="297.9">ts</text><text x="1141.1" y="306.4">ts</text><text x="1115.5" y="267.7">ts</text><text x="1145.2" y="253.1">ts</text><text x="1129.7" y="304.4">ts</text><text x="1209.7" y="273.3">ts</text><text x="1172.7" y="238.6">ts</text><text x="1129.7" y="293.6">ts</text><text x="1164.4" y="242.9">ts</text><text x="1165.1" y="286.8">ts</text><text x="1189.0" y="316.5">ts</text><text x="1163.4" y="266.5">ts</text><text x="1153.8" y="249.2">ts</text><text x="1117.3" y="212.2">ts</text><text x="1101.3" y="233.7">ts</text><text x="1141.5" y="285.1">ts</text><text x="1099.9" y="277.6">ts</text><text x="1158.5" y="315.9">ts</text><text x="1141.7" y="289.4">ts</text><text x="1132.3" y="315.9">ts</text><text x="1092.6" y="290.2">ts</text><text x="1175.9" y="202.3">ts</text><text x="1127.2" y="228.3">ts</text><text x="1085.7" y="265.8">ts</text><text x="1115.3" y="320.0">ts</text><text x="1127.3" y="239.6">ts</text><text x="1142.1" y="296.3">ts</text><text x="1172.2" y="299.9">ts</text><text x="1094.8" y="250.3">ts</text><text x="1138.6" y="249.6">ts</text><text x="1169.6" y="268.2">ts</text><text x="1142.2" y="267.0">ts</text><text x="1146.1" y="224.8">ts</text><text x="1214.9" y="259.7">ts</text><text x="1120.2" y="214.3">ts</text><text x="1141.7" y="229.2">ts</text><text x="1155.5" y="325.6">ts</text><text x="1165.0" y="264.3">ts</text></g><g fill="#00BFC4"><text x="1186.6" y="294.4">tɬ</text><text x="1150.3" y="301.8">tɬ</text><text x="1138.5" y="312.3">tɬ</text><text x="1117.7" y="247.6">tɬ</text><text x="1184.6" y="278.2">tɬ</text><text x="1141.8" y="309.8">tɬ</text><text x="1138.7" y="265.1">tɬ</text><text x="1146.1" y="272.0">tɬ</text><text x="1166.7" y="286.8">tɬ</text><text x="1144.4" y="322.6">tɬ</text><text x="1109.0" y="255.9">tɬ</text><text x="1171.7" y="337.2">tɬ</text><text x="1154.1" y="279.1">tɬ</text><text x="1185.4" y="315.2">tɬ</text><text x="1179.8" y="246.4">tɬ</text><text x="1148.0" y="269.5">tɬ</text><text x="1121.4" y="317.0">tɬ</text><text x="1171.6" y="286.0">tɬ</text><text x="1144.7" y="340.5">tɬ</text><text x="1169.6" y="296.3">tɬ</text><text x="1165.6" y="303.2">tɬ</text><text x="1116.8" y="284.7">tɬ</text><text x="1159.3" y="318.2">tɬ</text><text x="1118.5" y="276.2">tɬ</text><text x="1135.4" y="255.3">tɬ</text><text x="1181.9" y="313.4">tɬ</text><text x="1187.6" y="235.5">tɬ</text><text x="1129.2" y="353.5">tɬ</text><text x="1112.8" y="246.1">tɬ</text><text x="1157.7" y="346.3">tɬ</text><text x="1169.2" y="271.6">tɬ</text><text x="1166.8" y="312.0">tɬ</text><text x="1158.8" y="311.4">tɬ</text><text x="1174.4" y="334.2">tɬ</text><text x="1189.3" y="331.3">tɬ</text><text x="1147.5" y="245.3">tɬ</text><text x="1166.7" y="255.6">tɬ</text><text x="1214.4" y="265.8">tɬ</text><text x="1100.7" y="245.4">tɬ</text><text x="1162.4" y="308.8">tɬ</text><text x="1169.5" y="308.4">tɬ</text><text x="1130.1" y="324.0">tɬ</text><text x="1132.5" y="255.6">tɬ</text><text x="1176.6" y="315.7">tɬ</text><text x="1125.9" y="292.5">tɬ</text><text x="1179.9" y="327.6">tɬ</text><text x="1122.1" y="332.7">tɬ</text><text x="1162.2" y="296.4">tɬ</text><text x="1154.8" y="252.5">tɬ</text><text x="1148.0" y="314.7">tɬ</text><text x="1126.0" y="304.1">tɬ</text><text x="1147.0" y="233.4">tɬ</text><text x="1134.9" y="317.1">tɬ</text><text x="1108.7" y="300.7">tɬ</text><text x="1160.9" y="262.3">tɬ</text><text x="1144.8" y="326.4">tɬ</text><text x="1171.6" y="270.7">tɬ</text><text x="1179.8" y="310.1">tɬ</text><text x="1155.2" y="344.7">tɬ</text><text x="1171.9" y="311.0">tɬ</text><text x="1178.3" y="319.8">tɬ</text><text x="1186.8" y="296.8">tɬ</text><text x="1102.7" y="346.2">tɬ</text><text x="1174.0" y="315.7">tɬ</text><text x="1153.1" y="297.6">tɬ</text><text x="1154.6" y="272.1">tɬ</text><text x="1173.2" y="302.7">tɬ</text><text x="1125.4" y="308.0">tɬ</text><text x="1142.8" y="299.3">tɬ</text><text x="1122.4" y="312.3">tɬ</text><text x="1171.5" y="312.8">tɬ</text><text x="1193.0" y="287.5">tɬ</text><text x="1142.8" y="299.9">tɬ</text><text x="1114.0" y="332.9">tɬ</text><text x="1117.5" y="316.4">tɬ</text><text x="1185.0" y="275.5">tɬ</text><text x="1147.0" y="294.2">tɬ</text><text x="1199.4" y="308.0">tɬ</text><text x="1103.2" y="332.0">tɬ</text><text x="1180.5" y="241.1">tɬ</text><text x="1154.3" y="237.2">tɬ</text><text x="1181.1" y="342.3">tɬ</text><text x="1171.6" y="299.6">tɬ</text><text x="1132.4" y="311.7">tɬ</text><text x="1129.4" y="305.0">tɬ</text><text x="1144.8" y="287.0">tɬ</text><text x="1167.1" y="329.4">tɬ</text><text x="1176.5" y="313.5">tɬ</text><text x="1198.6" y="262.9">tɬ</text><text x="1153.8" y="305.8">tɬ</text></g><g fill="#00BFC4"><text x="1184.5" y="276.6">ts:</text><text x="1163.9" y="218.9">ts:</text><text x="1131.3" y="273.7">ts:</text><text x="1194.4" y="211.5">ts:</text><text x="1126.6" y="239.4">ts:</text><text x="1134.0" y="262.1">ts:</text><text x="1143.6" y="263.6">ts:</text><text x="1123.7" y="245.6">ts:</text><text x="1197.7" y="258.5">ts:</text><text x="1118.1" y="217.1">ts:</text><text x="1167.9" y="235.6">ts:</text><text x="1143.2" y="242.8">ts:</text><text x="1162.4" y="276.9">ts:</text><text x="1131.7" y="249.1">ts:</text></g><g fill="#00BFC4"><text x="1199.0" y="134.3">ts:</text><text x="1130.0" y="174.3">ts:</text><text x="1151.0" y="177.3">ts:</text></g><g fill="#00BFC4"><text x="1135.0" y="194.3">ts</text><text x="1125.0" y="209.3">ts</text></g><g fill="#00BFC4"><text x="1127.0" y="388.9">tɬ</text><text x="1170.0" y="425.9">tɬ</text><text x="1100.0" y="370.4">tɬ</text><text x="1140.0" y="372.4">tɬ</text><text x="1160.0" y="366.4">tɬ</text></g><g fill="#C77CFF"><text x="1255.0" y="259.3">ts</text><text x="1069.0" y="425.3">ts</text><text x="1115.0" y="354.3">ts</text><text x="1130.0" y="339.3">ts</text><text x="1100.0" y="279.3">ts</text></g><g fill="#C77CFF"><text x="1272.0" y="248.4">tɬ'</text></g><g fill="#C77CFF"><text x="1222.0" y="258.4">tɬ:</text></g><g fill="#C77CFF"><text x="1118.9" y="289.5">tɬ</text><text x="1170.5" y="252.4">tɬ</text><text x="1142.9" y="303.9">tɬ</text><text x="1090.9" y="309.8">tɬ</text><text x="1136.1" y="285.7">tɬ</text><text x="1157.2" y="311.7">tɬ</text><text x="1096.2" y="285.4">tɬ</text><text x="1094.2" y="275.1">tɬ</text><text x="1128.0" y="242.3">tɬ</text><text x="1122.8" y="280.9">tɬ</text><text x="1162.0" y="323.6">tɬ</text><text x="1130.7" y="288.1">tɬ</text><text x="1168.4" y="324.7">tɬ</text><text x="1194.5" y="329.3">tɬ</text></g></g>
<line x1="1059.3999999999999" x2="1281.6" y1="262.54" y2="262.54" stroke="#000" stroke-width="2.9" stroke-dasharray="11.35 11.35"/>
<line x1="1059.3999999999999" x2="1281.6" y1="386.17" y2="386.17" stroke="#000" stroke-width="2.9" stroke-dasharray="11.35 11.35"/>
</g>
<rect x="1059.8" y="109.1" width="221.8" height="319.9" fill="none" stroke="#333" stroke-width="1.9"/>
<g clip-path="url(#cp10)">
<rect x="111.0" y="444.4" width="221.8" height="319.4" fill="#fff"/>
<line x1="111.0" x2="332.8" y1="701.85" y2="701.85" stroke="#EBEBEB" stroke-width="1.4"/>
<line x1="111.0" x2="332.8" y1="606.75" y2="606.75" stroke="#EBEBEB" stroke-width="1.4"/>
<line x1="111.0" x2="332.8" y1="511.65" y2="511.65" stroke="#EBEBEB" stroke-width="1.4"/>
<line y1="444.4" y2="763.8" x1="153.00" x2="153.00" stroke="#EBEBEB" stroke-width="1.4"/>
<line y1="444.4" y2="763.8" x1="218.30" x2="218.30" stroke="#EBEBEB" stroke-width="1.4"/>
<line y1="444.4" y2="763.8" x1="283.60" x2="283.60" stroke="#EBEBEB" stroke-width="1.4"/>
<line x1="111.0" x2="332.8" y1="749.40" y2="749.40" stroke="#EBEBEB" stroke-width="2.8"/>
<line x1="111.0" x2="332.8" y1="654.30" y2="654.30" stroke="#EBEBEB" stroke-width="2.8"/>
<line x1="111.0" x2="332.8" y1="559.20" y2="559.20" stroke="#EBEBEB" stroke-width="2.8"/>
<line x1="111.0" x2="332.8" y1="464.10" y2="464.10" stroke="#EBEBEB" stroke-width="2.8"/>
<line y1="444.4" y2="763.8" x1="120.35" x2="120.35" stroke="#EBEBEB" stroke-width="2.8"/>
<line y1="444.4" y2="763.8" x1="185.65" x2="185.65" stroke="#EBEBEB" stroke-width="2.8"/>
<line y1="444.4" y2="763.8" x1="250.95" x2="250.95" stroke="#EBEBEB" stroke-width="2.8"/>
<line y1="444.4" y2="763.8" x1="316.25" x2="316.25" stroke="#EBEBEB" stroke-width="2.8"/>
<g text-anchor="middle" font-size="29.3"><g fill="#BEBEBE"><text x="174.4" y="713.1">p</text><text x="229.9" y="693.5">p</text><text x="171.8" y="703.4">p</text><text x="217.0" y="729.0">p</text><text x="174.6" y="676.4">p</text><text x="222.6" y="715.3">p</text><text x="243.3" y="726.4">p</text><text x="202.5" y="698.8">p</text><text x="185.4" y="679.8">p</text><text x="207.4" y="708.0">p</text><text x="196.4" y="703.5">p</text><text x="211.8" y="720.1">p</text><text x="232.4" y="709.5">p</text><text x="169.5" y="701.1">p</text><text x="168.2" y="704.9">p</text><text x="185.5" y="709.5">p</text><text x="226.1" y="675.7">p</text><text x="197.8" y="719.4">p</text><text x="202.7" y="713.0">p</text><text x="207.6" y="682.7">p</text><text x="219.1" y="687.0">p</text><text x="251.8" y="693.7">p</text><text x="222.2" y="704.9">p</text><text x="228.8" y="691.6">p</text><text x="230.0" y="702.1">p</text><text x="236.6" y="718.6">p</text><text x="208.5" y="687.7">p</text><text x="224.2" y="715.1">p</text><text x="246.0" y="696.5">p</text><text x="218.9" y="716.0">p</text><text x="212.1" y="709.4">p</text><text x="209.6" y="691.7">p</text><text x="179.6" y="696.1">p</text><text x="219.8" y="738.1">p</text><text x="229.4" y="728.0">p</text><text x="224.4" y="720.2">p</text><text x="209.6" y="721.8">p</text><text x="249.3" y="697.6">p</text><text x="187.7" y="748.0">p</text><text x="211.1" y="726.2">p</text><text x="226.8" y="679.8">p</text><text x="209.4" y="721.4">p</text><text x="208.2" y="685.4">p</text><text x="202.2" y="713.1">p</text><text x="232.9" y="720.4">p</text><text x="206.5" y="734.6">p</text><text x="186.0" y="722.3">p</text><text x="232.8" y="698.4">p</text><text x="210.9" y="716.4">p</text><text x="243.7" y="682.7">p</text><text x="205.1" y="719.1">p</text><text x="230.1" y="684.7">p</text><text x="194.7" y="709.7">p</text><text x="207.8" y="739.1">p</text><text x="203.0" y="745.8">p</text><text x="187.9" y="694.4">p</text><text x="223.0" y="736.2">p</text><text x="221.3" y="711.5">p</text><text x="189.7" y="693.1">p</text><text x="219.7" y="697.5">p</text><text x="224.7" y="706.6">p</text><text x="196.7" y="707.4">p</text><text x="215.7" y="723.7">p</text><text x="193.1" y="699.7">p</text><text x="170.9" y="740.1">p</text><text x="241.3" y="700.9">p</text><text x="193.0" y="677.6">p</text><text x="209.2" y="709.4">p</text><text x="240.2" y="709.0">p</text><text x="233.0" y="717.4">p</text><text x="201.8" y="670.6">p</text><text x="182.3" y="731.7">p</text><text x="246.1" y="678.8">p</text><text x="166.7" y="724.2">p</text><text x="226.3" y="683.1">p</text><text x="187.6" y="689.6">p</text><text x="175.3" y="689.9">p</text><text x="236.3" y="720.0">p</text><text x="256.4" y="702.9">p</text><text x="201.6" y="683.2">p</text></g><g fill="#BEBEBE"><text x="174.0" y="679.8">p</text><text x="226.0" y="687.8">p</text><text x="241.0" y="697.8">p</text><text x="249.0" y="716.8">p</text><text x="200.0" y="684.8">p</text></g><g fill="#BEBEBE"><text x="219.5" y="749.1">b</text><text x="185.7" y="757.3">b</text><text x="144.6" y="754.5">b</text><text x="138.4" y="749.7">b</text><text x="190.3" y="737.8">b</text><text x="215.3" y="746.4">b</text><text x="205.7" y="759.9">b</text><text x="164.4" y="730.8">b</text><text x="169.6" y="752.2">b</text><text x="158.3" y="735.9">b</text><text x="239.2" y="751.6">b</text><text x="185.8" y="759.0">b</text><text x="172.6" y="751.8">b</text><text x="157.8" y="744.3">b</text><text x="227.7" y="759.7">b</text><text x="236.2" y="742.8">b</text><text x="202.1" y="740.6">b</text><text x="150.7" y="746.4">b</text><text x="231.3" y="757.6">b</text><text x="216.8" y="760.9">b</text><text x="166.8" y="735.9">b</text><text x="186.8" y="739.3">b</text><text x="159.6" y="743.7">b</text><text x="207.0" y="746.3">b</text><text x="171.3" y="757.3">b</text></g><g fill="#BEBEBE"><text x="120.8" y="707.8">p'</text><text x="119.9" y="669.9">p'</text><text x="120.7" y="670.8">p'</text><text x="120.5" y="718.4">p'</text><text x="120.1" y="738.3">p'</text><text x="119.8" y="679.3">p'</text><text x="120.3" y="669.3">p'</text><text x="120.6" y="688.4">p'</text><text x="119.9" y="671.3">p'</text><text x="120.4" y="707.2">p'</text><text x="120.4" y="726.0">p'</text><text x="120.6" y="753.3">p'</text></g><g fill="#F8766D"><text x="120.5" y="673.4">p'</text><text x="120.3" y="671.2">p'</text><text x="119.8" y="702.6">p'</text><text x="120.5" y="671.2">p'</text><text x="120.1" y="689.0">p'</text><text x="120.5" y="707.7">p'</text><text x="120.4" y="733.0">p'</text><text x="120.2" y="736.8">p'</text><text x="120.7" y="661.4">p'</text><text x="120.7" y="729.3">p'</text><text x="119.9" y="700.6">p'</text><text x="120.4" y="749.4">p'</text><text x="120.2" y="712.9">p'</text><text x="120.7" y="737.3">p'</text><text x="120.7" y="701.7">p'</text><text x="120.5" y="674.0">p'</text><text x="120.5" y="739.6">p'</text><text x="120.4" y="728.8">p'</text><text x="120.0" y="748.3">p'</text><text x="120.8" y="756.6">p'</text><text x="120.3" y="736.7">p'</text><text x="120.1" y="749.4">p'</text><text x="120.7" y="689.3">p'</text><text x="119.9" y="699.2">p'</text><text x="120.4" y="734.2">p'</text><text x="120.3" y="655.1">p'</text><text x="120.6" y="658.9">p'</text><text x="120.6" y="670.5">p'</text><text x="120.1" y="736.3">p'</text><text x="119.9" y="667.9">p'</text><text x="120.3" y="729.5">p'</text><text x="120.6" y="725.8">p'</text><text x="120.7" y="704.7">p'</text><text x="120.7" y="661.2">p'</text><text x="120.0" y="708.4">p'</text><text x="120.1" y="730.0">p'</text><text x="120.4" y="708.0">p'</text><text x="120.6" y="712.0">p'</text><text x="120.1" y="692.8">p'</text><text x="120.6" y="748.4">p'</text><text x="120.0" y="743.1">p'</text><text x="120.8" y="708.1">p'</text><text x="120.4" y="673.5">p'</text><text x="120.3" y="705.9">p'</text><text x="120.4" y="655.0">p'</text><text x="120.8" y="707.3">p'</text><text x="120.2" y="737.8">p'</text><text x="120.4" y="704.6">p'</text><text x="120.5" y="659.1">p'</text><text x="120.3" y="696.3">p'</text></g><g fill="#F8766D"><text x="120.3" y="615.0">p'</text><text x="120.3" y="647.0">p'</text></g><g fill="#F8766D"><text x="182.8" y="759.7">b</text><text x="196.9" y="756.1">b</text><text x="198.8" y="728.8">b</text><text x="171.2" y="749.8">b</text><text x="193.0" y="761.4">b</text><text x="192.5" y="746.1">b</text><text x="185.6" y="746.4">b</text><text x="189.0" y="755.2">b</text><text x="179.6" y="740.3">b</text><text x="171.3" y="759.4">b</text><text x="205.5" y="758.4">b</text><text x="198.7" y="756.8">b</text><text x="185.0" y="755.1">b</text><text x="168.2" y="746.4">b</text><text x="173.3" y="755.7">b</text><text x="175.7" y="747.4">b</text><text x="191.4" y="762.0">b</text><text x="172.3" y="739.1">b</text><text x="198.1" y="737.4">b</text><text x="192.2" y="742.8">b</text><text x="183.3" y="730.3">b</text><text x="196.4" y="743.5">b</text><text x="191.5" y="745.0">b</text><text x="186.7" y="764.5">b</text><text x="184.6" y="753.0">b</text><text x="193.3" y="739.4">b</text><text x="187.1" y="743.4">b</text><text x="165.1" y="757.2">b</text><text x="195.7" y="749.2">b</text><text x="170.5" y="728.4">b</text><text x="192.8" y="747.5">b</text><text x="158.1" y="747.9">b</text><text x="160.7" y="748.2">b</text><text x="187.3" y="752.0">b</text><text x="188.5" y="750.2">b</text><text x="166.8" y="744.6">b</text><text x="176.8" y="746.1">b</text><text x="189.3" y="754.7">b</text><text x="211.2" y="722.8">b</text><text x="191.4" y="746.5">b</text><text x="158.6" y="752.5">b</text><text x="176.7" y="758.4">b</text><text x="168.1" y="747.5">b</text><text x="182.9" y="747.5">b</text><text x="175.7" y="730.1">b</text><text x="192.4" y="758.5">b</text><text x="183.9" y="738.3">b</text><text x="188.2" y="754.1">b</text><text x="182.2" y="748.3">b</text><text x="207.5" y="737.3">b</text><text x="176.1" y="729.4">b</text><text x="173.8" y="741.1">b</text><text x="169.6" y="741.5">b</text><text x="213.8" y="746.5">b</text><text x="184.0" y="731.1">b</text><text x="191.4" y="739.1">b</text><text x="211.2" y="736.0">b</text><text x="175.7" y="732.4">b</text><text x="186.6" y="738.3">b</text><text x="184.0" y="744.7">b</text><text x="175.2" y="757.9">b</text><text x="200.0" y="749.1">b</text><text x="170.6" y="737.8">b</text><text x="177.7" y="740.6">b</text><text x="173.8" y="737.5">b</text><text x="169.4" y="746.4">b</text><text x="207.9" y="748.5">b</text><text x="176.8" y="732.3">b</text><text x="188.4" y="748.2">b</text><text x="165.4" y="737.6">b</text><text x="184.3" y="758.6">b</text><text x="195.0" y="750.5">b</text><text x="179.8" y="751.7">b</text><text x="166.9" y="744.8">b</text><text x="205.3" y="745.8">b</text><text x="207.8" y="748.0">b</text><text x="187.3" y="744.8">b</text><text x="162.9" y="738.8">b</text><text x="194.7" y="758.0">b</text><text x="194.1" y="758.7">b</text></g><g fill="#F8766D"><text x="120.0" y="758.5">b</text><text x="129.0" y="757.5">b</text><text x="150.0" y="756.5">b</text><text x="232.0" y="754.5">b</text><text x="241.0" y="754.5">b</text><text x="178.0" y="720.5">b</text><text x="190.0" y="715.5">b</text><text x="200.0" y="722.5">b</text></g></g>
<line x1="110.6" x2="332.8" y1="597.24" y2="597.24" stroke="#000" stroke-width="2.9" stroke-dasharray="11.35 11.35"/>
<line x1="110.6" x2="332.8" y1="720.87" y2="720.87" stroke="#000" stroke-width="2.9" stroke-dasharray="11.35 11.35"/>
</g>
<rect x="111.0" y="444.4" width="221.8" height="319.4" fill="none" stroke="#333" stroke-width="1.9"/>
<g clip-path="url(#cp11)">
<rect x="348.2" y="444.4" width="221.8" height="319.4" fill="#fff"/>
<line x1="348.2" x2="570.0" y1="701.85" y2="701.85" stroke="#EBEBEB" stroke-width="1.4"/>
<line x1="348.2" x2="570.0" y1="606.75" y2="606.75" stroke="#EBEBEB" stroke-width="1.4"/>
<line x1="348.2" x2="570.0" y1="511.65" y2="511.65" stroke="#EBEBEB" stroke-width="1.4"/>
<line y1="444.4" y2="763.8" x1="395.52" x2="395.52" stroke="#EBEBEB" stroke-width="1.4"/>
<line y1="444.4" y2="763.8" x1="471.98" x2="471.98" stroke="#EBEBEB" stroke-width="1.4"/>
<line y1="444.4" y2="763.8" x1="548.42" x2="548.42" stroke="#EBEBEB" stroke-width="1.4"/>
<line x1="348.2" x2="570.0" y1="749.40" y2="749.40" stroke="#EBEBEB" stroke-width="2.8"/>
<line x1="348.2" x2="570.0" y1="654.30" y2="654.30" stroke="#EBEBEB" stroke-width="2.8"/>
<line x1="348.2" x2="570.0" y1="559.20" y2="559.20" stroke="#EBEBEB" stroke-width="2.8"/>
<line x1="348.2" x2="570.0" y1="464.10" y2="464.10" stroke="#EBEBEB" stroke-width="2.8"/>
<line y1="444.4" y2="763.8" x1="357.30" x2="357.30" stroke="#EBEBEB" stroke-width="2.8"/>
<line y1="444.4" y2="763.8" x1="433.75" x2="433.75" stroke="#EBEBEB" stroke-width="2.8"/>
<line y1="444.4" y2="763.8" x1="510.20" x2="510.20" stroke="#EBEBEB" stroke-width="2.8"/>
<g text-anchor="middle" font-size="29.3"><g fill="#BEBEBE"><text x="357.3" y="694.4">t'</text><text x="357.5" y="663.5">t'</text><text x="356.8" y="677.4">t'</text><text x="357.1" y="703.6">t'</text><text x="357.5" y="691.1">t'</text><text x="357.4" y="694.6">t'</text><text x="356.9" y="681.4">t'</text><text x="357.0" y="709.3">t'</text><text x="356.9" y="704.1">t'</text><text x="356.9" y="696.2">t'</text><text x="357.1" y="679.2">t'</text><text x="357.6" y="656.1">t'</text><text x="356.9" y="709.9">t'</text><text x="357.3" y="660.4">t'</text><text x="357.8" y="711.8">t'</text><text x="356.9" y="680.4">t'</text><text x="356.9" y="673.7">t'</text><text x="357.4" y="664.8">t'</text><text x="357.5" y="658.0">t'</text><text x="357.0" y="703.9">t'</text><text x="357.2" y="680.1">t'</text><text x="357.4" y="683.6">t'</text><text x="357.2" y="656.8">t'</text><text x="357.5" y="713.0">t'</text><text x="357.8" y="694.8">t'</text><text x="357.2" y="676.8">t'</text><text x="357.5" y="695.4">t'</text><text x="356.9" y="669.1">t'</text><text x="357.2" y="685.6">t'</text><text x="357.6" y="685.0">t'</text><text x="356.8" y="704.3">t'</text><text x="357.2" y="686.1">t'</text><text x="357.0" y="680.6">t'</text><text x="357.2" y="701.3">t'</text><text x="356.9" y="688.0">t'</text><text x="357.0" y="696.7">t'</text><text x="356.8" y="671.6">t'</text><text x="357.1" y="693.2">t'</text><text x="356.9" y="682.5">t'</text><text x="357.0" y="671.9">t'</text><text x="357.3" y="712.5">t'</text><text x="357.3" y="712.3">t'</text><text x="357.0" y="710.4">t'</text><text x="357.2" y="666.3">t'</text><text x="357.5" y="709.7">t'</text><text x="356.8" y="671.1">t'</text><text x="357.6" y="675.5">t'</text><text x="357.0" y="655.5">t'</text><text x="356.8" y="692.1">t'</text><text x="357.8" y="714.9">t'</text><text x="357.3" y="656.4">t'</text><text x="357.1" y="702.2">t'</text><text x="357.6" y="693.3">t'</text><text x="357.0" y="686.6">t'</text><text x="357.3" y="692.6">t'</text></g><g fill="#BEBEBE"><text x="357.1" y="754.0">d</text><text x="357.7" y="717.9">d</text><text x="357.1" y="750.6">d</text><text x="357.1" y="753.9">d</text><text x="357.3" y="742.5">d</text><text x="357.5" y="720.3">d</text><text x="357.1" y="722.2">d</text><text x="357.5" y="742.4">d</text><text x="356.9" y="751.2">d</text><text x="357.2" y="721.6">d</text><text x="357.2" y="755.5">d</text><text x="357.4" y="739.2">d</text><text x="357.7" y="754.7">d</text><text x="357.6" y="729.7">d</text><text x="357.4" y="751.9">d</text><text x="357.6" y="737.2">d</text><text x="357.1" y="727.4">d</text><text x="357.5" y="736.4">d</text><text x="356.8" y="743.1">d</text><text x="357.7" y="747.2">d</text><text x="357.7" y="752.4">d</text><text x="357.3" y="746.8">d</text><text x="357.2" y="715.0">d</text><text x="357.2" y="724.8">d</text><text x="357.7" y="742.2">d</text><text x="357.3" y="739.1">d</text><text x="356.9" y="735.0">d</text><text x="357.5" y="728.6">d</text><text x="357.0" y="729.2">d</text><text x="357.1" y="742.0">d</text><text x="356.9" y="714.6">d</text><text x="357.1" y="742.5">d</text><text x="357.6" y="740.8">d</text><text x="357.7" y="727.3">d</text><text x="356.8" y="732.9">d</text><text x="357.2" y="718.7">d</text><text x="357.5" y="726.2">d</text><text x="357.0" y="725.5">d</text><text x="357.7" y="710.8">d</text><text x="357.2" y="723.3">d</text><text x="357.0" y="730.4">d</text><text x="357.0" y="752.7">d</text><text x="357.3" y="742.6">d</text><text x="357.0" y="731.8">d</text><text x="357.4" y="749.2">d</text></g><g fill="#BEBEBE"><text x="357.0" y="632.0">t'</text><text x="357.0" y="646.0">t'</text></g><g fill="#BEBEBE"><text x="432.5" y="700.0">t</text><text x="474.8" y="716.8">t</text><text x="430.9" y="703.6">t</text><text x="468.3" y="697.1">t</text><text x="462.1" y="709.2">t</text><text x="483.1" y="704.3">t</text><text x="462.7" y="695.1">t</text><text x="466.3" y="693.9">t</text><text x="450.0" y="695.6">t</text><text x="436.5" y="685.5">t</text><text x="430.8" y="703.9">t</text><text x="432.6" y="681.4">t</text><text x="471.3" y="692.2">t</text><text x="480.5" y="706.3">t</text><text x="442.2" y="718.6">t</text><text x="477.8" y="693.8">t</text><text x="423.8" y="708.2">t</text><text x="474.0" y="706.7">t</text><text x="469.9" y="697.9">t</text><text x="458.2" y="691.2">t</text><text x="443.5" y="696.4">t</text><text x="441.9" y="697.3">t</text><text x="471.5" y="687.0">t</text><text x="429.4" y="690.8">t</text><text x="483.0" y="702.9">t</text><text x="418.7" y="716.9">t</text><text x="476.1" y="716.3">t</text><text x="440.1" y="712.4">t</text><text x="436.4" y="685.5">t</text><text x="475.6" y="716.8">t</text><text x="429.8" y="718.9">t</text><text x="416.7" y="693.2">t</text><text x="415.9" y="687.1">t</text><text x="426.4" y="711.6">t</text><text x="435.8" y="687.9">t</text><text x="427.9" y="693.4">t</text><text x="475.4" y="706.7">t</text><text x="422.2" y="710.2">t</text><text x="452.5" y="699.5">t</text><text x="451.9" y="708.7">t</text></g><g fill="#BEBEBE"><text x="476.0" y="712.7">t'</text><text x="464.5" y="711.0">t'</text><text x="464.4" y="707.4">t'</text><text x="449.0" y="713.2">t'</text><text x="470.1" y="702.5">t'</text><text x="484.7" y="712.1">t'</text><text x="479.9" y="721.0">t'</text><text x="486.9" y="720.7">t'</text><text x="449.9" y="708.2">t'</text><text x="462.5" y="723.9">t'</text><text x="478.7" y="695.8">t'</text><text x="424.4" y="694.8">t'</text><text x="425.9" y="692.5">t'</text><text x="420.6" y="701.2">t'</text><text x="427.9" y="720.8">t'</text><text x="463.1" y="733.4">t'</text><text x="487.2" y="723.6">t'</text><text x="486.5" y="691.2">t'</text><text x="436.0" y="731.6">t'</text><text x="453.3" y="699.3">t'</text><text x="473.0" y="709.0">t'</text><text x="458.0" y="704.2">t'</text><text x="436.9" y="693.9">t'</text><text x="462.5" y="732.8">t'</text><text x="489.1" y="724.4">t'</text><text x="485.3" y="706.3">t'</text><text x="440.9" y="731.5">t'</text><text x="462.0" y="720.1">t'</text><text x="420.9" y="700.2">t'</text><text x="453.8" y="722.9">t'</text></g><g fill="#BEBEBE"><text x="441.0" y="623.4">t</text><text x="529.0" y="715.4">t</text><text x="460.0" y="689.4">t</text><text x="470.0" y="699.4">t</text><text x="485.0" y="699.4">t</text></g><g fill="#BEBEBE"><text x="441.0" y="648.5">t'</text><text x="463.0" y="652.0">t'</text><text x="529.0" y="737.0">t'</text><text x="490.0" y="710.0">t'</text><text x="482.0" y="720.0">t'</text></g><g fill="#BEBEBE"><text x="450.9" y="728.5">d</text><text x="427.6" y="751.8">d</text><text x="472.3" y="720.5">d</text><text x="425.2" y="744.1">d</text><text x="421.2" y="734.7">d</text><text x="428.6" y="749.0">d</text><text x="418.4" y="752.6">d</text><text x="452.7" y="752.4">d</text><text x="465.4" y="738.6">d</text><text x="436.7" y="753.9">d</text><text x="460.5" y="753.3">d</text><text x="429.5" y="738.9">d</text><text x="413.9" y="739.5">d</text><text x="421.5" y="738.9">d</text><text x="430.8" y="752.2">d</text><text x="453.1" y="743.3">d</text><text x="417.0" y="743.3">d</text><text x="445.5" y="752.4">d</text><text x="441.4" y="751.9">d</text><text x="425.8" y="750.4">d</text><text x="451.0" y="740.3">d</text><text x="424.0" y="756.2">d</text><text x="419.7" y="750.7">d</text><text x="432.8" y="740.3">d</text><text x="433.1" y="739.4">d</text><text x="437.0" y="761.7">d</text><text x="463.9" y="742.5">d</text><text x="446.1" y="752.9">d</text><text x="430.0" y="762.3">d</text><text x="438.3" y="750.0">d</text><text x="420.4" y="732.6">d</text><text x="419.6" y="737.4">d</text><text x="456.3" y="740.7">d</text><text x="453.6" y="739.6">d</text><text x="420.4" y="745.5">d</text><text x="430.5" y="727.2">d</text><text x="438.5" y="755.7">d</text><text x="433.9" y="731.8">d</text><text x="424.0" y="731.7">d</text><text x="433.3" y="734.3">d</text><text x="435.6" y="745.6">d</text><text x="461.5" y="732.2">d</text><text x="400.7" y="760.1">d</text><text x="445.4" y="740.2">d</text><text x="446.7" y="734.5">d</text><text x="431.5" y="750.6">d</text><text x="432.0" y="745.2">d</text><text x="445.5" y="745.0">d</text><text x="433.3" y="749.0">d</text><text x="461.5" y="756.6">d</text><text x="421.8" y="751.4">d</text><text x="403.3" y="729.7">d</text><text x="444.9" y="749.2">d</text><text x="462.2" y="726.6">d</text><text x="457.1" y="738.4">d</text><text x="429.2" y="748.3">d</text><text x="462.9" y="734.4">d</text><text x="406.8" y="737.8">d</text><text x="435.5" y="755.8">d</text><text x="444.2" y="740.8">d</text><text x="428.5" y="739.2">d</text><text x="455.0" y="727.2">d</text><text x="425.1" y="735.1">d</text><text x="457.8" y="745.0">d</text><text x="425.5" y="751.3">d</text><text x="472.8" y="754.0">d</text><text x="414.1" y="741.7">d</text><text x="458.0" y="725.7">d</text><text x="415.5" y="739.6">d</text><text x="447.0" y="735.6">d</text><text x="440.2" y="742.2">d</text><text x="443.3" y="731.7">d</text><text x="397.6" y="722.3">d</text><text x="440.5" y="753.5">d</text><text x="446.1" y="727.7">d</text><text x="406.2" y="740.8">d</text><text x="421.0" y="725.4">d</text><text x="427.0" y="735.8">d</text><text x="435.3" y="747.5">d</text><text x="440.8" y="745.5">d</text><text x="446.8" y="742.6">d</text><text x="429.3" y="740.2">d</text><text x="458.7" y="740.9">d</text><text x="451.9" y="760.3">d</text><text x="468.7" y="722.2">d</text><text x="440.0" y="753.5">d</text><text x="429.2" y="736.6">d</text><text x="411.6" y="736.9">d</text><text x="437.3" y="724.8">d</text><text x="437.1" y="735.3">d</text><text x="437.7" y="732.8">d</text><text x="438.8" y="745.3">d</text><text x="424.8" y="736.9">d</text><text x="454.4" y="749.9">d</text><text x="423.3" y="748.0">d</text><text x="416.5" y="738.4">d</text><text x="449.5" y="738.7">d</text><text x="447.9" y="737.2">d</text><text x="442.7" y="742.1">d</text><text x="419.7" y="764.6">d</text><text x="422.1" y="730.2">d</text><text x="439.6" y="748.4">d</text><text x="443.4" y="742.5">d</text><text x="445.6" y="752.9">d</text><text x="448.4" y="729.8">d</text><text x="468.3" y="743.3">d</text><text x="400.4" y="751.9">d</text><text x="434.6" y="746.4">d</text><text x="473.0" y="738.3">d</text><text x="426.0" y="733.8">d</text><text x="440.6" y="750.2">d</text><text x="444.3" y="745.3">d</text><text x="399.0" y="746.3">d</text><text x="456.7" y="738.5">d</text><text x="427.7" y="733.5">d</text><text x="441.6" y="728.0">d</text><text x="471.6" y="741.6">d</text><text x="426.5" y="731.5">d</text><text x="446.9" y="753.3">d</text><text x="427.1" y="745.3">d</text><text x="442.5" y="753.3">d</text><text x="448.3" y="756.0">d</text><text x="428.3" y="732.4">d</text><text x="420.6" y="747.5">d</text><text x="459.3" y="736.0">d</text><text x="431.1" y="739.0">d</text><text x="426.5" y="741.9">d</text><text x="426.2" y="755.3">d</text><text x="443.3" y="749.9">d</text><text x="434.5" y="732.0">d</text></g><g fill="#BEBEBE"><text x="380.0" y="744.5">d</text><text x="392.0" y="755.5">d</text><text x="493.0" y="730.5">d</text><text x="490.0" y="745.5">d</text><text x="480.0" y="750.5">d</text></g><g fill="#00BFC4"><text x="458.0" y="639.0">t'</text><text x="452.0" y="660.0">t'</text><text x="447.0" y="676.0">t'</text><text x="434.0" y="683.0">t'</text><text x="430.0" y="692.0">t'</text></g><g fill="#00BFC4"><text x="418.0" y="705.4">t</text></g><g fill="#7CAE00"><text x="434.0" y="710.0">t'</text><text x="438.0" y="717.0">t'</text></g><g fill="#F8766D"><text x="433.0" y="726.0">t'</text></g></g>
<line x1="347.8" x2="570.0" y1="597.24" y2="597.24" stroke="#000" stroke-width="2.9" stroke-dasharray="11.35 11.35"/>
<line x1="347.8" x2="570.0" y1="720.87" y2="720.87" stroke="#000" stroke-width="2.9" stroke-dasharray="11.35 11.35"/>
</g>
<rect x="348.2" y="444.4" width="221.8" height="319.4" fill="none" stroke="#333" stroke-width="1.9"/>
<g clip-path="url(#cp12)">
<rect x="585.4" y="444.4" width="221.8" height="319.4" fill="#fff"/>
<line x1="585.4" x2="807.2" y1="701.85" y2="701.85" stroke="#EBEBEB" stroke-width="1.4"/>
<line x1="585.4" x2="807.2" y1="606.75" y2="606.75" stroke="#EBEBEB" stroke-width="1.4"/>
<line x1="585.4" x2="807.2" y1="511.65" y2="511.65" stroke="#EBEBEB" stroke-width="1.4"/>
<line y1="444.4" y2="763.8" x1="620.51" x2="620.51" stroke="#EBEBEB" stroke-width="1.4"/>
<line y1="444.4" y2="763.8" x1="671.54" x2="671.54" stroke="#EBEBEB" stroke-width="1.4"/>
<line y1="444.4" y2="763.8" x1="722.58" x2="722.58" stroke="#EBEBEB" stroke-width="1.4"/>
<line y1="444.4" y2="763.8" x1="773.61" x2="773.61" stroke="#EBEBEB" stroke-width="1.4"/>
<line x1="585.4" x2="807.2" y1="749.40" y2="749.40" stroke="#EBEBEB" stroke-width="2.8"/>
<line x1="585.4" x2="807.2" y1="654.30" y2="654.30" stroke="#EBEBEB" stroke-width="2.8"/>
<line x1="585.4" x2="807.2" y1="559.20" y2="559.20" stroke="#EBEBEB" stroke-width="2.8"/>
<line x1="585.4" x2="807.2" y1="464.10" y2="464.10" stroke="#EBEBEB" stroke-width="2.8"/>
<line y1="444.4" y2="763.8" x1="595.00" x2="595.00" stroke="#EBEBEB" stroke-width="2.8"/>
<line y1="444.4" y2="763.8" x1="646.03" x2="646.03" stroke="#EBEBEB" stroke-width="2.8"/>
<line y1="444.4" y2="763.8" x1="697.06" x2="697.06" stroke="#EBEBEB" stroke-width="2.8"/>
<line y1="444.4" y2="763.8" x1="748.09" x2="748.09" stroke="#EBEBEB" stroke-width="2.8"/>
<line y1="444.4" y2="763.8" x1="799.12" x2="799.12" stroke="#EBEBEB" stroke-width="2.8"/>
<g text-anchor="middle" font-size="29.3"><g fill="#BEBEBE"><text x="594.8" y="709.4">k'</text><text x="595.2" y="728.3">k'</text><text x="594.7" y="657.1">k'</text><text x="594.6" y="656.5">k'</text><text x="595.2" y="645.6">k'</text><text x="595.0" y="655.2">k'</text><text x="594.8" y="680.2">k'</text><text x="595.3" y="700.6">k'</text><text x="594.5" y="662.3">k'</text><text x="594.6" y="730.8">k'</text><text x="595.3" y="723.3">k'</text><text x="595.3" y="716.3">k'</text><text x="595.4" y="721.9">k'</text><text x="594.8" y="728.4">k'</text><text x="595.0" y="717.4">k'</text><text x="595.1" y="680.0">k'</text><text x="594.9" y="680.0">k'</text><text x="594.8" y="644.1">k'</text><text x="595.3" y="722.4">k'</text><text x="595.5" y="710.1">k'</text><text x="595.1" y="716.7">k'</text><text x="594.6" y="708.5">k'</text><text x="594.9" y="650.9">k'</text><text x="594.7" y="690.7">k'</text><text x="594.8" y="683.5">k'</text><text x="595.1" y="676.1">k'</text><text x="594.6" y="687.1">k'</text><text x="594.7" y="657.7">k'</text><text x="594.7" y="672.8">k'</text><text x="594.6" y="705.5">k'</text><text x="595.5" y="675.4">k'</text><text x="595.2" y="737.9">k'</text><text x="594.5" y="646.9">k'</text><text x="595.3" y="727.0">k'</text><text x="595.1" y="649.0">k'</text><text x="594.9" y="730.5">k'</text><text x="595.4" y="723.0">k'</text><text x="594.7" y="728.8">k'</text><text x="594.9" y="713.0">k'</text><text x="594.6" y="742.3">k'</text><text x="595.1" y="713.7">k'</text><text x="594.7" y="701.6">k'</text><text x="595.1" y="698.6">k'</text><text x="594.9" y="714.3">k'</text><text x="594.8" y="664.6">k'</text><text x="594.7" y="709.3">k'</text><text x="594.6" y="656.6">k'</text><text x="594.6" y="704.6">k'</text><text x="595.1" y="693.1">k'</text><text x="594.5" y="681.2">k'</text><text x="594.8" y="641.3">k'</text><text x="594.5" y="745.4">k'</text><text x="594.6" y="665.3">k'</text><text x="594.8" y="699.3">k'</text><text x="594.6" y="684.7">k'</text><text x="594.9" y="726.6">k'</text><text x="594.5" y="669.1">k'</text><text x="595.0" y="742.1">k'</text><text x="595.0" y="685.2">k'</text><text x="595.2" y="664.7">k'</text><text x="594.5" y="688.3">k'</text><text x="595.4" y="715.5">k'</text><text x="594.8" y="709.3">k'</text><text x="595.3" y="660.3">k'</text><text x="595.1" y="671.5">k'</text><text x="594.7" y="663.7">k'</text><text x="594.7" y="671.0">k'</text><text x="594.5" y="676.3">k'</text><text x="594.6" y="717.8">k'</text><text x="595.1" y="631.1">k'</text><text x="595.3" y="652.5">k'</text><text x="595.0" y="694.4">k'</text><text x="594.8" y="663.9">k'</text><text x="594.9" y="646.4">k'</text><text x="595.4" y="643.5">k'</text><text x="595.3" y="655.7">k'</text><text x="594.8" y="675.3">k'</text><text x="594.5" y="645.4">k'</text><text x="594.9" y="681.4">k'</text><text x="595.4" y="744.4">k'</text><text x="594.5" y="692.1">k'</text><text x="594.6" y="723.0">k'</text><text x="594.8" y="733.3">k'</text><text x="595.0" y="645.1">k'</text><text x="594.5" y="659.1">k'</text><text x="595.4" y="647.8">k'</text><text x="595.0" y="673.4">k'</text><text x="594.8" y="722.8">k'</text><text x="594.7" y="713.2">k'</text><text x="595.2" y="738.2">k'</text></g><g fill="#BEBEBE"><text x="595.0" y="752.8">g</text><text x="594.9" y="744.2">g</text><text x="595.1" y="750.8">g</text><text x="595.4" y="732.7">g</text><text x="594.6" y="743.2">g</text><text x="595.3" y="743.2">g</text><text x="594.8" y="753.9">g</text><text x="594.8" y="732.0">g</text><text x="594.6" y="730.6">g</text><text x="595.2" y="732.5">g</text><text x="595.2" y="751.5">g</text><text x="595.5" y="750.0">g</text><text x="594.9" y="745.4">g</text><text x="595.3" y="747.7">g</text><text x="594.8" y="748.9">g</text><text x="594.6" y="737.5">g</text><text x="595.5" y="741.6">g</text><text x="594.8" y="749.4">g</text><text x="595.0" y="729.9">g</text><text x="594.5" y="736.3">g</text><text x="594.8" y="753.3">g</text><text x="594.7" y="751.1">g</text><text x="595.4" y="740.2">g</text><text x="595.5" y="748.9">g</text><text x="595.0" y="736.4">g</text><text x="595.0" y="752.4">g</text><text x="595.0" y="734.7">g</text><text x="594.9" y="741.7">g</text><text x="594.7" y="744.1">g</text><text x="594.5" y="750.4">g</text></g><g fill="#BEBEBE"><text x="595.0" y="625.6">k'</text></g><g fill="#BEBEBE"><text x="659.0" y="699.0">k</text><text x="640.5" y="681.5">k</text><text x="672.6" y="675.1">k</text><text x="617.4" y="685.5">k</text><text x="662.4" y="722.9">k</text><text x="642.5" y="673.6">k</text><text x="659.1" y="689.5">k</text><text x="662.2" y="682.1">k</text><text x="661.2" y="680.8">k</text><text x="677.2" y="698.4">k</text><text x="668.8" y="683.7">k</text><text x="627.7" y="692.9">k</text><text x="656.0" y="715.2">k</text><text x="676.8" y="691.9">k</text><text x="656.1" y="672.4">k</text><text x="656.2" y="697.0">k</text><text x="648.6" y="670.5">k</text><text x="683.2" y="673.7">k</text><text x="690.8" y="716.8">k</text><text x="688.5" y="675.3">k</text><text x="669.8" y="664.2">k</text><text x="649.6" y="661.4">k</text><text x="642.0" y="682.3">k</text><text x="676.5" y="714.6">k</text><text x="649.4" y="686.7">k</text><text x="637.7" y="669.3">k</text><text x="620.5" y="688.1">k</text><text x="669.0" y="676.9">k</text><text x="664.3" y="669.0">k</text><text x="636.4" y="681.6">k</text><text x="674.8" y="681.8">k</text><text x="672.4" y="685.3">k</text><text x="634.3" y="651.6">k</text><text x="647.1" y="672.9">k</text><text x="675.2" y="701.3">k</text><text x="623.5" y="709.4">k</text><text x="635.5" y="697.2">k</text><text x="624.4" y="677.6">k</text><text x="667.2" y="697.3">k</text><text x="665.8" y="704.7">k</text><text x="667.2" y="735.5">k</text><text x="651.3" y="703.6">k</text><text x="663.5" y="689.2">k</text><text x="663.0" y="697.4">k</text><text x="673.1" y="698.7">k</text><text x="657.8" y="702.1">k</text><text x="685.8" y="693.7">k</text><text x="668.8" y="695.0">k</text><text x="617.0" y="674.0">k</text><text x="638.1" y="664.1">k</text><text x="644.1" y="656.6">k</text><text x="662.0" y="681.4">k</text><text x="681.3" y="699.9">k</text><text x="630.9" y="687.8">k</text><text x="657.5" y="678.5">k</text><text x="649.3" y="670.3">k</text><text x="641.8" y="697.7">k</text><text x="649.8" y="716.4">k</text><text x="613.9" y="676.1">k</text><text x="649.0" y="721.8">k</text><text x="678.8" y="707.2">k</text><text x="676.0" y="724.0">k</text><text x="670.0" y="687.3">k</text><text x="660.0" y="677.5">k</text><text x="651.8" y="699.4">k</text><text x="646.2" y="694.0">k</text><text x="647.6" y="665.5">k</text><text x="627.4" y="705.8">k</text><text x="656.9" y="708.5">k</text><text x="654.2" y="691.6">k</text><text x="661.5" y="685.0">k</text><text x="683.8" y="711.8">k</text><text x="664.1" y="670.8">k</text><text x="645.4" y="695.8">k</text><text x="679.2" y="690.8">k</text><text x="655.4" y="702.1">k</text><text x="658.3" y="688.4">k</text><text x="633.4" y="716.0">k</text><text x="654.8" y="681.1">k</text><text x="653.7" y="664.9">k</text><text x="622.2" y="655.7">k</text><text x="663.1" y="664.8">k</text><text x="657.9" y="667.5">k</text><text x="620.0" y="678.9">k</text><text x="640.8" y="677.4">k</text><text x="690.0" y="695.1">k</text><text x="643.6" y="708.5">k</text><text x="649.1" y="715.4">k</text><text x="624.2" y="712.7">k</text><text x="633.8" y="676.4">k</text><text x="659.4" y="669.5">k</text><text x="622.5" y="683.1">k</text><text x="649.3" y="658.1">k</text><text x="674.8" y="674.4">k</text><text x="642.8" y="686.2">k</text><text x="656.2" y="711.9">k</text><text x="612.1" y="690.9">k</text><text x="672.9" y="695.5">k</text><text x="653.6" y="668.5">k</text><text x="661.8" y="681.0">k</text><text x="657.8" y="669.6">k</text><text x="648.8" y="687.8">k</text><text x="625.5" y="711.3">k</text><text x="652.6" y="665.0">k</text><text x="650.0" y="693.2">k</text><text x="648.2" y="670.0">k</text><text x="650.5" y="663.5">k</text><text x="621.7" y="714.1">k</text><text x="689.1" y="727.9">k</text><text x="700.2" y="717.8">k</text><text x="636.4" y="679.3">k</text><text x="677.0" y="681.2">k</text><text x="648.0" y="690.2">k</text><text x="663.4" y="663.3">k</text><text x="655.6" y="700.4">k</text><text x="614.0" y="713.1">k</text><text x="670.4" y="674.4">k</text><text x="691.6" y="699.0">k</text><text x="664.6" y="721.6">k</text><text x="676.3" y="719.1">k</text><text x="654.3" y="686.9">k</text><text x="639.7" y="683.9">k</text><text x="643.3" y="670.4">k</text><text x="643.0" y="681.4">k</text><text x="645.3" y="692.6">k</text><text x="653.6" y="683.4">k</text><text x="642.6" y="688.5">k</text><text x="648.7" y="688.0">k</text><text x="682.6" y="695.4">k</text><text x="647.0" y="649.5">k</text></g><g fill="#BEBEBE"><text x="675.0" y="652.1">k</text><text x="693.0" y="662.1">k</text><text x="690.0" y="680.6">k</text><text x="705.0" y="700.6">k</text><text x="712.0" y="710.6">k</text><text x="700.0" y="715.6">k</text><text x="660.0" y="670.6">k</text></g><g fill="#BEBEBE"><text x="693.9" y="756.7">g</text><text x="667.1" y="745.7">g</text><text x="691.8" y="732.1">g</text><text x="667.0" y="734.0">g</text><text x="686.2" y="750.4">g</text><text x="695.5" y="744.0">g</text><text x="663.9" y="748.5">g</text><text x="685.6" y="731.9">g</text><text x="690.9" y="734.2">g</text><text x="675.4" y="740.4">g</text><text x="697.6" y="730.0">g</text><text x="682.1" y="733.9">g</text><text x="693.6" y="751.3">g</text><text x="673.2" y="748.4">g</text><text x="683.2" y="733.4">g</text><text x="673.8" y="743.0">g</text><text x="700.3" y="744.9">g</text><text x="660.0" y="750.3">g</text><text x="689.0" y="739.5">g</text><text x="672.1" y="740.0">g</text><text x="694.6" y="735.0">g</text><text x="666.9" y="753.2">g</text><text x="682.1" y="728.9">g</text><text x="704.5" y="730.1">g</text><text x="678.2" y="745.4">g</text><text x="693.2" y="753.8">g</text><text x="668.8" y="743.9">g</text><text x="704.0" y="740.8">g</text><text x="695.7" y="740.8">g</text><text x="695.8" y="755.6">g</text></g><g fill="#F8766D"><text x="594.8" y="729.2">g</text><text x="594.8" y="733.6">g</text><text x="595.3" y="732.7">g</text><text x="595.4" y="725.1">g</text><text x="595.5" y="712.3">g</text><text x="595.1" y="710.0">g</text><text x="595.1" y="727.7">g</text><text x="594.8" y="731.4">g</text><text x="594.9" y="713.5">g</text><text x="594.7" y="724.6">g</text><text x="594.9" y="709.2">g</text><text x="594.8" y="736.1">g</text><text x="595.0" y="727.6">g</text><text x="594.9" y="709.9">g</text><text x="595.1" y="713.9">g</text><text x="594.6" y="725.7">g</text></g><g fill="#C77CFF"><text x="637.2" y="728.0">g</text><text x="640.3" y="728.9">g</text><text x="643.4" y="740.6">g</text><text x="643.8" y="707.8">g</text><text x="637.5" y="715.0">g</text><text x="643.5" y="725.9">g</text><text x="641.7" y="728.7">g</text><text x="649.4" y="749.0">g</text><text x="640.2" y="709.0">g</text><text x="638.2" y="757.9">g</text><text x="629.9" y="728.9">g</text><text x="667.6" y="753.8">g</text><text x="645.9" y="733.2">g</text><text x="622.3" y="753.1">g</text><text x="649.2" y="706.3">g</text><text x="636.8" y="728.3">g</text><text x="637.4" y="720.7">g</text><text x="655.8" y="739.0">g</text><text x="638.3" y="736.4">g</text><text x="647.2" y="719.1">g</text><text x="633.7" y="747.1">g</text><text x="649.6" y="735.6">g</text><text x="623.8" y="707.2">g</text><text x="656.2" y="750.5">g</text><text x="644.4" y="735.7">g</text><text x="634.3" y="737.2">g</text><text x="652.7" y="740.9">g</text><text x="631.7" y="735.2">g</text><text x="631.9" y="729.2">g</text><text x="625.0" y="697.0">g</text><text x="625.7" y="732.8">g</text><text x="628.8" y="737.8">g</text><text x="631.6" y="734.4">g</text><text x="632.7" y="750.4">g</text><text x="633.5" y="730.5">g</text><text x="652.1" y="751.1">g</text><text x="624.4" y="750.8">g</text><text x="625.5" y="716.7">g</text><text x="628.3" y="744.3">g</text><text x="625.6" y="738.4">g</text><text x="643.4" y="727.6">g</text><text x="643.9" y="759.3">g</text><text x="657.7" y="718.5">g</text><text x="641.6" y="724.8">g</text><text x="636.8" y="722.7">g</text><text x="645.0" y="718.3">g</text><text x="623.5" y="731.0">g</text><text x="642.3" y="747.2">g</text><text x="646.5" y="718.2">g</text><text x="627.4" y="734.8">g</text><text x="641.6" y="740.5">g</text><text x="654.3" y="699.0">g</text><text x="631.0" y="738.0">g</text><text x="625.5" y="753.7">g</text><text x="637.4" y="738.7">g</text><text x="636.0" y="735.3">g</text><text x="643.3" y="737.9">g</text><text x="622.0" y="703.6">g</text><text x="637.4" y="741.5">g</text><text x="635.5" y="728.0">g</text><text x="651.3" y="739.5">g</text><text x="627.1" y="732.7">g</text><text x="635.9" y="731.2">g</text><text x="637.5" y="738.5">g</text><text x="638.3" y="735.1">g</text><text x="638.9" y="727.5">g</text><text x="631.7" y="734.2">g</text><text x="643.8" y="752.5">g</text><text x="630.7" y="745.1">g</text><text x="633.5" y="732.2">g</text></g><g fill="#C77CFF"><text x="687.5" y="707.8">g</text><text x="675.0" y="724.8">g</text><text x="610.0" y="739.8">g</text><text x="620.0" y="754.8">g</text></g><g fill="#F8766D"><text x="630.0" y="741.8">g</text><text x="649.0" y="730.8">g</text><text x="640.0" y="734.8">g</text></g></g>
<line x1="585.0" x2="807.2" y1="597.24" y2="597.24" stroke="#000" stroke-width="2.9" stroke-dasharray="11.35 11.35"/>
<line x1="585.0" x2="807.2" y1="720.87" y2="720.87" stroke="#000" stroke-width="2.9" stroke-dasharray="11.35 11.35"/>
</g>
<rect x="585.4" y="444.4" width="221.8" height="319.4" fill="none" stroke="#333" stroke-width="1.9"/>
<g clip-path="url(#cp13)">
<rect x="822.6" y="444.4" width="221.8" height="319.4" fill="#fff"/>
<line x1="822.6" x2="1044.4" y1="701.85" y2="701.85" stroke="#EBEBEB" stroke-width="1.4"/>
<line x1="822.6" x2="1044.4" y1="606.75" y2="606.75" stroke="#EBEBEB" stroke-width="1.4"/>
<line x1="822.6" x2="1044.4" y1="511.65" y2="511.65" stroke="#EBEBEB" stroke-width="1.4"/>
<line y1="444.4" y2="763.8" x1="857.25" x2="857.25" stroke="#EBEBEB" stroke-width="1.4"/>
<line y1="444.4" y2="763.8" x1="907.35" x2="907.35" stroke="#EBEBEB" stroke-width="1.4"/>
<line y1="444.4" y2="763.8" x1="957.45" x2="957.45" stroke="#EBEBEB" stroke-width="1.4"/>
<line y1="444.4" y2="763.8" x1="1007.55" x2="1007.55" stroke="#EBEBEB" stroke-width="1.4"/>
<line x1="822.6" x2="1044.4" y1="749.40" y2="749.40" stroke="#EBEBEB" stroke-width="2.8"/>
<line x1="822.6" x2="1044.4" y1="654.30" y2="654.30" stroke="#EBEBEB" stroke-width="2.8"/>
<line x1="822.6" x2="1044.4" y1="559.20" y2="559.20" stroke="#EBEBEB" stroke-width="2.8"/>
<line x1="822.6" x2="1044.4" y1="464.10" y2="464.10" stroke="#EBEBEB" stroke-width="2.8"/>
<line y1="444.4" y2="763.8" x1="832.20" x2="832.20" stroke="#EBEBEB" stroke-width="2.8"/>
<line y1="444.4" y2="763.8" x1="882.30" x2="882.30" stroke="#EBEBEB" stroke-width="2.8"/>
<line y1="444.4" y2="763.8" x1="932.40" x2="932.40" stroke="#EBEBEB" stroke-width="2.8"/>
<line y1="444.4" y2="763.8" x1="982.50" x2="982.50" stroke="#EBEBEB" stroke-width="2.8"/>
<line y1="444.4" y2="763.8" x1="1032.60" x2="1032.60" stroke="#EBEBEB" stroke-width="2.8"/>
<g text-anchor="middle" font-size="29.3"><g fill="#BEBEBE"><text x="831.8" y="727.8">q'</text><text x="832.4" y="755.2">q'</text><text x="832.0" y="676.5">q'</text><text x="832.4" y="722.8">q'</text><text x="832.0" y="725.7">q'</text><text x="832.1" y="736.5">q'</text><text x="831.8" y="672.7">q'</text><text x="832.6" y="688.2">q'</text><text x="832.0" y="739.5">q'</text><text x="832.3" y="664.3">q'</text><text x="832.3" y="723.4">q'</text><text x="831.9" y="722.0">q'</text><text x="831.8" y="685.8">q'</text><text x="831.8" y="670.5">q'</text><text x="832.7" y="693.5">q'</text><text x="832.7" y="697.5">q'</text><text x="832.3" y="747.4">q'</text><text x="832.4" y="659.9">q'</text><text x="832.3" y="719.9">q'</text><text x="831.9" y="657.9">q'</text><text x="832.6" y="706.1">q'</text><text x="831.9" y="699.1">q'</text><text x="831.9" y="738.8">q'</text><text x="832.2" y="658.8">q'</text><text x="832.5" y="657.3">q'</text><text x="832.0" y="650.3">q'</text><text x="832.4" y="660.1">q'</text><text x="832.2" y="657.7">q'</text><text x="832.2" y="725.9">q'</text><text x="832.2" y="699.4">q'</text><text x="832.2" y="697.3">q'</text><text x="832.3" y="657.9">q'</text><text x="832.2" y="674.2">q'</text><text x="832.6" y="755.0">q'</text><text x="831.8" y="663.5">q'</text><text x="832.4" y="712.8">q'</text><text x="831.7" y="728.1">q'</text><text x="832.6" y="695.7">q'</text><text x="832.0" y="712.5">q'</text><text x="832.6" y="677.3">q'</text><text x="832.0" y="668.7">q'</text><text x="832.3" y="701.0">q'</text><text x="832.0" y="691.6">q'</text><text x="831.7" y="683.0">q'</text><text x="832.7" y="714.4">q'</text><text x="832.0" y="754.7">q'</text><text x="832.1" y="676.0">q'</text><text x="831.7" y="663.9">q'</text><text x="831.9" y="673.5">q'</text><text x="832.6" y="677.5">q'</text><text x="831.9" y="716.5">q'</text><text x="832.6" y="680.5">q'</text><text x="832.5" y="689.4">q'</text><text x="832.3" y="715.6">q'</text><text x="832.6" y="734.1">q'</text><text x="832.2" y="743.8">q'</text><text x="832.1" y="691.2">q'</text><text x="832.7" y="709.8">q'</text><text x="832.5" y="683.2">q'</text><text x="832.6" y="717.5">q'</text><text x="831.9" y="754.4">q'</text><text x="832.2" y="686.1">q'</text><text x="832.0" y="658.9">q'</text><text x="831.9" y="726.6">q'</text><text x="831.8" y="676.8">q'</text><text x="832.1" y="709.7">q'</text><text x="832.1" y="737.3">q'</text><text x="832.0" y="689.4">q'</text><text x="832.1" y="661.9">q'</text><text x="831.9" y="663.9">q'</text></g><g fill="#BEBEBE"><text x="832.4" y="661.7">q</text><text x="832.4" y="670.4">q</text><text x="832.3" y="720.3">q</text><text x="832.1" y="752.1">q</text><text x="832.4" y="708.9">q</text><text x="831.7" y="691.6">q</text><text x="832.0" y="698.9">q</text><text x="832.6" y="744.2">q</text><text x="831.8" y="723.1">q</text><text x="832.6" y="707.2">q</text><text x="831.8" y="744.5">q</text><text x="832.1" y="757.6">q</text><text x="832.6" y="740.2">q</text><text x="832.6" y="652.7">q</text><text x="832.5" y="679.9">q</text><text x="831.8" y="688.4">q</text><text x="832.3" y="645.4">q</text><text x="832.1" y="735.0">q</text><text x="832.2" y="705.6">q</text><text x="832.0" y="756.6">q</text><text x="831.9" y="723.2">q</text><text x="832.3" y="644.9">q</text><text x="832.7" y="671.9">q</text><text x="832.7" y="751.6">q</text><text x="832.6" y="743.2">q</text><text x="832.1" y="696.1">q</text><text x="832.0" y="752.5">q</text><text x="831.7" y="660.6">q</text><text x="832.7" y="737.6">q</text><text x="832.4" y="756.2">q</text><text x="832.2" y="740.9">q</text><text x="832.1" y="748.4">q</text><text x="831.8" y="695.2">q</text><text x="832.3" y="736.2">q</text><text x="832.1" y="723.1">q</text><text x="832.7" y="693.0">q</text><text x="831.9" y="648.3">q</text><text x="832.6" y="699.6">q</text><text x="832.1" y="704.6">q</text><text x="831.8" y="670.4">q</text></g><g fill="#BEBEBE"><text x="832.0" y="584.0">q'</text><text x="832.0" y="602.0">q'</text><text x="832.0" y="617.0">q'</text><text x="832.0" y="632.0">q'</text><text x="853.0" y="610.0">q'</text><text x="848.0" y="615.0">q'</text><text x="893.0" y="638.0">q'</text><text x="870.0" y="654.0">q'</text><text x="1034.0" y="732.0">q'</text><text x="960.0" y="727.0">q'</text><text x="975.0" y="725.0">q'</text></g><g fill="#BEBEBE"><text x="938.0" y="656.8">q</text><text x="964.0" y="741.8">q</text><text x="945.0" y="684.8">q</text><text x="940.0" y="704.8">q</text></g><g fill="#BEBEBE"><text x="894.4" y="726.7">q</text><text x="902.6" y="697.1">q</text><text x="926.8" y="733.6">q</text><text x="888.5" y="708.0">q</text><text x="879.2" y="680.0">q</text><text x="872.6" y="679.2">q</text><text x="880.3" y="717.1">q</text><text x="892.0" y="679.0">q</text><text x="889.4" y="696.4">q</text><text x="871.6" y="734.0">q</text><text x="872.7" y="729.7">q</text><text x="860.0" y="716.1">q</text><text x="879.4" y="730.9">q</text><text x="901.2" y="693.1">q</text><text x="905.8" y="737.8">q</text><text x="919.4" y="742.0">q</text><text x="886.2" y="756.9">q</text><text x="881.7" y="707.2">q</text><text x="863.0" y="705.5">q</text><text x="864.7" y="712.6">q</text><text x="858.6" y="750.6">q</text><text x="909.3" y="744.8">q</text><text x="916.5" y="713.7">q</text><text x="902.7" y="714.6">q</text><text x="856.2" y="684.7">q</text><text x="885.6" y="730.6">q</text><text x="866.0" y="714.3">q</text><text x="882.0" y="726.4">q</text><text x="908.4" y="687.5">q</text><text x="870.8" y="742.3">q</text><text x="914.3" y="709.7">q</text><text x="910.0" y="711.6">q</text><text x="902.8" y="701.8">q</text><text x="904.2" y="746.8">q</text><text x="922.3" y="738.0">q</text><text x="895.9" y="731.4">q</text><text x="884.9" y="703.8">q</text><text x="896.4" y="686.5">q</text><text x="897.3" y="672.8">q</text><text x="925.9" y="728.8">q</text><text x="899.4" y="695.1">q</text><text x="881.6" y="701.7">q</text><text x="860.6" y="701.0">q</text><text x="875.3" y="728.8">q</text><text x="920.0" y="742.1">q</text><text x="866.6" y="680.3">q</text><text x="921.9" y="727.5">q</text><text x="914.5" y="724.9">q</text><text x="898.2" y="756.9">q</text><text x="910.8" y="725.3">q</text><text x="873.6" y="713.8">q</text><text x="920.2" y="722.7">q</text><text x="911.6" y="706.2">q</text><text x="907.6" y="698.0">q</text><text x="889.8" y="733.8">q</text><text x="927.3" y="703.3">q</text><text x="889.2" y="705.2">q</text><text x="889.7" y="711.0">q</text><text x="911.0" y="718.0">q</text><text x="893.4" y="720.1">q</text><text x="858.2" y="707.0">q</text><text x="932.8" y="687.8">q</text><text x="881.8" y="716.0">q</text><text x="913.4" y="704.6">q</text><text x="872.4" y="744.1">q</text><text x="878.4" y="659.2">q</text><text x="920.4" y="753.1">q</text><text x="863.2" y="701.1">q</text><text x="888.3" y="725.5">q</text><text x="889.5" y="722.7">q</text><text x="902.8" y="707.1">q</text><text x="894.3" y="741.0">q</text><text x="896.9" y="724.5">q</text><text x="892.7" y="725.9">q</text><text x="925.8" y="712.2">q</text><text x="883.7" y="693.9">q</text><text x="913.6" y="693.2">q</text><text x="897.6" y="749.6">q</text><text x="893.6" y="708.3">q</text><text x="905.0" y="691.0">q</text><text x="878.8" y="714.7">q</text><text x="932.6" y="723.9">q</text><text x="862.7" y="719.5">q</text><text x="857.6" y="662.2">q</text><text x="936.2" y="689.7">q</text><text x="849.1" y="708.5">q</text><text x="889.4" y="720.5">q</text><text x="889.9" y="705.8">q</text><text x="910.5" y="706.5">q</text><text x="878.3" y="718.2">q</text><text x="882.0" y="734.3">q</text><text x="894.1" y="706.3">q</text><text x="884.7" y="723.6">q</text><text x="913.8" y="703.8">q</text><text x="848.8" y="727.6">q</text><text x="878.1" y="724.0">q</text><text x="881.1" y="719.4">q</text><text x="888.3" y="692.5">q</text><text x="867.0" y="708.1">q</text><text x="896.4" y="673.9">q</text><text x="937.4" y="692.5">q</text><text x="888.1" y="686.2">q</text><text x="867.7" y="743.5">q</text><text x="860.2" y="715.9">q</text><text x="878.5" y="723.5">q</text><text x="925.2" y="713.9">q</text><text x="887.2" y="734.7">q</text><text x="887.3" y="668.8">q</text><text x="920.8" y="698.8">q</text><text x="912.4" y="717.4">q</text><text x="927.4" y="690.5">q</text><text x="859.6" y="685.0">q</text><text x="895.5" y="715.4">q</text><text x="879.6" y="758.4">q</text><text x="910.2" y="714.7">q</text><text x="879.4" y="709.1">q</text><text x="899.6" y="702.3">q</text><text x="907.2" y="711.0">q</text><text x="858.4" y="734.5">q</text><text x="879.7" y="734.4">q</text><text x="902.3" y="681.1">q</text><text x="894.8" y="706.4">q</text><text x="889.0" y="708.7">q</text><text x="895.7" y="705.9">q</text><text x="910.5" y="722.9">q</text><text x="890.6" y="707.3">q</text><text x="887.1" y="702.0">q</text><text x="890.4" y="715.6">q</text><text x="887.6" y="668.8">q</text><text x="895.2" y="690.6">q</text><text x="914.4" y="657.0">q</text><text x="857.6" y="732.9">q</text><text x="877.6" y="675.2">q</text><text x="858.1" y="706.9">q</text><text x="877.0" y="710.0">q</text><text x="887.3" y="710.7">q</text><text x="884.7" y="692.2">q</text><text x="908.0" y="745.2">q</text><text x="875.8" y="706.7">q</text><text x="934.7" y="685.7">q</text><text x="870.6" y="722.4">q</text><text x="911.8" y="709.9">q</text><text x="916.8" y="707.8">q</text><text x="897.8" y="709.6">q</text><text x="900.1" y="710.7">q</text><text x="922.9" y="726.7">q</text><text x="926.8" y="707.1">q</text><text x="877.5" y="696.6">q</text><text x="885.2" y="717.7">q</text><text x="884.9" y="716.6">q</text><text x="902.1" y="684.4">q</text><text x="864.9" y="739.7">q</text><text x="880.4" y="752.3">q</text><text x="887.3" y="679.5">q</text><text x="869.6" y="692.4">q</text><text x="946.8" y="668.3">q</text><text x="914.1" y="688.9">q</text><text x="925.2" y="739.2">q</text><text x="880.0" y="723.5">q</text><text x="901.2" y="707.0">q</text><text x="884.2" y="697.4">q</text><text x="902.5" y="698.6">q</text><text x="911.1" y="725.6">q</text><text x="860.8" y="719.6">q</text><text x="889.8" y="727.8">q</text><text x="886.1" y="736.6">q</text><text x="910.4" y="730.6">q</text><text x="906.1" y="679.5">q</text><text x="892.1" y="735.0">q</text><text x="911.8" y="723.7">q</text><text x="893.1" y="709.0">q</text><text x="865.8" y="670.3">q</text><text x="889.8" y="728.8">q</text><text x="888.1" y="698.2">q</text><text x="889.7" y="740.1">q</text><text x="881.0" y="708.3">q</text><text x="900.4" y="734.1">q</text><text x="902.0" y="698.9">q</text><text x="883.2" y="685.0">q</text><text x="889.4" y="732.2">q</text><text x="897.0" y="700.6">q</text><text x="871.2" y="702.5">q</text><text x="908.9" y="724.4">q</text><text x="902.8" y="729.5">q</text><text x="918.4" y="715.2">q</text><text x="906.7" y="667.7">q</text><text x="906.9" y="703.0">q</text><text x="898.8" y="690.1">q</text><text x="888.1" y="685.6">q</text><text x="892.1" y="687.6">q</text><text x="914.7" y="703.6">q</text><text x="896.8" y="696.6">q</text><text x="891.1" y="694.9">q</text><text x="876.6" y="721.5">q</text><text x="879.7" y="684.9">q</text><text x="915.0" y="716.1">q</text><text x="899.5" y="717.5">q</text><text x="924.6" y="714.7">q</text><text x="859.4" y="690.2">q</text><text x="899.0" y="700.8">q</text></g><g fill="#BEBEBE"><text x="902.8" y="702.0">q'</text><text x="903.7" y="717.1">q'</text><text x="884.7" y="682.2">q'</text><text x="887.8" y="694.1">q'</text><text x="875.4" y="709.8">q'</text><text x="918.2" y="701.0">q'</text><text x="886.1" y="686.3">q'</text><text x="899.7" y="713.0">q'</text><text x="898.0" y="739.3">q'</text><text x="899.7" y="728.9">q'</text><text x="887.2" y="716.0">q'</text><text x="877.1" y="724.0">q'</text><text x="923.2" y="689.8">q'</text><text x="877.7" y="713.7">q'</text><text x="894.3" y="725.6">q'</text><text x="904.6" y="712.9">q'</text><text x="872.4" y="722.7">q'</text><text x="896.8" y="708.7">q'</text><text x="889.5" y="705.8">q'</text><text x="906.2" y="680.3">q'</text><text x="894.6" y="714.9">q'</text><text x="871.7" y="719.3">q'</text><text x="887.7" y="698.1">q'</text><text x="888.8" y="691.0">q'</text><text x="926.6" y="695.0">q'</text><text x="893.9" y="701.0">q'</text><text x="897.8" y="708.9">q'</text><text x="888.0" y="708.9">q'</text><text x="897.3" y="712.4">q'</text><text x="915.4" y="706.2">q'</text><text x="892.2" y="718.4">q'</text><text x="891.2" y="716.4">q'</text><text x="906.1" y="663.6">q'</text><text x="896.2" y="699.8">q'</text><text x="862.3" y="682.6">q'</text><text x="865.6" y="728.4">q'</text><text x="917.1" y="708.9">q'</text><text x="892.1" y="685.9">q'</text><text x="936.0" y="738.4">q'</text><text x="899.2" y="691.9">q'</text></g></g>
<line x1="822.2" x2="1044.4" y1="597.24" y2="597.24" stroke="#000" stroke-width="2.9" stroke-dasharray="11.35 11.35"/>
<line x1="822.2" x2="1044.4" y1="720.87" y2="720.87" stroke="#000" stroke-width="2.9" stroke-dasharray="11.35 11.35"/>
</g>
<rect x="822.6" y="444.4" width="221.8" height="319.4" fill="none" stroke="#333" stroke-width="1.9"/>
<g clip-path="url(#cp14)">
<rect x="1059.8" y="444.4" width="221.8" height="319.4" fill="#fff"/>
<line x1="1059.8" x2="1281.6" y1="701.85" y2="701.85" stroke="#EBEBEB" stroke-width="1.4"/>
<line x1="1059.8" x2="1281.6" y1="606.75" y2="606.75" stroke="#EBEBEB" stroke-width="1.4"/>
<line x1="1059.8" x2="1281.6" y1="511.65" y2="511.65" stroke="#EBEBEB" stroke-width="1.4"/>
<line y1="444.4" y2="763.8" x1="1106.22" x2="1106.22" stroke="#EBEBEB" stroke-width="1.4"/>
<line y1="444.4" y2="763.8" x1="1180.08" x2="1180.08" stroke="#EBEBEB" stroke-width="1.4"/>
<line y1="444.4" y2="763.8" x1="1253.92" x2="1253.92" stroke="#EBEBEB" stroke-width="1.4"/>
<line x1="1059.8" x2="1281.6" y1="749.40" y2="749.40" stroke="#EBEBEB" stroke-width="2.8"/>
<line x1="1059.8" x2="1281.6" y1="654.30" y2="654.30" stroke="#EBEBEB" stroke-width="2.8"/>
<line x1="1059.8" x2="1281.6" y1="559.20" y2="559.20" stroke="#EBEBEB" stroke-width="2.8"/>
<line x1="1059.8" x2="1281.6" y1="464.10" y2="464.10" stroke="#EBEBEB" stroke-width="2.8"/>
<line y1="444.4" y2="763.8" x1="1069.30" x2="1069.30" stroke="#EBEBEB" stroke-width="2.8"/>
<line y1="444.4" y2="763.8" x1="1143.15" x2="1143.15" stroke="#EBEBEB" stroke-width="2.8"/>
<line y1="444.4" y2="763.8" x1="1217.00" x2="1217.00" stroke="#EBEBEB" stroke-width="2.8"/>
<g text-anchor="middle" font-size="29.3"><g fill="#BEBEBE"><text x="1069.8" y="553.2">tʃ</text><text x="1069.5" y="561.3">tʃ</text><text x="1069.8" y="553.5">tʃ</text><text x="1069.7" y="590.0">tʃ</text><text x="1069.7" y="607.6">tʃ</text><text x="1069.0" y="571.2">tʃ</text><text x="1069.5" y="568.0">tʃ</text><text x="1069.1" y="565.1">tʃ</text><text x="1069.7" y="600.7">tʃ</text><text x="1069.6" y="564.9">tʃ</text><text x="1069.7" y="580.7">tʃ</text><text x="1069.0" y="577.6">tʃ</text><text x="1069.2" y="556.9">tʃ</text><text x="1069.4" y="572.4">tʃ</text></g><g fill="#BEBEBE"><text x="1087.6" y="707.6">ts</text><text x="1120.3" y="718.1">ts</text><text x="1136.0" y="742.3">ts</text><text x="1088.7" y="699.5">ts</text><text x="1097.5" y="731.0">ts</text><text x="1114.7" y="713.7">ts</text><text x="1111.5" y="719.8">ts</text><text x="1078.3" y="713.2">ts</text><text x="1087.4" y="717.2">ts</text><text x="1129.8" y="713.7">ts</text><text x="1107.2" y="727.6">ts</text><text x="1116.1" y="708.0">ts</text><text x="1125.9" y="711.2">ts</text><text x="1094.7" y="719.0">ts</text><text x="1146.7" y="705.6">ts</text><text x="1091.3" y="718.3">ts</text><text x="1077.8" y="717.9">ts</text><text x="1139.4" y="694.1">ts</text><text x="1103.7" y="707.5">ts</text><text x="1120.5" y="714.9">ts</text><text x="1072.9" y="717.3">ts</text><text x="1113.2" y="716.8">ts</text><text x="1154.9" y="726.1">ts</text><text x="1076.7" y="711.7">ts</text><text x="1111.5" y="701.5">ts</text><text x="1097.4" y="708.7">ts</text><text x="1108.2" y="718.1">ts</text><text x="1084.8" y="732.4">ts</text><text x="1086.2" y="724.9">ts</text><text x="1072.8" y="704.6">ts</text><text x="1085.0" y="711.5">ts</text><text x="1126.9" y="697.9">ts</text><text x="1151.4" y="701.6">ts</text><text x="1146.5" y="719.0">ts</text><text x="1088.9" y="727.0">ts</text><text x="1089.5" y="716.6">ts</text><text x="1074.8" y="740.5">ts</text><text x="1095.2" y="707.8">ts</text><text x="1089.0" y="732.2">ts</text><text x="1097.4" y="706.9">ts</text><text x="1121.0" y="720.0">ts</text><text x="1134.0" y="702.4">ts</text><text x="1146.3" y="731.7">ts</text><text x="1082.5" y="712.4">ts</text><text x="1116.6" y="713.4">ts</text><text x="1126.0" y="723.7">ts</text><text x="1102.3" y="702.3">ts</text><text x="1066.2" y="730.4">ts</text><text x="1153.9" y="717.9">ts</text><text x="1127.9" y="731.9">ts</text><text x="1126.6" y="702.4">ts</text><text x="1073.9" y="710.1">ts</text><text x="1105.2" y="705.8">ts</text><text x="1108.7" y="732.6">ts</text><text x="1091.2" y="716.6">ts</text><text x="1074.2" y="714.8">ts</text><text x="1129.3" y="733.0">ts</text><text x="1109.5" y="706.6">ts</text><text x="1159.9" y="690.8">ts</text><text x="1090.0" y="706.9">ts</text><text x="1102.9" y="723.6">ts</text><text x="1089.0" y="697.5">ts</text><text x="1137.8" y="727.4">ts</text><text x="1116.7" y="734.7">ts</text><text x="1117.3" y="698.9">ts</text><text x="1107.1" y="724.3">ts</text><text x="1111.3" y="714.3">ts</text><text x="1079.6" y="723.5">ts</text><text x="1124.4" y="709.3">ts</text><text x="1075.1" y="711.4">ts</text><text x="1073.6" y="719.1">ts</text><text x="1068.0" y="720.5">ts</text><text x="1078.2" y="722.5">ts</text><text x="1106.2" y="746.4">ts</text><text x="1129.9" y="718.9">ts</text><text x="1118.7" y="713.0">ts</text><text x="1081.3" y="708.7">ts</text><text x="1135.1" y="719.8">ts</text><text x="1065.9" y="731.1">ts</text><text x="1072.1" y="726.9">ts</text><text x="1105.9" y="710.1">ts</text><text x="1134.3" y="713.5">ts</text><text x="1074.4" y="711.0">ts</text><text x="1109.5" y="725.6">ts</text><text x="1107.2" y="703.1">ts</text><text x="1081.6" y="701.8">ts</text><text x="1094.8" y="707.7">ts</text><text x="1124.9" y="707.4">ts</text><text x="1130.3" y="738.9">ts</text><text x="1116.6" y="713.8">ts</text></g><g fill="#BEBEBE"><text x="1137.1" y="695.5">tʃ</text><text x="1100.4" y="723.2">tʃ</text><text x="1119.2" y="704.3">tʃ</text><text x="1093.9" y="700.1">tʃ</text><text x="1145.6" y="731.3">tʃ</text><text x="1145.8" y="707.0">tʃ</text><text x="1112.4" y="696.0">tʃ</text><text x="1070.2" y="714.8">tʃ</text><text x="1122.0" y="690.4">tʃ</text><text x="1066.4" y="710.8">tʃ</text><text x="1063.2" y="720.1">tʃ</text><text x="1137.8" y="692.4">tʃ</text><text x="1093.1" y="718.2">tʃ</text><text x="1132.1" y="706.1">tʃ</text><text x="1098.6" y="702.9">tʃ</text><text x="1118.5" y="713.9">tʃ</text><text x="1095.6" y="699.9">tʃ</text><text x="1099.0" y="703.7">tʃ</text><text x="1089.3" y="690.1">tʃ</text><text x="1104.1" y="716.4">tʃ</text><text x="1104.8" y="721.6">tʃ</text><text x="1113.1" y="715.6">tʃ</text><text x="1123.0" y="719.9">tʃ</text><text x="1072.9" y="702.2">tʃ</text><text x="1095.8" y="691.3">tʃ</text><text x="1108.1" y="704.3">tʃ</text><text x="1107.2" y="699.1">tʃ</text><text x="1088.0" y="717.1">tʃ</text><text x="1067.9" y="705.6">tʃ</text><text x="1084.1" y="702.1">tʃ</text><text x="1078.7" y="721.0">tʃ</text><text x="1129.9" y="702.7">tʃ</text><text x="1159.8" y="708.8">tʃ</text><text x="1145.8" y="692.6">tʃ</text><text x="1085.9" y="698.2">tʃ</text><text x="1091.8" y="710.0">tʃ</text><text x="1099.0" y="705.0">tʃ</text><text x="1075.8" y="718.1">tʃ</text><text x="1113.6" y="696.9">tʃ</text><text x="1113.6" y="718.0">tʃ</text><text x="1110.2" y="702.8">tʃ</text><text x="1121.6" y="716.1">tʃ</text><text x="1113.6" y="706.8">tʃ</text><text x="1089.3" y="707.5">tʃ</text><text x="1062.3" y="696.7">tʃ</text><text x="1062.4" y="709.7">tʃ</text><text x="1091.1" y="694.6">tʃ</text><text x="1089.0" y="713.2">tʃ</text><text x="1128.6" y="693.3">tʃ</text><text x="1090.8" y="707.7">tʃ</text></g><g fill="#BEBEBE"><text x="1108.0" y="584.3">ts</text><text x="1135.0" y="584.3">ts</text><text x="1210.0" y="610.3">ts</text><text x="1231.0" y="627.3">ts</text><text x="1248.0" y="636.3">ts</text><text x="1216.0" y="649.3">ts</text><text x="1094.0" y="759.3">ts</text></g><g fill="#BEBEBE"><text x="1070.0" y="552.6">tʃ</text><text x="1184.0" y="629.6">tʃ</text><text x="1190.0" y="647.6">tʃ</text><text x="1196.0" y="662.6">tʃ</text><text x="1205.0" y="667.6">tʃ</text><text x="1200.0" y="647.6">tʃ</text><text x="1070.0" y="757.6">tʃ</text><text x="1180.0" y="637.6">tʃ</text></g><g fill="#F8766D"><text x="1070.0" y="562.3">ts</text><text x="1130.0" y="593.3">ts</text></g><g fill="#F8766D"><text x="1070.0" y="582.5">dz</text><text x="1215.0" y="590.5">dz</text><text x="1193.0" y="610.5">dz</text></g><g fill="#F8766D"><text x="1160.0" y="607.9">ts'</text><text x="1130.0" y="629.9">ts'</text><text x="1145.0" y="634.9">ts'</text></g><g fill="#F8766D"><text x="1069.6" y="615.8">ts</text><text x="1069.7" y="694.7">ts</text><text x="1069.1" y="700.4">ts</text><text x="1069.6" y="689.3">ts</text><text x="1068.9" y="626.1">ts</text><text x="1069.0" y="704.5">ts</text><text x="1069.0" y="646.3">ts</text><text x="1069.6" y="640.8">ts</text><text x="1069.4" y="667.4">ts</text><text x="1069.2" y="702.8">ts</text><text x="1069.5" y="680.9">ts</text><text x="1069.5" y="666.8">ts</text><text x="1069.0" y="701.3">ts</text><text x="1069.7" y="606.3">ts</text><text x="1069.2" y="616.2">ts</text><text x="1068.9" y="662.1">ts</text><text x="1069.2" y="609.9">ts</text><text x="1069.3" y="675.7">ts</text><text x="1068.9" y="669.9">ts</text><text x="1069.5" y="691.7">ts</text><text x="1069.8" y="697.4">ts</text><text x="1069.2" y="604.0">ts</text><text x="1069.1" y="614.1">ts</text><text x="1069.7" y="637.2">ts</text><text x="1069.4" y="679.3">ts</text><text x="1069.3" y="711.1">ts</text><text x="1069.5" y="664.1">ts</text><text x="1069.0" y="622.4">ts</text><text x="1069.5" y="645.8">ts</text><text x="1069.4" y="697.2">ts</text><text x="1069.5" y="692.3">ts</text><text x="1069.2" y="602.3">ts</text><text x="1069.1" y="700.2">ts</text><text x="1069.0" y="608.7">ts</text><text x="1068.9" y="711.3">ts</text><text x="1069.0" y="603.3">ts</text><text x="1069.2" y="599.4">ts</text><text x="1069.5" y="674.9">ts</text><text x="1069.2" y="679.2">ts</text><text x="1068.8" y="687.5">ts</text></g><g fill="#F8766D"><text x="1110.3" y="628.7">ts</text><text x="1146.6" y="699.7">ts</text><text x="1140.9" y="655.1">ts</text><text x="1117.8" y="681.3">ts</text><text x="1121.0" y="633.7">ts</text><text x="1121.4" y="636.3">ts</text><text x="1145.8" y="636.5">ts</text><text x="1141.2" y="660.7">ts</text><text x="1121.2" y="675.1">ts</text><text x="1106.8" y="687.9">ts</text><text x="1116.9" y="646.8">ts</text><text x="1132.3" y="662.5">ts</text><text x="1112.6" y="676.7">ts</text><text x="1110.2" y="657.6">ts</text><text x="1113.1" y="654.0">ts</text><text x="1134.4" y="652.7">ts</text><text x="1111.0" y="681.0">ts</text><text x="1132.5" y="638.3">ts</text><text x="1117.9" y="644.7">ts</text><text x="1146.6" y="672.7">ts</text><text x="1136.6" y="661.0">ts</text><text x="1095.1" y="652.8">ts</text><text x="1128.9" y="639.8">ts</text><text x="1148.4" y="659.2">ts</text><text x="1138.9" y="681.6">ts</text><text x="1103.8" y="627.0">ts</text><text x="1138.8" y="626.6">ts</text><text x="1128.4" y="650.0">ts</text><text x="1144.0" y="654.9">ts</text><text x="1131.3" y="649.7">ts</text><text x="1095.9" y="652.6">ts</text><text x="1143.8" y="650.9">ts</text><text x="1127.4" y="654.4">ts</text><text x="1133.5" y="667.6">ts</text><text x="1140.6" y="632.6">ts</text><text x="1097.2" y="679.2">ts</text><text x="1117.2" y="656.1">ts</text><text x="1146.4" y="644.5">ts</text><text x="1149.4" y="656.0">ts</text><text x="1095.3" y="656.1">ts</text><text x="1126.2" y="659.3">ts</text><text x="1145.0" y="676.8">ts</text><text x="1117.8" y="654.5">ts</text><text x="1130.7" y="691.2">ts</text><text x="1102.9" y="686.5">ts</text><text x="1142.4" y="666.4">ts</text><text x="1131.2" y="644.3">ts</text><text x="1121.9" y="685.9">ts</text><text x="1134.3" y="685.5">ts</text><text x="1135.9" y="648.3">ts</text><text x="1138.8" y="697.0">ts</text><text x="1150.8" y="671.5">ts</text><text x="1103.0" y="676.2">ts</text><text x="1099.9" y="696.4">ts</text><text x="1114.5" y="632.7">ts</text><text x="1141.5" y="670.2">ts</text><text x="1126.9" y="691.8">ts</text><text x="1120.8" y="671.8">ts</text><text x="1131.8" y="670.4">ts</text><text x="1133.0" y="669.9">ts</text><text x="1098.1" y="647.4">ts</text><text x="1127.2" y="636.8">ts</text><text x="1136.6" y="648.0">ts</text><text x="1109.2" y="669.6">ts</text><text x="1111.7" y="642.4">ts</text><text x="1120.2" y="644.9">ts</text><text x="1128.0" y="676.7">ts</text><text x="1115.1" y="663.6">ts</text><text x="1120.0" y="653.8">ts</text><text x="1111.3" y="668.6">ts</text><text x="1118.8" y="649.9">ts</text><text x="1116.3" y="637.0">ts</text><text x="1131.8" y="651.9">ts</text><text x="1105.1" y="679.7">ts</text><text x="1148.4" y="641.5">ts</text><text x="1136.6" y="642.3">ts</text><text x="1126.6" y="674.1">ts</text><text x="1111.4" y="632.9">ts</text><text x="1116.9" y="663.9">ts</text><text x="1133.8" y="643.5">ts</text><text x="1126.6" y="698.9">ts</text><text x="1128.4" y="625.0">ts</text><text x="1130.5" y="627.9">ts</text><text x="1114.9" y="642.2">ts</text><text x="1143.8" y="680.9">ts</text></g><g fill="#F8766D"><text x="1085.0" y="676.8">ts</text><text x="1097.8" y="679.9">ts</text><text x="1078.5" y="687.9">ts</text><text x="1083.1" y="633.3">ts</text><text x="1099.7" y="685.1">ts</text><text x="1081.5" y="685.9">ts</text><text x="1083.7" y="665.7">ts</text><text x="1095.9" y="615.7">ts</text><text x="1082.0" y="620.8">ts</text><text x="1081.1" y="690.8">ts</text><text x="1078.7" y="637.9">ts</text><text x="1096.7" y="611.3">ts</text><text x="1088.1" y="684.3">ts</text><text x="1098.1" y="683.4">ts</text><text x="1079.2" y="612.9">ts</text></g><g fill="#00BFC4"><text x="1069.0" y="695.4">tɬ</text><text x="1069.0" y="688.4">tɬ</text></g><g fill="#F8766D"><text x="1100.0" y="699.3">ts</text><text x="1112.0" y="699.3">ts</text></g></g>
<line x1="1059.3999999999999" x2="1281.6" y1="597.24" y2="597.24" stroke="#000" stroke-width="2.9" stroke-dasharray="11.35 11.35"/>
<line x1="1059.3999999999999" x2="1281.6" y1="720.87" y2="720.87" stroke="#000" stroke-width="2.9" stroke-dasharray="11.35 11.35"/>
</g>
<rect x="1059.8" y="444.4" width="221.8" height="319.4" fill="none" stroke="#333" stroke-width="1.9"/>
<rect x="111.0" y="15.1" width="221.8" height="46.699999999999996" fill="#D9D9D9" stroke="#333" stroke-width="1.9"/>
<text x="221.90" y="46.7" text-anchor="middle" font-size="23.47" fill="#1A1A1A">plain</text>
<rect x="111.0" y="61.8" width="221.8" height="47.3" fill="#D9D9D9" stroke="#333" stroke-width="1.9"/>
<text x="221.90" y="93.6" text-anchor="middle" font-size="23.47" fill="#1A1A1A">bilabial</text>
<rect x="348.2" y="15.1" width="221.8" height="46.699999999999996" fill="#D9D9D9" stroke="#333" stroke-width="1.9"/>
<text x="459.10" y="46.7" text-anchor="middle" font-size="23.47" fill="#1A1A1A">plain</text>
<rect x="348.2" y="61.8" width="221.8" height="47.3" fill="#D9D9D9" stroke="#333" stroke-width="1.9"/>
<text x="459.10" y="93.6" text-anchor="middle" font-size="23.47" fill="#1A1A1A">dental</text>
<rect x="585.4" y="15.1" width="221.8" height="46.699999999999996" fill="#D9D9D9" stroke="#333" stroke-width="1.9"/>
<text x="696.30" y="46.7" text-anchor="middle" font-size="23.47" fill="#1A1A1A">plain</text>
<rect x="585.4" y="61.8" width="221.8" height="47.3" fill="#D9D9D9" stroke="#333" stroke-width="1.9"/>
<text x="696.30" y="93.6" text-anchor="middle" font-size="23.47" fill="#1A1A1A">velar</text>
<rect x="822.6" y="15.1" width="221.8" height="46.699999999999996" fill="#D9D9D9" stroke="#333" stroke-width="1.9"/>
<text x="933.50" y="46.7" text-anchor="middle" font-size="23.47" fill="#1A1A1A">plain</text>
<rect x="822.6" y="61.8" width="221.8" height="47.3" fill="#D9D9D9" stroke="#333" stroke-width="1.9"/>
<text x="933.50" y="93.6" text-anchor="middle" font-size="23.47" fill="#1A1A1A">uvular</text>
<rect x="1059.8" y="15.1" width="221.8" height="46.699999999999996" fill="#D9D9D9" stroke="#333" stroke-width="1.9"/>
<text x="1170.70" y="46.7" text-anchor="middle" font-size="23.47" fill="#1A1A1A">affricate</text>
<rect x="1059.8" y="61.8" width="221.8" height="47.3" fill="#D9D9D9" stroke="#333" stroke-width="1.9"/>
<text x="1170.70" y="93.6" text-anchor="middle" font-size="23.47" fill="#1A1A1A">dental</text>
<line x1="111.0" x2="332.8" y1="61.8" y2="61.8" stroke="#333" stroke-width="2.5"/>
<line x1="111.0" x2="332.8" y1="109.1" y2="109.1" stroke="#333" stroke-width="2.3"/>
<line x1="348.2" x2="570.0" y1="61.8" y2="61.8" stroke="#333" stroke-width="2.5"/>
<line x1="348.2" x2="570.0" y1="109.1" y2="109.1" stroke="#333" stroke-width="2.3"/>
<line x1="585.4" x2="807.2" y1="61.8" y2="61.8" stroke="#333" stroke-width="2.5"/>
<line x1="585.4" x2="807.2" y1="109.1" y2="109.1" stroke="#333" stroke-width="2.3"/>
<line x1="822.6" x2="1044.4" y1="61.8" y2="61.8" stroke="#333" stroke-width="2.5"/>
<line x1="822.6" x2="1044.4" y1="109.1" y2="109.1" stroke="#333" stroke-width="2.3"/>
<line x1="1059.8" x2="1281.6" y1="61.8" y2="61.8" stroke="#333" stroke-width="2.5"/>
<line x1="1059.8" x2="1281.6" y1="109.1" y2="109.1" stroke="#333" stroke-width="2.3"/>
<rect x="1281.6" y="109.1" width="47.30" height="319.9" fill="#D9D9D9" stroke="#333" stroke-width="1.9"/>
<text transform="translate(1297.3 269.05) rotate(90)" x="0" y="0" text-anchor="middle" font-size="23.47" fill="#1A1A1A">Andi</text>
<rect x="1281.6" y="444.4" width="47.30" height="319.4" fill="#D9D9D9" stroke="#333" stroke-width="1.9"/>
<text transform="translate(1297.3 604.10) rotate(90)" x="0" y="0" text-anchor="middle" font-size="23.47" fill="#1A1A1A">Rutul</text>
<line x1="103.2" x2="111.0" y1="414.70" y2="414.70" stroke="#333" stroke-width="2.4"/>
<text x="96.9" y="423.70" text-anchor="end" font-size="23.47" fill="#4D4D4D">0</text>
<line x1="103.2" x2="111.0" y1="319.60" y2="319.60" stroke="#333" stroke-width="2.4"/>
<text x="96.9" y="328.60" text-anchor="end" font-size="23.47" fill="#4D4D4D">100</text>
<line x1="103.2" x2="111.0" y1="224.50" y2="224.50" stroke="#333" stroke-width="2.4"/>
<text x="96.9" y="233.50" text-anchor="end" font-size="23.47" fill="#4D4D4D">200</text>
<line x1="103.2" x2="111.0" y1="129.40" y2="129.40" stroke="#333" stroke-width="2.4"/>
<text x="96.9" y="138.40" text-anchor="end" font-size="23.47" fill="#4D4D4D">300</text>
<line x1="103.2" x2="111.0" y1="749.40" y2="749.40" stroke="#333" stroke-width="2.4"/>
<text x="96.9" y="758.40" text-anchor="end" font-size="23.47" fill="#4D4D4D">0</text>
<line x1="103.2" x2="111.0" y1="654.30" y2="654.30" stroke="#333" stroke-width="2.4"/>
<text x="96.9" y="663.30" text-anchor="end" font-size="23.47" fill="#4D4D4D">100</text>
<line x1="103.2" x2="111.0" y1="559.20" y2="559.20" stroke="#333" stroke-width="2.4"/>
<text x="96.9" y="568.20" text-anchor="end" font-size="23.47" fill="#4D4D4D">200</text>
<line x1="103.2" x2="111.0" y1="464.10" y2="464.10" stroke="#333" stroke-width="2.4"/>
<text x="96.9" y="473.10" text-anchor="end" font-size="23.47" fill="#4D4D4D">300</text>
<line x1="120.35" x2="120.35" y1="763.8" y2="771.1" stroke="#333" stroke-width="2.4"/>
<text x="120.35" y="794.3" text-anchor="middle" font-size="23.47" fill="#4D4D4D">0</text>
<line x1="185.65" x2="185.65" y1="763.8" y2="771.1" stroke="#333" stroke-width="2.4"/>
<text x="185.65" y="794.3" text-anchor="middle" font-size="23.47" fill="#4D4D4D">100</text>
<line x1="250.95" x2="250.95" y1="763.8" y2="771.1" stroke="#333" stroke-width="2.4"/>
<text x="250.95" y="794.3" text-anchor="middle" font-size="23.47" fill="#4D4D4D">200</text>
<line x1="316.25" x2="316.25" y1="763.8" y2="771.1" stroke="#333" stroke-width="2.4"/>
<text x="316.25" y="794.3" text-anchor="middle" font-size="23.47" fill="#4D4D4D">300</text>
<line x1="357.30" x2="357.30" y1="763.8" y2="771.1" stroke="#333" stroke-width="2.4"/>
<text x="357.30" y="794.3" text-anchor="middle" font-size="23.47" fill="#4D4D4D">0</text>
<line x1="433.75" x2="433.75" y1="763.8" y2="771.1" stroke="#333" stroke-width="2.4"/>
<text x="433.75" y="794.3" text-anchor="middle" font-size="23.47" fill="#4D4D4D">100</text>
<line x1="510.20" x2="510.20" y1="763.8" y2="771.1" stroke="#333" stroke-width="2.4"/>
<text x="510.20" y="794.3" text-anchor="middle" font-size="23.47" fill="#4D4D4D">200</text>
<line x1="595.00" x2="595.00" y1="763.8" y2="771.1" stroke="#333" stroke-width="2.4"/>
<text x="595.00" y="794.3" text-anchor="middle" font-size="23.47" fill="#4D4D4D">0</text>
<line x1="646.03" x2="646.03" y1="763.8" y2="771.1" stroke="#333" stroke-width="2.4"/>
<text x="646.03" y="794.3" text-anchor="middle" font-size="23.47" fill="#4D4D4D">100</text>
<line x1="697.06" x2="697.06" y1="763.8" y2="771.1" stroke="#333" stroke-width="2.4"/>
<text x="697.06" y="794.3" text-anchor="middle" font-size="23.47" fill="#4D4D4D">200</text>
<line x1="748.09" x2="748.09" y1="763.8" y2="771.1" stroke="#333" stroke-width="2.4"/>
<text x="748.09" y="794.3" text-anchor="middle" font-size="23.47" fill="#4D4D4D">300</text>
<line x1="799.12" x2="799.12" y1="763.8" y2="771.1" stroke="#333" stroke-width="2.4"/>
<text x="799.12" y="794.3" text-anchor="middle" font-size="23.47" fill="#4D4D4D">400</text>
<line x1="832.20" x2="832.20" y1="763.8" y2="771.1" stroke="#333" stroke-width="2.4"/>
<text x="832.20" y="794.3" text-anchor="middle" font-size="23.47" fill="#4D4D4D">0</text>
<line x1="882.30" x2="882.30" y1="763.8" y2="771.1" stroke="#333" stroke-width="2.4"/>
<text x="882.30" y="794.3" text-anchor="middle" font-size="23.47" fill="#4D4D4D">100</text>
<line x1="932.40" x2="932.40" y1="763.8" y2="771.1" stroke="#333" stroke-width="2.4"/>
<text x="932.40" y="794.3" text-anchor="middle" font-size="23.47" fill="#4D4D4D">200</text>
<line x1="982.50" x2="982.50" y1="763.8" y2="771.1" stroke="#333" stroke-width="2.4"/>
<text x="982.50" y="794.3" text-anchor="middle" font-size="23.47" fill="#4D4D4D">300</text>
<line x1="1032.60" x2="1032.60" y1="763.8" y2="771.1" stroke="#333" stroke-width="2.4"/>
<text x="1032.60" y="794.3" text-anchor="middle" font-size="23.47" fill="#4D4D4D">400</text>
<line x1="1069.30" x2="1069.30" y1="763.8" y2="771.1" stroke="#333" stroke-width="2.4"/>
<text x="1069.30" y="794.3" text-anchor="middle" font-size="23.47" fill="#4D4D4D">0</text>
<line x1="1143.15" x2="1143.15" y1="763.8" y2="771.1" stroke="#333" stroke-width="2.4"/>
<text x="1143.15" y="794.3" text-anchor="middle" font-size="23.47" fill="#4D4D4D">100</text>
<line x1="1217.00" x2="1217.00" y1="763.8" y2="771.1" stroke="#333" stroke-width="2.4"/>
<text x="1217.00" y="794.3" text-anchor="middle" font-size="23.47" fill="#4D4D4D">200</text>
<text x="696.2" y="831.9" text-anchor="middle" font-size="29.33" fill="#000">CD (ms)</text>
<text transform="translate(37 437.2) rotate(-90)" text-anchor="middle" font-size="29.33" fill="#000">VOT (ms)</text>
<text x="506" y="917.4" font-size="29.33" fill="#000">folVowel</text>
<text x="650.0" y="918.3" text-anchor="middle" font-size="28.3" fill="#F8766D">a</text>
<text x="712.0" y="918.3" text-anchor="middle" font-size="28.3" fill="#7CAE00">a</text>
<text x="782.4" y="918.3" text-anchor="middle" font-size="28.3" fill="#00BFC4">a</text>
<text x="845.2" y="918.3" text-anchor="middle" font-size="28.3" fill="#C77CFF">a</text>
<text x="679.0" y="915.9" font-size="23.47" fill="#000">ɨ</text>
<text x="741.3" y="915.9" font-size="23.47" fill="#000">ɨ:</text>
<text x="811.0" y="915.9" font-size="23.47" fill="#000">i</text>
<text x="872.6" y="915.9" font-size="23.47" fill="#000">u</text>
</svg></body></html>
